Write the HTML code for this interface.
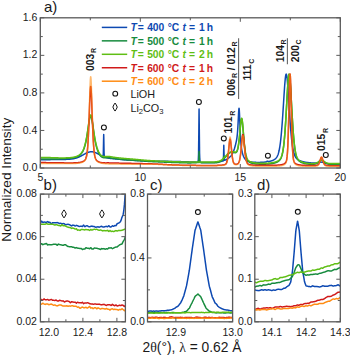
<!DOCTYPE html>
<html><head><meta charset="utf-8"><style>
html,body{margin:0;padding:0;background:#fff;}
svg{display:block;font-family:"Liberation Sans",sans-serif;}
</style></head><body>
<svg width="350" height="356" viewBox="0 0 350 356">
<rect width="350" height="356" fill="#fff"/>
<defs><clipPath id="ca"><rect x="40.30" y="17.80" width="300.00" height="150.20"/></clipPath><clipPath id="cb"><rect x="40.40" y="194.10" width="85.00" height="127.70"/></clipPath><clipPath id="cc"><rect x="147.50" y="194.10" width="85.10" height="127.70"/></clipPath><clipPath id="cd"><rect x="254.80" y="194.10" width="85.50" height="127.70"/></clipPath></defs>
<polyline clip-path="url(#ca)" points="40.30,159.70 40.55,159.70 40.80,159.70 41.05,159.70 41.30,159.70 41.55,159.70 41.80,159.70 42.05,159.70 42.30,159.70 42.55,159.70 42.80,159.69 43.05,159.69 43.30,159.69 43.55,159.69 43.80,159.69 44.05,159.69 44.30,159.69 44.55,159.69 44.80,159.68 45.05,159.68 45.30,159.68 45.55,159.68 45.80,159.68 46.05,159.67 46.30,159.67 46.55,159.67 46.80,159.67 47.05,159.66 47.30,159.66 47.55,159.66 47.80,159.66 48.05,159.65 48.30,159.65 48.55,159.65 48.80,159.65 49.05,159.64 49.30,159.64 49.55,159.64 49.80,159.63 50.05,159.63 50.30,159.63 50.55,159.62 50.80,159.62 51.05,159.62 51.30,159.61 51.55,159.61 51.80,159.61 52.05,159.61 52.30,159.60 52.55,159.60 52.80,159.60 53.05,159.59 53.30,159.59 53.55,159.59 53.80,159.58 54.05,159.58 54.30,159.57 54.55,159.57 54.80,159.57 55.05,159.56 55.30,159.56 55.55,159.56 55.80,159.55 56.05,159.55 56.30,159.55 56.55,159.54 56.80,159.54 57.05,159.54 57.30,159.53 57.55,159.53 57.80,159.53 58.05,159.52 58.30,159.52 58.55,159.52 58.80,159.52 59.05,159.51 59.30,159.51 59.55,159.51 59.80,159.50 60.05,159.50 60.30,159.50 60.55,159.49 60.80,159.49 61.05,159.49 61.30,159.48 61.55,159.48 61.80,159.47 62.05,159.47 62.30,159.47 62.55,159.46 62.80,159.46 63.05,159.45 63.30,159.45 63.55,159.44 63.80,159.44 64.05,159.43 64.30,159.43 64.55,159.42 64.80,159.41 65.05,159.41 65.30,159.40 65.55,159.39 65.80,159.39 66.05,159.38 66.30,159.37 66.55,159.36 66.80,159.35 67.05,159.34 67.30,159.33 67.55,159.32 67.80,159.31 68.05,159.29 68.30,159.28 68.55,159.26 68.80,159.25 69.05,159.23 69.30,159.21 69.55,159.20 69.80,159.18 70.05,159.16 70.30,159.13 70.55,159.11 70.80,159.08 71.05,159.06 71.30,159.03 71.55,159.00 71.80,158.97 72.05,158.94 72.30,158.90 72.55,158.86 72.80,158.82 73.05,158.78 73.30,158.74 73.55,158.69 73.80,158.65 74.05,158.59 74.30,158.54 74.55,158.49 74.80,158.43 75.05,158.37 75.30,158.30 75.55,158.23 75.80,158.16 76.05,158.09 76.30,158.02 76.55,157.94 76.80,157.85 77.05,157.77 77.30,157.68 77.55,157.59 77.80,157.49 78.05,157.40 78.30,157.29 78.55,157.19 78.80,157.08 79.05,156.97 79.30,156.86 79.55,156.74 79.80,156.62 80.05,156.50 80.30,156.38 80.55,156.25 80.80,156.12 81.05,155.99 81.30,155.86 81.55,155.72 81.80,155.59 82.05,155.45 82.30,155.31 82.55,155.17 82.80,155.03 83.05,154.89 83.30,154.74 83.55,154.60 83.80,154.46 84.05,154.32 84.30,154.18 84.55,154.04 84.80,153.90 85.05,153.77 85.30,153.63 85.55,153.50 85.80,153.37 86.05,153.25 86.30,153.13 86.55,153.01 86.80,152.89 87.05,152.78 87.30,152.67 87.55,152.57 87.80,152.48 88.05,152.38 88.30,152.30 88.55,152.22 88.80,152.14 89.05,152.07 89.30,152.01 89.55,151.96 89.80,151.91 90.05,151.87 90.30,151.83 90.55,151.80 90.70,151.79 90.80,151.78 91.05,151.77 91.30,151.76 91.55,151.76 91.80,151.77 92.05,151.78 92.30,151.80 92.55,151.83 92.80,151.87 93.05,151.91 93.30,151.96 93.55,152.01 93.80,152.07 94.05,152.14 94.30,152.21 94.55,152.29 94.80,152.38 95.05,152.47 95.30,152.56 95.55,152.66 95.80,152.76 96.05,152.87 96.30,152.98 96.55,153.10 96.80,153.22 97.05,153.34 97.30,153.46 97.55,153.59 97.80,153.72 98.05,153.85 98.30,153.98 98.55,154.12 98.80,154.25 99.05,154.38 99.30,154.52 99.55,154.65 99.80,154.79 100.05,154.92 100.30,155.06 100.55,155.19 100.80,155.32 101.05,155.45 101.30,155.58 101.55,155.71 101.80,155.83 102.05,155.95 102.30,156.07 102.55,156.17 102.80,156.21 103.05,155.96 103.30,153.77 103.55,141.73 103.70,134.58 103.80,138.30 104.05,152.83 104.30,156.30 104.55,156.91 104.80,157.10 105.05,157.21 105.30,157.30 105.55,157.39 105.80,157.47 106.05,157.55 106.30,157.62 106.55,157.69 106.80,157.76 107.05,157.82 107.30,157.88 107.55,157.94 107.80,158.00 108.05,158.05 108.30,158.10 108.55,158.15 108.80,158.20 109.05,158.24 109.30,158.28 109.55,158.32 109.80,158.36 110.05,158.39 110.30,158.42 110.55,158.46 110.80,158.48 111.05,158.51 111.30,158.54 111.55,158.56 111.80,158.58 112.05,158.60 112.30,158.62 112.55,158.65 112.80,158.67 113.05,158.69 113.30,158.71 113.55,158.73 113.80,158.75 114.05,158.77 114.30,158.80 114.55,158.82 114.80,158.84 115.05,158.87 115.30,158.89 115.55,158.91 115.80,158.94 116.05,158.96 116.30,158.99 116.55,159.01 116.80,159.04 117.05,159.06 117.30,159.09 117.55,159.11 117.80,159.14 118.05,159.16 118.30,159.19 118.55,159.21 118.80,159.24 119.05,159.27 119.30,159.29 119.55,159.32 119.80,159.34 120.05,159.37 120.30,159.40 120.55,159.42 120.80,159.45 121.05,159.47 121.30,159.50 121.55,159.52 121.80,159.54 122.05,159.57 122.30,159.59 122.55,159.61 122.80,159.64 123.05,159.66 123.30,159.68 123.55,159.70 123.80,159.72 124.05,159.74 124.30,159.75 124.55,159.77 124.80,159.79 125.05,159.80 125.30,159.82 125.55,159.83 125.80,159.85 126.05,159.86 126.30,159.88 126.55,159.89 126.80,159.91 127.05,159.92 127.30,159.94 127.55,159.95 127.80,159.97 128.05,159.98 128.30,159.99 128.55,160.01 128.80,160.02 129.05,160.04 129.30,160.05 129.55,160.07 129.80,160.08 130.05,160.09 130.30,160.11 130.55,160.12 130.80,160.14 131.05,160.15 131.30,160.16 131.55,160.18 131.80,160.19 132.05,160.21 132.30,160.22 132.55,160.23 132.80,160.25 133.05,160.26 133.30,160.28 133.55,160.29 133.80,160.30 134.05,160.32 134.30,160.33 134.55,160.34 134.80,160.36 135.05,160.37 135.30,160.38 135.55,160.39 135.80,160.41 136.05,160.42 136.30,160.43 136.55,160.45 136.80,160.46 137.05,160.47 137.30,160.48 137.55,160.50 137.80,160.51 138.05,160.52 138.30,160.53 138.55,160.55 138.80,160.56 139.05,160.57 139.30,160.58 139.55,160.59 139.80,160.61 140.05,160.62 140.30,160.63 140.55,160.64 140.80,160.65 141.05,160.66 141.30,160.67 141.55,160.69 141.80,160.70 142.05,160.71 142.30,160.72 142.55,160.73 142.80,160.74 143.05,160.75 143.30,160.76 143.55,160.77 143.80,160.78 144.05,160.79 144.30,160.80 144.55,160.81 144.80,160.82 145.05,160.83 145.30,160.84 145.55,160.85 145.80,160.86 146.05,160.87 146.30,160.88 146.55,160.89 146.80,160.90 147.05,160.91 147.30,160.91 147.55,160.92 147.80,160.93 148.05,160.94 148.30,160.95 148.55,160.96 148.80,160.96 149.05,160.97 149.30,160.98 149.55,160.99 149.80,160.99 150.05,161.00 150.30,161.01 150.55,161.02 150.80,161.02 151.05,161.03 151.30,161.04 151.55,161.04 151.80,161.05 152.05,161.06 152.30,161.06 152.55,161.07 152.80,161.08 153.05,161.08 153.30,161.09 153.55,161.09 153.80,161.10 154.05,161.11 154.30,161.11 154.55,161.12 154.80,161.12 155.05,161.13 155.30,161.14 155.55,161.14 155.80,161.15 156.05,161.15 156.30,161.16 156.55,161.16 156.80,161.17 157.05,161.17 157.30,161.18 157.55,161.18 157.80,161.19 158.05,161.19 158.30,161.20 158.55,161.20 158.80,161.21 159.05,161.21 159.30,161.22 159.55,161.22 159.80,161.23 160.05,161.23 160.30,161.24 160.55,161.24 160.80,161.25 161.05,161.25 161.30,161.25 161.55,161.26 161.80,161.26 162.05,161.27 162.30,161.27 162.55,161.28 162.80,161.28 163.05,161.28 163.30,161.29 163.55,161.29 163.80,161.30 164.05,161.30 164.30,161.31 164.55,161.31 164.80,161.31 165.05,161.32 165.30,161.32 165.55,161.33 165.80,161.33 166.05,161.33 166.30,161.34 166.55,161.34 166.80,161.35 167.05,161.35 167.30,161.35 167.55,161.36 167.80,161.36 168.05,161.37 168.30,161.37 168.55,161.38 168.80,161.38 169.05,161.38 169.30,161.39 169.55,161.39 169.80,161.40 170.05,161.40 170.30,161.40 170.55,161.41 170.80,161.41 171.05,161.42 171.30,161.42 171.55,161.43 171.80,161.43 172.05,161.44 172.30,161.44 172.55,161.44 172.80,161.45 173.05,161.45 173.30,161.46 173.55,161.46 173.80,161.47 174.05,161.47 174.30,161.48 174.55,161.48 174.80,161.49 175.05,161.49 175.30,161.50 175.55,161.50 175.80,161.51 176.05,161.51 176.30,161.52 176.55,161.52 176.80,161.53 177.05,161.53 177.30,161.54 177.55,161.54 177.80,161.55 178.05,161.55 178.30,161.56 178.55,161.57 178.80,161.57 179.05,161.58 179.30,161.58 179.55,161.59 179.80,161.60 180.05,161.60 180.30,161.61 180.55,161.61 180.80,161.62 181.05,161.63 181.30,161.63 181.55,161.64 181.80,161.65 182.05,161.65 182.30,161.66 182.55,161.67 182.80,161.68 183.05,161.68 183.30,161.69 183.55,161.70 183.80,161.70 184.05,161.71 184.30,161.72 184.55,161.73 184.80,161.73 185.05,161.74 185.30,161.75 185.55,161.76 185.80,161.77 186.05,161.77 186.30,161.78 186.55,161.79 186.80,161.80 187.05,161.81 187.30,161.81 187.55,161.82 187.80,161.83 188.05,161.84 188.30,161.85 188.55,161.85 188.80,161.86 189.05,161.87 189.30,161.88 189.55,161.89 189.80,161.89 190.05,161.90 190.30,161.91 190.55,161.92 190.80,161.93 191.05,161.94 191.30,161.94 191.55,161.95 191.80,161.96 192.05,161.97 192.30,161.98 192.55,161.99 192.80,162.00 193.05,162.01 193.30,162.02 193.55,162.04 193.80,162.05 194.05,162.06 194.30,162.07 194.55,162.08 194.80,162.09 195.05,162.10 195.30,162.11 195.55,162.12 195.80,162.14 196.05,162.15 196.30,162.16 196.55,162.17 196.80,162.17 197.05,162.18 197.30,162.17 197.55,162.14 197.80,162.02 198.05,161.63 198.30,160.18 198.55,154.34 198.80,134.18 199.05,109.22 199.07,109.05 199.30,129.72 199.55,152.68 199.80,159.82 200.05,161.61 200.30,162.10 200.55,162.26 200.80,162.33 201.05,162.36 201.30,162.38 201.55,162.40 201.80,162.41 202.05,162.42 202.30,162.43 202.55,162.44 202.80,162.45 203.05,162.46 203.30,162.47 203.55,162.48 203.80,162.49 204.05,162.50 204.30,162.51 204.55,162.52 204.80,162.52 205.05,162.53 205.30,162.54 205.55,162.55 205.80,162.55 206.05,162.56 206.30,162.57 206.55,162.57 206.80,162.58 207.05,162.58 207.30,162.59 207.55,162.59 207.80,162.60 208.05,162.60 208.30,162.61 208.55,162.61 208.80,162.61 209.05,162.61 209.30,162.61 209.55,162.62 209.80,162.62 210.05,162.62 210.30,162.62 210.55,162.62 210.80,162.61 211.05,162.61 211.30,162.61 211.55,162.61 211.80,162.60 212.05,162.60 212.30,162.59 212.55,162.58 212.80,162.57 213.05,162.56 213.30,162.54 213.55,162.52 213.80,162.50 214.05,162.48 214.30,162.45 214.55,162.42 214.80,162.39 215.05,162.36 215.30,162.33 215.55,162.30 215.80,162.27 216.05,162.23 216.30,162.19 216.55,162.16 216.80,162.12 217.05,162.08 217.30,162.04 217.55,162.00 217.80,161.96 218.05,161.92 218.30,161.88 218.55,161.83 218.80,161.79 219.05,161.75 219.30,161.70 219.55,161.66 219.80,161.62 220.05,161.57 220.30,161.53 220.55,161.48 220.80,161.44 221.05,161.39 221.30,161.34 221.55,161.29 221.80,161.24 222.05,161.18 222.30,161.12 222.55,161.05 222.80,160.98 223.05,160.91 223.30,160.63 223.55,155.53 223.80,145.28 224.05,155.35 224.30,160.27 224.55,160.37 224.80,160.26 225.05,160.15 225.30,160.03 225.55,159.91 225.80,159.78 226.05,159.65 226.30,159.51 226.55,159.37 226.80,159.22 227.05,159.06 227.30,158.90 227.55,158.74 227.80,158.57 228.05,158.40 228.30,158.22 228.55,158.03 228.80,157.84 229.05,157.64 229.30,157.43 229.55,157.22 229.80,156.99 230.05,156.76 230.10,156.71 230.30,156.51 230.55,156.25 230.80,155.97 231.05,155.68 231.30,155.36 231.55,155.02 231.80,154.66 232.05,154.27 232.30,153.84 232.55,153.39 232.80,152.89 233.05,152.36 233.30,151.79 233.55,151.17 233.80,150.50 234.05,149.79 234.30,149.04 234.55,148.23 234.80,147.38 235.05,146.49 235.30,145.55 235.55,144.57 235.80,143.55 236.05,142.47 236.30,141.31 236.55,140.04 236.80,138.58 237.05,136.81 237.30,134.57 237.55,131.72 237.80,128.10 238.05,123.71 238.30,118.71 238.55,113.66 238.80,109.67 239.05,108.24 239.08,108.30 239.30,110.26 239.55,115.11 239.80,121.30 240.05,127.54 240.30,133.13 240.55,137.81 240.80,141.56 241.05,144.49 241.30,146.78 241.55,148.60 241.70,149.53 241.80,150.09 242.05,151.35 242.30,152.44 242.55,153.41 242.80,154.27 242.90,154.59 243.05,155.05 243.30,155.75 243.55,156.38 243.80,156.95 244.05,157.47 244.30,157.93 244.55,158.34 244.80,158.71 245.05,159.05 245.30,159.34 245.55,159.61 245.80,159.86 246.05,160.07 246.30,160.27 246.55,160.45 246.80,160.61 247.05,160.75 247.30,160.89 247.55,161.01 247.80,161.12 248.05,161.22 248.30,161.32 248.55,161.40 248.80,161.48 249.05,161.55 249.30,161.62 249.55,161.68 249.80,161.74 250.05,161.80 250.30,161.85 250.55,161.89 250.80,161.94 251.05,161.98 251.30,162.01 251.55,162.05 251.80,162.08 252.05,162.11 252.30,162.14 252.55,162.16 252.80,162.19 253.05,162.21 253.30,162.23 253.55,162.25 253.80,162.27 254.05,162.28 254.30,162.30 254.55,162.31 254.80,162.33 255.05,162.34 255.30,162.35 255.55,162.36 255.80,162.37 256.05,162.37 256.30,162.38 256.55,162.39 256.80,162.39 257.05,162.39 257.30,162.40 257.55,162.40 257.80,162.40 258.05,162.40 258.30,162.40 258.55,162.40 258.80,162.40 259.05,162.40 259.30,162.39 259.55,162.39 259.80,162.38 260.05,162.38 260.30,162.37 260.55,162.36 260.80,162.35 261.05,162.34 261.30,162.33 261.55,162.32 261.80,162.31 262.05,162.30 262.30,162.28 262.55,162.27 262.80,162.25 263.05,162.24 263.30,162.22 263.55,162.20 263.80,162.18 264.05,162.16 264.30,162.14 264.55,162.12 264.80,162.09 265.05,162.07 265.30,162.04 265.55,162.01 265.80,161.97 266.05,161.90 266.30,161.79 266.55,161.64 266.80,161.47 267.05,161.31 267.30,161.23 267.55,161.24 267.80,161.32 268.05,161.41 268.30,161.49 268.55,161.52 268.80,161.51 269.05,161.48 269.30,161.43 269.55,161.38 269.80,161.32 270.05,161.26 270.30,161.20 270.55,161.13 270.80,161.06 271.05,160.99 271.30,160.91 271.55,160.83 271.80,160.74 272.05,160.65 272.30,160.56 272.55,160.46 272.80,160.35 273.05,160.24 273.30,160.12 273.55,160.00 273.80,159.86 274.05,159.72 274.30,159.57 274.55,159.40 274.80,159.23 275.05,159.04 275.30,158.83 275.55,158.60 275.80,158.35 276.05,158.08 276.30,157.77 276.55,157.44 276.80,157.06 277.05,156.64 277.30,156.17 277.55,155.65 277.80,155.06 278.05,154.39 278.30,153.64 278.55,152.80 278.80,151.85 279.05,150.78 279.30,149.59 279.55,148.25 279.80,146.77 280.05,145.12 280.30,143.29 280.55,141.28 280.80,139.09 281.05,136.69 281.30,134.09 281.55,131.29 281.80,128.28 282.05,125.08 282.30,121.70 282.55,118.14 282.80,114.43 283.05,110.59 283.30,106.66 283.55,102.68 283.80,98.69 284.05,94.75 284.30,90.93 284.55,87.30 284.80,83.95 285.05,80.96 285.30,78.42 285.55,76.41 285.80,75.00 286.05,74.25 286.20,74.12 286.30,74.18 286.55,74.80 286.80,76.09 287.05,77.98 287.30,80.43 287.55,83.34 287.80,86.63 288.05,90.21 288.30,94.01 288.55,97.93 288.80,101.92 289.05,105.91 289.10,106.71 289.30,109.86 289.55,113.72 289.80,117.46 290.05,121.06 290.10,121.76 290.30,124.48 290.55,127.72 290.80,130.77 291.05,133.62 291.30,136.26 291.55,138.70 291.80,140.95 292.05,142.99 292.30,144.86 292.55,146.55 292.80,148.07 293.05,149.44 293.30,150.66 293.55,151.76 293.80,152.73 294.05,153.60 294.30,154.37 294.55,155.06 294.80,155.67 295.05,156.21 295.30,156.70 295.55,157.13 295.80,157.52 296.05,157.86 296.30,158.18 296.55,158.46 296.80,158.72 297.05,158.96 297.30,159.17 297.55,159.37 297.80,159.56 298.05,159.73 298.30,159.89 298.55,160.04 298.80,160.18 299.05,160.31 299.30,160.44 299.55,160.56 299.80,160.67 300.05,160.77 300.30,160.88 300.55,160.97 300.80,161.06 301.05,161.15 301.30,161.23 301.55,161.31 301.80,161.39 302.05,161.46 302.30,161.53 302.55,161.60 302.80,161.66 303.05,161.72 303.30,161.78 303.55,161.84 303.80,161.90 304.05,161.95 304.30,162.00 304.55,162.05 304.80,162.10 305.05,162.14 305.30,162.18 305.55,162.23 305.80,162.27 306.05,162.31 306.30,162.35 306.55,162.38 306.80,162.42 307.05,162.45 307.30,162.49 307.55,162.52 307.80,162.55 308.05,162.58 308.30,162.61 308.55,162.64 308.80,162.67 309.05,162.70 309.30,162.73 309.55,162.75 309.80,162.78 310.05,162.80 310.30,162.83 310.55,162.85 310.80,162.87 311.05,162.89 311.30,162.91 311.55,162.93 311.80,162.95 312.05,162.97 312.30,162.99 312.55,163.00 312.80,163.02 313.05,163.03 313.30,163.04 313.55,163.05 313.80,163.05 314.05,163.06 314.30,163.06 314.55,163.06 314.80,163.05 315.05,163.04 315.30,163.03 315.55,163.01 315.80,162.98 316.05,162.96 316.30,162.93 316.55,162.89 316.80,162.85 317.05,162.80 317.30,162.76 317.55,162.70 317.80,162.65 318.05,162.59 318.30,162.53 318.55,162.47 318.80,162.42 319.05,162.36 319.30,162.31 319.55,162.26 319.80,162.22 320.05,162.18 320.30,162.15 320.55,162.13 320.80,162.12 321.05,162.11 321.30,162.12 321.50,162.13 321.55,162.14 321.80,162.16 322.05,162.20 322.30,162.24 322.55,162.29 322.80,162.35 323.05,162.41 323.30,162.48 323.55,162.56 323.80,162.63 324.05,162.71 324.30,162.79 324.55,162.87 324.80,162.95 325.05,163.03 325.30,163.10 325.55,163.18 325.80,163.24 326.05,163.31 326.30,163.37 326.55,163.42 326.80,163.47 327.05,163.52 327.30,163.56 327.55,163.59 327.80,163.63 328.05,163.66 328.30,163.69 328.55,163.71 328.80,163.73 329.05,163.75 329.30,163.77 329.55,163.78 329.80,163.79 330.05,163.81 330.30,163.82 330.55,163.83 330.80,163.84 331.05,163.84 331.30,163.85 331.55,163.86 331.80,163.87 332.05,163.87 332.30,163.88 332.55,163.88 332.80,163.89 333.05,163.89 333.30,163.90 333.55,163.91 333.80,163.91 334.05,163.92 334.30,163.92 334.55,163.92 334.80,163.93 335.05,163.93 335.30,163.94 335.55,163.94 335.80,163.95 336.05,163.95 336.30,163.95 336.55,163.96 336.80,163.96 337.05,163.96 337.30,163.97 337.55,163.97 337.80,163.97 338.05,163.98 338.30,163.98 338.55,163.98 338.80,163.99 339.05,163.99 339.30,163.99 339.55,163.99 339.80,164.00 340.05,164.00 340.30,164.00" fill="none" stroke="#0d49b2" stroke-width="1.5" stroke-linejoin="round"/>
<polyline clip-path="url(#ca)" points="40.30,159.10 40.55,159.10 40.80,159.10 41.05,159.10 41.30,159.10 41.55,159.10 41.80,159.10 42.05,159.10 42.30,159.09 42.55,159.09 42.80,159.09 43.05,159.09 43.30,159.09 43.55,159.09 43.80,159.09 44.05,159.09 44.30,159.09 44.55,159.08 44.80,159.08 45.05,159.08 45.30,159.08 45.55,159.08 45.80,159.08 46.05,159.08 46.30,159.07 46.55,159.07 46.80,159.07 47.05,159.07 47.30,159.07 47.55,159.06 47.80,159.06 48.05,159.06 48.30,159.06 48.55,159.06 48.80,159.05 49.05,159.05 49.30,159.05 49.55,159.05 49.80,159.04 50.05,159.04 50.30,159.04 50.55,159.04 50.80,159.03 51.05,159.03 51.30,159.03 51.55,159.02 51.80,159.02 52.05,159.02 52.30,159.01 52.55,159.01 52.80,159.01 53.05,159.00 53.30,159.00 53.55,158.99 53.80,158.99 54.05,158.99 54.30,158.98 54.55,158.98 54.80,158.97 55.05,158.97 55.30,158.96 55.55,158.96 55.80,158.95 56.05,158.95 56.30,158.94 56.55,158.94 56.80,158.93 57.05,158.93 57.30,158.92 57.55,158.91 57.80,158.91 58.05,158.90 58.30,158.89 58.55,158.89 58.80,158.88 59.05,158.87 59.30,158.86 59.55,158.86 59.80,158.85 60.05,158.84 60.30,158.83 60.55,158.82 60.80,158.81 61.05,158.80 61.30,158.79 61.55,158.78 61.80,158.77 62.05,158.76 62.30,158.75 62.55,158.74 62.80,158.73 63.05,158.71 63.30,158.70 63.55,158.69 63.80,158.67 64.05,158.66 64.30,158.64 64.55,158.63 64.80,158.61 65.05,158.60 65.30,158.58 65.55,158.56 65.80,158.55 66.05,158.53 66.30,158.52 66.55,158.50 66.80,158.48 67.05,158.47 67.30,158.45 67.55,158.43 67.80,158.42 68.05,158.40 68.30,158.38 68.55,158.36 68.80,158.35 69.05,158.33 69.30,158.31 69.55,158.29 69.80,158.26 70.05,158.24 70.30,158.22 70.55,158.20 70.80,158.17 71.05,158.14 71.30,158.12 71.55,158.09 71.80,158.06 72.05,158.03 72.30,157.99 72.55,157.96 72.80,157.92 73.05,157.88 73.30,157.84 73.55,157.79 73.80,157.75 74.05,157.70 74.30,157.65 74.55,157.59 74.80,157.53 75.05,157.47 75.30,157.41 75.55,157.34 75.80,157.26 76.05,157.18 76.30,157.10 76.55,157.01 76.80,156.92 77.05,156.82 77.30,156.71 77.55,156.60 77.80,156.48 78.05,156.35 78.30,156.21 78.55,156.06 78.80,155.91 79.05,155.74 79.30,155.57 79.55,155.38 79.80,155.18 80.05,154.96 80.30,154.73 80.55,154.49 80.80,154.23 81.05,153.95 81.30,153.65 81.55,153.32 81.80,152.98 82.05,152.61 82.30,152.21 82.55,151.79 82.80,151.33 83.05,150.84 83.30,150.31 83.55,149.74 83.80,149.13 84.05,148.47 84.30,147.76 84.55,147.00 84.80,146.18 85.05,145.30 85.30,144.35 85.55,143.33 85.80,142.24 86.05,141.07 86.30,139.82 86.55,138.49 86.80,137.07 87.05,135.57 87.30,134.00 87.55,132.35 87.80,130.65 88.05,128.90 88.30,127.13 88.55,125.36 88.80,123.62 89.05,121.96 89.30,120.42 89.55,119.03 89.80,117.85 90.05,116.92 90.30,116.28 90.55,115.94 90.70,115.90 90.80,115.94 91.05,116.26 91.30,116.89 91.55,117.82 91.80,119.00 92.05,120.40 92.30,121.97 92.55,123.66 92.80,125.43 93.05,127.25 93.30,129.07 93.55,130.88 93.80,132.64 94.05,134.35 94.30,135.98 94.55,137.55 94.80,139.03 95.05,140.42 95.30,141.74 95.55,142.97 95.80,144.12 96.05,145.20 96.30,146.21 96.55,147.15 96.80,148.02 97.05,148.84 97.30,149.60 97.55,150.31 97.80,150.97 98.05,151.59 98.30,152.17 98.55,152.70 98.80,153.21 99.05,153.68 99.30,154.11 99.55,154.53 99.80,154.91 100.05,155.27 100.30,155.60 100.55,155.90 100.80,156.17 101.05,156.41 101.30,156.63 101.55,156.82 101.80,156.99 102.05,157.14 102.30,157.27 102.55,157.38 102.80,157.48 103.05,157.56 103.30,157.63 103.55,157.68 103.70,157.71 103.80,157.72 104.05,157.76 104.30,157.78 104.55,157.79 104.80,157.80 105.05,157.80 105.30,157.80 105.55,157.79 105.80,157.78 106.05,157.76 106.30,157.75 106.55,157.73 106.80,157.71 107.05,157.69 107.30,157.68 107.55,157.66 107.80,157.65 108.05,157.64 108.30,157.64 108.55,157.64 108.80,157.65 109.05,157.67 109.30,157.69 109.55,157.72 109.80,157.76 110.05,157.81 110.30,157.86 110.55,157.91 110.80,157.96 111.05,158.01 111.30,158.05 111.55,158.10 111.80,158.14 112.05,158.18 112.30,158.23 112.55,158.27 112.80,158.31 113.05,158.35 113.30,158.38 113.55,158.42 113.80,158.46 114.05,158.49 114.30,158.53 114.55,158.57 114.80,158.60 115.05,158.63 115.30,158.67 115.55,158.70 115.80,158.73 116.05,158.76 116.30,158.80 116.55,158.83 116.80,158.86 117.05,158.89 117.30,158.92 117.55,158.95 117.80,158.98 118.05,159.00 118.30,159.03 118.55,159.06 118.80,159.09 119.05,159.12 119.30,159.14 119.55,159.17 119.80,159.20 120.05,159.22 120.30,159.25 120.55,159.28 120.80,159.30 121.05,159.33 121.30,159.35 121.55,159.38 121.80,159.40 122.05,159.43 122.30,159.45 122.55,159.48 122.80,159.50 123.05,159.52 123.30,159.55 123.55,159.57 123.80,159.59 124.05,159.62 124.30,159.64 124.55,159.66 124.80,159.69 125.05,159.71 125.30,159.73 125.55,159.75 125.80,159.77 126.05,159.79 126.30,159.81 126.55,159.84 126.80,159.86 127.05,159.88 127.30,159.90 127.55,159.92 127.80,159.94 128.05,159.96 128.30,159.98 128.55,159.99 128.80,160.01 129.05,160.03 129.30,160.05 129.55,160.07 129.80,160.09 130.05,160.10 130.30,160.12 130.55,160.14 130.80,160.16 131.05,160.17 131.30,160.19 131.55,160.21 131.80,160.23 132.05,160.25 132.30,160.26 132.55,160.28 132.80,160.30 133.05,160.32 133.30,160.34 133.55,160.36 133.80,160.38 134.05,160.39 134.30,160.41 134.55,160.43 134.80,160.45 135.05,160.47 135.30,160.49 135.55,160.51 135.80,160.53 136.05,160.54 136.30,160.56 136.55,160.58 136.80,160.60 137.05,160.62 137.30,160.64 137.55,160.66 137.80,160.68 138.05,160.70 138.30,160.72 138.55,160.73 138.80,160.75 139.05,160.77 139.30,160.79 139.55,160.81 139.80,160.83 140.05,160.85 140.30,160.87 140.55,160.88 140.80,160.90 141.05,160.92 141.30,160.94 141.55,160.96 141.80,160.98 142.05,160.99 142.30,161.01 142.55,161.03 142.80,161.05 143.05,161.07 143.30,161.08 143.55,161.10 143.80,161.12 144.05,161.14 144.30,161.15 144.55,161.17 144.80,161.19 145.05,161.20 145.30,161.22 145.55,161.24 145.80,161.25 146.05,161.27 146.30,161.29 146.55,161.30 146.80,161.32 147.05,161.33 147.30,161.35 147.55,161.36 147.80,161.38 148.05,161.39 148.30,161.41 148.55,161.42 148.80,161.44 149.05,161.45 149.30,161.46 149.55,161.48 149.80,161.49 150.05,161.50 150.30,161.52 150.55,161.53 150.80,161.54 151.05,161.55 151.30,161.57 151.55,161.58 151.80,161.59 152.05,161.60 152.30,161.62 152.55,161.63 152.80,161.64 153.05,161.65 153.30,161.66 153.55,161.68 153.80,161.69 154.05,161.70 154.30,161.71 154.55,161.72 154.80,161.73 155.05,161.75 155.30,161.76 155.55,161.77 155.80,161.78 156.05,161.79 156.30,161.80 156.55,161.81 156.80,161.83 157.05,161.84 157.30,161.85 157.55,161.86 157.80,161.87 158.05,161.88 158.30,161.89 158.55,161.90 158.80,161.91 159.05,161.92 159.30,161.93 159.55,161.94 159.80,161.96 160.05,161.97 160.30,161.98 160.55,161.99 160.80,162.00 161.05,162.01 161.30,162.02 161.55,162.03 161.80,162.04 162.05,162.05 162.30,162.06 162.55,162.07 162.80,162.08 163.05,162.09 163.30,162.10 163.55,162.11 163.80,162.12 164.05,162.13 164.30,162.14 164.55,162.15 164.80,162.16 165.05,162.16 165.30,162.17 165.55,162.18 165.80,162.19 166.05,162.20 166.30,162.21 166.55,162.22 166.80,162.23 167.05,162.24 167.30,162.25 167.55,162.26 167.80,162.27 168.05,162.28 168.30,162.28 168.55,162.29 168.80,162.30 169.05,162.31 169.30,162.32 169.55,162.33 169.80,162.34 170.05,162.35 170.30,162.35 170.55,162.36 170.80,162.37 171.05,162.38 171.30,162.39 171.55,162.40 171.80,162.40 172.05,162.41 172.30,162.42 172.55,162.43 172.80,162.44 173.05,162.45 173.30,162.45 173.55,162.46 173.80,162.47 174.05,162.48 174.30,162.49 174.55,162.49 174.80,162.50 175.05,162.51 175.30,162.52 175.55,162.53 175.80,162.53 176.05,162.54 176.30,162.55 176.55,162.56 176.80,162.56 177.05,162.57 177.30,162.58 177.55,162.59 177.80,162.59 178.05,162.60 178.30,162.61 178.55,162.62 178.80,162.62 179.05,162.63 179.30,162.64 179.55,162.65 179.80,162.66 180.05,162.67 180.30,162.67 180.55,162.68 180.80,162.69 181.05,162.70 181.30,162.71 181.55,162.72 181.80,162.73 182.05,162.73 182.30,162.74 182.55,162.75 182.80,162.76 183.05,162.77 183.30,162.77 183.55,162.78 183.80,162.79 184.05,162.80 184.30,162.81 184.55,162.81 184.80,162.82 185.05,162.83 185.30,162.83 185.55,162.84 185.80,162.85 186.05,162.85 186.30,162.86 186.55,162.86 186.80,162.87 187.05,162.87 187.30,162.88 187.55,162.88 187.80,162.89 188.05,162.89 188.30,162.89 188.55,162.89 188.80,162.90 189.05,162.90 189.30,162.90 189.55,162.90 189.80,162.90 190.05,162.90 190.30,162.90 190.55,162.90 190.80,162.89 191.05,162.89 191.30,162.88 191.55,162.87 191.80,162.86 192.05,162.85 192.30,162.84 192.55,162.83 192.80,162.82 193.05,162.80 193.30,162.79 193.55,162.78 193.80,162.76 194.05,162.75 194.30,162.74 194.55,162.72 194.80,162.71 195.05,162.70 195.30,162.68 195.55,162.67 195.80,162.66 196.05,162.65 196.30,162.64 196.55,162.63 196.80,162.62 197.05,162.61 197.30,162.61 197.55,162.60 197.80,162.60 198.05,162.60 198.30,162.60 198.55,162.42 198.80,158.93 199.05,151.53 199.07,151.48 199.30,157.76 199.55,162.30 199.80,162.60 200.05,162.61 200.30,162.61 200.55,162.62 200.80,162.62 201.05,162.63 201.30,162.63 201.55,162.64 201.80,162.64 202.05,162.65 202.30,162.65 202.55,162.66 202.80,162.66 203.05,162.67 203.30,162.68 203.55,162.68 203.80,162.69 204.05,162.70 204.30,162.70 204.55,162.71 204.80,162.72 205.05,162.73 205.30,162.73 205.55,162.74 205.80,162.75 206.05,162.75 206.30,162.76 206.55,162.77 206.80,162.77 207.05,162.78 207.30,162.78 207.55,162.79 207.80,162.80 208.05,162.80 208.30,162.81 208.55,162.81 208.80,162.82 209.05,162.82 209.30,162.83 209.55,162.83 209.80,162.84 210.05,162.84 210.30,162.84 210.55,162.85 210.80,162.85 211.05,162.86 211.30,162.86 211.55,162.86 211.80,162.86 212.05,162.87 212.30,162.87 212.55,162.87 212.80,162.87 213.05,162.87 213.30,162.87 213.55,162.86 213.80,162.86 214.05,162.85 214.30,162.85 214.55,162.84 214.80,162.83 215.05,162.81 215.30,162.80 215.55,162.78 215.80,162.76 216.05,162.74 216.30,162.71 216.55,162.68 216.80,162.64 217.05,162.61 217.30,162.56 217.55,162.51 217.80,162.46 218.05,162.40 218.30,162.34 218.55,162.27 218.80,162.19 219.05,162.11 219.30,162.01 219.55,161.91 219.80,161.81 220.05,161.69 220.30,161.57 220.55,161.43 220.80,161.29 221.05,161.14 221.30,160.98 221.55,160.81 221.80,160.63 222.05,160.44 222.30,160.25 222.55,160.04 222.80,159.82 223.05,159.60 223.30,159.31 223.55,158.12 223.80,156.24 224.05,157.61 224.30,158.29 224.55,158.08 224.80,157.81 225.05,157.53 225.30,157.25 225.55,156.96 225.80,156.67 226.05,156.39 226.30,156.10 226.55,155.82 226.80,155.54 227.05,155.26 227.30,154.99 227.55,154.73 227.80,154.47 228.05,154.22 228.30,153.98 228.55,153.76 228.80,153.54 229.05,153.34 229.30,153.16 229.55,152.98 229.80,152.83 230.05,152.68 230.10,152.66 230.30,152.56 230.55,152.45 230.80,152.36 231.05,152.29 231.30,152.23 231.55,152.19 231.80,152.16 232.05,152.15 232.30,152.16 232.55,152.18 232.80,152.21 233.05,152.25 233.30,152.30 233.55,152.36 233.80,152.42 234.05,152.49 234.30,152.55 234.55,152.61 234.80,152.66 235.05,152.69 235.30,152.70 235.55,152.68 235.80,152.62 236.05,152.50 236.30,152.32 236.55,152.06 236.80,151.70 237.05,151.23 237.30,150.61 237.55,149.84 237.80,148.89 238.05,147.74 238.30,146.38 238.55,144.79 238.80,142.97 239.05,140.91 239.08,140.65 239.30,138.63 239.55,136.15 239.80,133.51 240.05,130.77 240.30,128.01 240.55,125.35 240.80,122.94 241.05,120.93 241.30,119.49 241.55,118.77 241.70,118.72 241.80,118.85 242.05,119.74 242.30,121.37 242.55,123.60 242.80,126.28 242.90,127.43 243.05,129.23 243.30,132.30 243.55,135.38 243.80,138.38 244.05,141.23 244.30,143.89 244.55,146.32 244.80,148.53 245.05,150.50 245.30,152.25 245.55,153.77 245.80,155.10 246.05,156.24 246.30,157.22 246.55,158.05 246.80,158.76 247.05,159.36 247.30,159.87 247.55,160.31 247.80,160.68 248.05,161.01 248.30,161.29 248.55,161.53 248.80,161.75 249.05,161.94 249.30,162.12 249.55,162.27 249.80,162.41 250.05,162.54 250.30,162.66 250.55,162.77 250.80,162.87 251.05,162.97 251.30,163.05 251.55,163.13 251.80,163.21 252.05,163.27 252.30,163.34 252.55,163.40 252.80,163.46 253.05,163.51 253.30,163.56 253.55,163.61 253.80,163.65 254.05,163.69 254.30,163.73 254.55,163.76 254.80,163.80 255.05,163.83 255.30,163.86 255.55,163.89 255.80,163.92 256.05,163.94 256.30,163.96 256.55,163.99 256.80,164.01 257.05,164.03 257.30,164.04 257.55,164.06 257.80,164.08 258.05,164.09 258.30,164.11 258.55,164.12 258.80,164.13 259.05,164.14 259.30,164.15 259.55,164.16 259.80,164.17 260.05,164.17 260.30,164.18 260.55,164.19 260.80,164.19 261.05,164.19 261.30,164.20 261.55,164.20 261.80,164.20 262.05,164.20 262.30,164.20 262.55,164.20 262.80,164.20 263.05,164.19 263.30,164.19 263.55,164.19 263.80,164.18 264.05,164.18 264.30,164.17 264.55,164.17 264.80,164.16 265.05,164.15 265.30,164.14 265.55,164.14 265.80,164.13 266.05,164.11 266.30,164.10 266.55,164.09 266.80,164.08 267.05,164.06 267.30,164.05 267.55,164.03 267.80,164.02 268.05,164.00 268.30,163.98 268.55,163.96 268.80,163.94 269.05,163.92 269.30,163.90 269.55,163.87 269.80,163.85 270.05,163.82 270.30,163.79 270.55,163.76 270.80,163.73 271.05,163.70 271.30,163.66 271.55,163.63 271.80,163.59 272.05,163.55 272.30,163.51 272.55,163.46 272.80,163.42 273.05,163.37 273.30,163.32 273.55,163.26 273.80,163.21 274.05,163.15 274.30,163.08 274.55,163.02 274.80,162.95 275.05,162.87 275.30,162.80 275.55,162.71 275.80,162.63 276.05,162.54 276.30,162.44 276.55,162.33 276.80,162.23 277.05,162.11 277.30,161.98 277.55,161.85 277.80,161.71 278.05,161.56 278.30,161.39 278.55,161.22 278.80,161.02 279.05,160.81 279.30,160.58 279.55,160.33 279.80,160.05 280.05,159.74 280.30,159.39 280.55,159.00 280.80,158.56 281.05,158.05 281.30,157.48 281.55,156.83 281.80,156.09 282.05,155.24 282.30,154.27 282.55,153.16 282.80,151.90 283.05,150.48 283.30,148.86 283.55,147.04 283.80,145.00 284.05,142.73 284.30,140.21 284.55,137.44 284.80,134.41 285.05,131.12 285.30,127.57 285.55,123.78 285.80,119.76 286.05,115.54 286.20,112.92 286.30,111.15 286.55,106.65 286.80,102.09 287.05,97.54 287.30,93.09 287.55,88.84 287.80,84.90 288.05,81.41 288.30,78.48 288.55,76.23 288.80,74.76 289.05,74.14 289.10,74.13 289.30,74.41 289.55,75.55 289.80,77.50 290.05,80.18 290.10,80.79 290.30,83.47 290.55,87.25 290.80,91.39 291.05,95.78 291.30,100.30 291.55,104.87 291.80,109.41 292.05,113.85 292.30,118.15 292.55,122.26 292.80,126.15 293.05,129.80 293.30,133.20 293.55,136.34 293.80,139.22 294.05,141.84 294.30,144.22 294.55,146.35 294.80,148.26 295.05,149.96 295.30,151.47 295.55,152.79 295.80,153.96 296.05,154.99 296.30,155.89 296.55,156.68 296.80,157.37 297.05,157.98 297.30,158.51 297.55,158.98 297.80,159.40 298.05,159.76 298.30,160.09 298.55,160.39 298.80,160.66 299.05,160.90 299.30,161.12 299.55,161.33 299.80,161.51 300.05,161.69 300.30,161.85 300.55,162.00 300.80,162.14 301.05,162.27 301.30,162.39 301.55,162.51 301.80,162.62 302.05,162.72 302.30,162.82 302.55,162.91 302.80,163.00 303.05,163.08 303.30,163.16 303.55,163.24 303.80,163.31 304.05,163.37 304.30,163.44 304.55,163.50 304.80,163.56 305.05,163.61 305.30,163.67 305.55,163.72 305.80,163.76 306.05,163.81 306.30,163.85 306.55,163.89 306.80,163.93 307.05,163.97 307.30,164.00 307.55,164.03 307.80,164.06 308.05,164.09 308.30,164.12 308.55,164.14 308.80,164.17 309.05,164.19 309.30,164.21 309.55,164.23 309.80,164.24 310.05,164.26 310.30,164.27 310.55,164.28 310.80,164.29 311.05,164.30 311.30,164.30 311.55,164.31 311.80,164.31 312.05,164.31 312.30,164.30 312.55,164.30 312.80,164.29 313.05,164.27 313.30,164.25 313.55,164.23 313.80,164.21 314.05,164.18 314.30,164.14 314.55,164.09 314.80,164.04 315.05,163.98 315.30,163.91 315.55,163.84 315.80,163.75 316.05,163.65 316.30,163.54 316.55,163.42 316.80,163.29 317.05,163.14 317.30,162.99 317.55,162.82 317.80,162.64 318.05,162.45 318.30,162.25 318.55,162.05 318.80,161.84 319.05,161.62 319.30,161.41 319.55,161.20 319.80,161.00 320.05,160.81 320.30,160.64 320.55,160.49 320.80,160.37 321.05,160.28 321.30,160.22 321.50,160.21 321.55,160.21 321.80,160.23 322.05,160.29 322.30,160.39 322.55,160.52 322.80,160.67 323.05,160.84 323.30,161.03 323.55,161.23 323.80,161.44 324.05,161.65 324.30,161.85 324.55,162.06 324.80,162.26 325.05,162.45 325.30,162.63 325.55,162.80 325.80,162.96 326.05,163.10 326.30,163.24 326.55,163.37 326.80,163.48 327.05,163.58 327.30,163.68 327.55,163.76 327.80,163.83 328.05,163.90 328.30,163.95 328.55,164.00 328.80,164.05 329.05,164.08 329.30,164.12 329.55,164.14 329.80,164.17 330.05,164.19 330.30,164.21 330.55,164.22 330.80,164.23 331.05,164.24 331.30,164.25 331.55,164.26 331.80,164.27 332.05,164.27 332.30,164.28 332.55,164.28 332.80,164.28 333.05,164.29 333.30,164.29 333.55,164.29 333.80,164.29 334.05,164.29 334.30,164.30 334.55,164.30 334.80,164.30 335.05,164.30 335.30,164.30 335.55,164.30 335.80,164.30 336.05,164.30 336.30,164.30 336.55,164.30 336.80,164.30 337.05,164.30 337.30,164.30 337.55,164.30 337.80,164.30 338.05,164.30 338.30,164.30 338.55,164.30 338.80,164.30 339.05,164.30 339.30,164.30 339.55,164.30 339.80,164.30 340.05,164.30 340.30,164.30" fill="none" stroke="#178b3e" stroke-width="1.5" stroke-linejoin="round"/>
<polyline clip-path="url(#ca)" points="40.30,157.40 40.55,157.40 40.80,157.40 41.05,157.40 41.30,157.40 41.55,157.40 41.80,157.41 42.05,157.41 42.30,157.41 42.55,157.41 42.80,157.42 43.05,157.42 43.30,157.42 43.55,157.43 43.80,157.43 44.05,157.43 44.30,157.44 44.55,157.44 44.80,157.45 45.05,157.45 45.30,157.46 45.55,157.47 45.80,157.47 46.05,157.48 46.30,157.48 46.55,157.49 46.80,157.50 47.05,157.50 47.30,157.51 47.55,157.52 47.80,157.53 48.05,157.53 48.30,157.54 48.55,157.55 48.80,157.56 49.05,157.57 49.30,157.57 49.55,157.58 49.80,157.59 50.05,157.60 50.30,157.61 50.55,157.62 50.80,157.63 51.05,157.63 51.30,157.64 51.55,157.65 51.80,157.66 52.05,157.67 52.30,157.68 52.55,157.69 52.80,157.70 53.05,157.71 53.30,157.71 53.55,157.72 53.80,157.73 54.05,157.74 54.30,157.75 54.55,157.76 54.80,157.77 55.05,157.78 55.30,157.78 55.55,157.79 55.80,157.80 56.05,157.81 56.30,157.82 56.55,157.82 56.80,157.83 57.05,157.84 57.30,157.85 57.55,157.85 57.80,157.86 58.05,157.87 58.30,157.87 58.55,157.88 58.80,157.89 59.05,157.89 59.30,157.90 59.55,157.90 59.80,157.91 60.05,157.91 60.30,157.91 60.55,157.92 60.80,157.92 61.05,157.92 61.30,157.93 61.55,157.93 61.80,157.93 62.05,157.93 62.30,157.93 62.55,157.93 62.80,157.93 63.05,157.93 63.30,157.93 63.55,157.93 63.80,157.92 64.05,157.92 64.30,157.92 64.55,157.91 64.80,157.91 65.05,157.90 65.30,157.89 65.55,157.88 65.80,157.88 66.05,157.87 66.30,157.86 66.55,157.85 66.80,157.84 67.05,157.83 67.30,157.82 67.55,157.81 67.80,157.80 68.05,157.79 68.30,157.78 68.55,157.76 68.80,157.75 69.05,157.73 69.30,157.72 69.55,157.70 69.80,157.68 70.05,157.66 70.30,157.64 70.55,157.62 70.80,157.59 71.05,157.57 71.30,157.54 71.55,157.51 71.80,157.48 72.05,157.45 72.30,157.42 72.55,157.38 72.80,157.34 73.05,157.30 73.30,157.26 73.55,157.21 73.80,157.16 74.05,157.11 74.30,157.06 74.55,157.00 74.80,156.94 75.05,156.87 75.30,156.80 75.55,156.73 75.80,156.65 76.05,156.57 76.30,156.48 76.55,156.39 76.80,156.29 77.05,156.18 77.30,156.07 77.55,155.95 77.80,155.83 78.05,155.69 78.30,155.55 78.55,155.40 78.80,155.24 79.05,155.07 79.30,154.89 79.55,154.69 79.80,154.48 80.05,154.26 80.30,154.03 80.55,153.78 80.80,153.51 81.05,153.22 81.30,152.91 81.55,152.59 81.80,152.23 82.05,151.86 82.30,151.45 82.55,151.02 82.80,150.56 83.05,150.06 83.30,149.52 83.55,148.95 83.80,148.33 84.05,147.67 84.30,146.95 84.55,146.18 84.80,145.36 85.05,144.47 85.30,143.51 85.55,142.49 85.80,141.39 86.05,140.22 86.30,138.96 86.55,137.62 86.80,136.20 87.05,134.70 87.30,133.12 87.55,131.47 87.80,129.76 88.05,128.01 88.30,126.23 88.55,124.46 88.80,122.72 89.05,121.06 89.30,119.51 89.55,118.12 89.80,116.94 90.05,116.00 90.30,115.35 90.55,115.01 90.70,114.96 90.80,114.99 91.05,115.31 91.30,115.93 91.55,116.85 91.80,118.03 92.05,119.41 92.30,120.97 92.55,122.65 92.80,124.41 93.05,126.21 93.30,128.03 93.55,129.82 93.80,131.58 94.05,133.27 94.30,134.90 94.55,136.45 94.80,137.92 95.05,139.31 95.30,140.62 95.55,141.84 95.80,142.99 96.05,144.06 96.30,145.06 96.55,146.00 96.80,146.87 97.05,147.68 97.30,148.43 97.55,149.14 97.80,149.80 98.05,150.41 98.30,150.98 98.55,151.52 98.80,152.01 99.05,152.48 99.30,152.92 99.55,153.33 99.80,153.71 100.05,154.07 100.30,154.40 100.55,154.70 100.80,154.97 101.05,155.21 101.30,155.42 101.55,155.61 101.80,155.78 102.05,155.93 102.30,156.06 102.55,156.18 102.80,156.27 103.05,156.35 103.30,156.42 103.55,156.48 103.70,156.50 103.80,156.52 104.05,156.55 104.30,156.57 104.55,156.59 104.80,156.60 105.05,156.60 105.30,156.59 105.55,156.59 105.80,156.57 106.05,156.56 106.30,156.54 106.55,156.53 106.80,156.51 107.05,156.49 107.30,156.48 107.55,156.46 107.80,156.45 108.05,156.44 108.30,156.44 108.55,156.44 108.80,156.45 109.05,156.47 109.30,156.49 109.55,156.52 109.80,156.56 110.05,156.61 110.30,156.66 110.55,156.71 110.80,156.76 111.05,156.81 111.30,156.85 111.55,156.90 111.80,156.94 112.05,156.98 112.30,157.02 112.55,157.06 112.80,157.10 113.05,157.14 113.30,157.18 113.55,157.22 113.80,157.25 114.05,157.29 114.30,157.33 114.55,157.36 114.80,157.39 115.05,157.43 115.30,157.46 115.55,157.49 115.80,157.53 116.05,157.56 116.30,157.59 116.55,157.62 116.80,157.65 117.05,157.68 117.30,157.71 117.55,157.74 117.80,157.77 118.05,157.80 118.30,157.82 118.55,157.85 118.80,157.88 119.05,157.91 119.30,157.93 119.55,157.96 119.80,157.99 120.05,158.01 120.30,158.04 120.55,158.07 120.80,158.09 121.05,158.12 121.30,158.14 121.55,158.17 121.80,158.19 122.05,158.22 122.30,158.24 122.55,158.26 122.80,158.29 123.05,158.31 123.30,158.34 123.55,158.36 123.80,158.38 124.05,158.41 124.30,158.43 124.55,158.45 124.80,158.47 125.05,158.50 125.30,158.52 125.55,158.54 125.80,158.56 126.05,158.58 126.30,158.60 126.55,158.63 126.80,158.65 127.05,158.67 127.30,158.69 127.55,158.71 127.80,158.73 128.05,158.75 128.30,158.77 128.55,158.79 128.80,158.81 129.05,158.83 129.30,158.85 129.55,158.87 129.80,158.89 130.05,158.90 130.30,158.92 130.55,158.94 130.80,158.96 131.05,158.98 131.30,159.00 131.55,159.02 131.80,159.04 132.05,159.06 132.30,159.08 132.55,159.10 132.80,159.12 133.05,159.14 133.30,159.17 133.55,159.19 133.80,159.21 134.05,159.23 134.30,159.25 134.55,159.28 134.80,159.30 135.05,159.32 135.30,159.34 135.55,159.37 135.80,159.39 136.05,159.41 136.30,159.44 136.55,159.46 136.80,159.48 137.05,159.51 137.30,159.53 137.55,159.55 137.80,159.58 138.05,159.60 138.30,159.62 138.55,159.65 138.80,159.67 139.05,159.70 139.30,159.72 139.55,159.74 139.80,159.77 140.05,159.79 140.30,159.81 140.55,159.84 140.80,159.86 141.05,159.88 141.30,159.91 141.55,159.93 141.80,159.95 142.05,159.98 142.30,160.00 142.55,160.02 142.80,160.05 143.05,160.07 143.30,160.09 143.55,160.11 143.80,160.13 144.05,160.16 144.30,160.18 144.55,160.20 144.80,160.22 145.05,160.24 145.30,160.26 145.55,160.28 145.80,160.30 146.05,160.32 146.30,160.34 146.55,160.36 146.80,160.38 147.05,160.40 147.30,160.42 147.55,160.44 147.80,160.46 148.05,160.47 148.30,160.49 148.55,160.51 148.80,160.53 149.05,160.54 149.30,160.56 149.55,160.57 149.80,160.59 150.05,160.60 150.30,160.62 150.55,160.63 150.80,160.65 151.05,160.66 151.30,160.68 151.55,160.69 151.80,160.70 152.05,160.72 152.30,160.73 152.55,160.75 152.80,160.76 153.05,160.77 153.30,160.79 153.55,160.80 153.80,160.81 154.05,160.83 154.30,160.84 154.55,160.86 154.80,160.87 155.05,160.88 155.30,160.90 155.55,160.91 155.80,160.92 156.05,160.93 156.30,160.95 156.55,160.96 156.80,160.97 157.05,160.99 157.30,161.00 157.55,161.01 157.80,161.02 158.05,161.04 158.30,161.05 158.55,161.06 158.80,161.07 159.05,161.09 159.30,161.10 159.55,161.11 159.80,161.12 160.05,161.13 160.30,161.15 160.55,161.16 160.80,161.17 161.05,161.18 161.30,161.19 161.55,161.20 161.80,161.22 162.05,161.23 162.30,161.24 162.55,161.25 162.80,161.26 163.05,161.27 163.30,161.28 163.55,161.29 163.80,161.30 164.05,161.32 164.30,161.33 164.55,161.34 164.80,161.35 165.05,161.36 165.30,161.37 165.55,161.38 165.80,161.39 166.05,161.40 166.30,161.41 166.55,161.42 166.80,161.43 167.05,161.44 167.30,161.45 167.55,161.46 167.80,161.47 168.05,161.48 168.30,161.49 168.55,161.50 168.80,161.51 169.05,161.52 169.30,161.53 169.55,161.53 169.80,161.54 170.05,161.55 170.30,161.56 170.55,161.57 170.80,161.58 171.05,161.59 171.30,161.60 171.55,161.61 171.80,161.61 172.05,161.62 172.30,161.63 172.55,161.64 172.80,161.65 173.05,161.66 173.30,161.66 173.55,161.67 173.80,161.68 174.05,161.69 174.30,161.69 174.55,161.70 174.80,161.71 175.05,161.72 175.30,161.73 175.55,161.73 175.80,161.74 176.05,161.75 176.30,161.75 176.55,161.76 176.80,161.77 177.05,161.77 177.30,161.78 177.55,161.79 177.80,161.79 178.05,161.80 178.30,161.81 178.55,161.81 178.80,161.82 179.05,161.83 179.30,161.83 179.55,161.84 179.80,161.85 180.05,161.85 180.30,161.86 180.55,161.87 180.80,161.87 181.05,161.88 181.30,161.89 181.55,161.90 181.80,161.90 182.05,161.91 182.30,161.92 182.55,161.92 182.80,161.93 183.05,161.93 183.30,161.94 183.55,161.95 183.80,161.95 184.05,161.96 184.30,161.97 184.55,161.97 184.80,161.98 185.05,161.98 185.30,161.99 185.55,162.00 185.80,162.00 186.05,162.01 186.30,162.01 186.55,162.02 186.80,162.02 187.05,162.03 187.30,162.03 187.55,162.04 187.80,162.04 188.05,162.05 188.30,162.05 188.55,162.06 188.80,162.06 189.05,162.06 189.30,162.07 189.55,162.07 189.80,162.08 190.05,162.08 190.30,162.08 190.55,162.08 190.80,162.09 191.05,162.09 191.30,162.09 191.55,162.09 191.80,162.10 192.05,162.10 192.30,162.10 192.55,162.10 192.80,162.10 193.05,162.10 193.30,162.10 193.55,162.10 193.80,162.10 194.05,162.10 194.30,162.10 194.55,162.10 194.80,162.10 195.05,162.10 195.30,162.10 195.55,162.09 195.80,162.09 196.05,162.09 196.30,162.09 196.55,162.09 196.80,162.09 197.05,162.09 197.30,162.09 197.55,162.08 197.80,162.08 198.05,162.08 198.30,162.08 198.55,162.08 198.80,162.08 199.05,162.08 199.07,162.08 199.30,162.07 199.55,162.07 199.80,162.07 200.05,162.07 200.30,162.07 200.55,162.06 200.80,162.06 201.05,162.06 201.30,162.06 201.55,162.06 201.80,162.05 202.05,162.05 202.30,162.05 202.55,162.05 202.80,162.05 203.05,162.04 203.30,162.04 203.55,162.04 203.80,162.04 204.05,162.04 204.30,162.03 204.55,162.03 204.80,162.03 205.05,162.03 205.30,162.02 205.55,162.02 205.80,162.02 206.05,162.02 206.30,162.02 206.55,162.01 206.80,162.01 207.05,162.01 207.30,162.01 207.55,162.00 207.80,162.00 208.05,162.00 208.30,162.00 208.55,161.99 208.80,161.99 209.05,161.99 209.30,161.99 209.55,161.99 209.80,161.98 210.05,161.98 210.30,161.98 210.55,161.98 210.80,161.98 211.05,161.97 211.30,161.97 211.55,161.97 211.80,161.96 212.05,161.96 212.30,161.96 212.55,161.95 212.80,161.95 213.05,161.94 213.30,161.93 213.55,161.93 213.80,161.92 214.05,161.91 214.30,161.90 214.55,161.88 214.80,161.87 215.05,161.85 215.30,161.83 215.55,161.81 215.80,161.79 216.05,161.76 216.30,161.74 216.55,161.70 216.80,161.67 217.05,161.63 217.30,161.58 217.55,161.53 217.80,161.48 218.05,161.42 218.30,161.36 218.55,161.29 218.80,161.21 219.05,161.13 219.30,161.04 219.55,160.95 219.80,160.84 220.05,160.73 220.30,160.61 220.55,160.49 220.80,160.35 221.05,160.21 221.30,160.05 221.55,159.89 221.80,159.72 222.05,159.54 222.30,159.35 222.55,159.16 222.80,158.95 223.05,158.74 223.30,158.51 223.55,158.29 223.80,158.05 224.05,157.81 224.30,157.56 224.55,157.30 224.80,157.04 225.05,156.78 225.30,156.51 225.55,156.24 225.80,155.97 226.05,155.70 226.30,155.43 226.55,155.16 226.80,154.90 227.05,154.64 227.30,154.38 227.55,154.13 227.80,153.89 228.05,153.65 228.30,153.43 228.55,153.21 228.80,153.01 229.05,152.82 229.30,152.64 229.55,152.48 229.80,152.33 230.05,152.20 230.10,152.17 230.30,152.08 230.55,151.97 230.80,151.89 231.05,151.82 231.30,151.76 231.55,151.72 231.80,151.69 232.05,151.68 232.30,151.68 232.55,151.70 232.80,151.72 233.05,151.76 233.30,151.80 233.55,151.85 233.80,151.91 234.05,151.96 234.30,152.02 234.55,152.07 234.80,152.10 235.05,152.13 235.30,152.12 235.55,152.09 235.80,152.02 236.05,151.89 236.30,151.70 236.55,151.43 236.80,151.06 237.05,150.58 237.30,149.96 237.55,149.19 237.80,148.23 238.05,147.09 238.30,145.73 238.55,144.14 238.80,142.33 239.05,140.28 239.08,140.02 239.30,138.02 239.55,135.56 239.80,132.94 240.05,130.22 240.30,127.48 240.55,124.84 240.80,122.45 241.05,120.45 241.30,119.02 241.55,118.30 241.70,118.25 241.80,118.37 242.05,119.25 242.30,120.86 242.55,123.06 242.80,125.71 242.90,126.85 243.05,128.62 243.30,131.66 243.55,134.70 243.80,137.67 244.05,140.48 244.30,143.11 244.55,145.52 244.80,147.70 245.05,149.65 245.30,151.37 245.55,152.88 245.80,154.19 246.05,155.32 246.30,156.29 246.55,157.11 246.80,157.81 247.05,158.41 247.30,158.92 247.55,159.35 247.80,159.72 248.05,160.04 248.30,160.32 248.55,160.57 248.80,160.78 249.05,160.98 249.30,161.15 249.55,161.31 249.80,161.45 250.05,161.58 250.30,161.70 250.55,161.81 250.80,161.91 251.05,162.00 251.30,162.09 251.55,162.17 251.80,162.24 252.05,162.32 252.30,162.38 252.55,162.44 252.80,162.50 253.05,162.56 253.30,162.61 253.55,162.65 253.80,162.70 254.05,162.74 254.30,162.78 254.55,162.82 254.80,162.86 255.05,162.89 255.30,162.92 255.55,162.95 255.80,162.98 256.05,163.01 256.30,163.03 256.55,163.05 256.80,163.08 257.05,163.10 257.30,163.12 257.55,163.14 257.80,163.15 258.05,163.17 258.30,163.19 258.55,163.20 258.80,163.21 259.05,163.22 259.30,163.24 259.55,163.25 259.80,163.26 260.05,163.26 260.30,163.27 260.55,163.28 260.80,163.28 261.05,163.29 261.30,163.29 261.55,163.30 261.80,163.30 262.05,163.30 262.30,163.30 262.55,163.30 262.80,163.30 263.05,163.30 263.30,163.30 263.55,163.30 263.80,163.29 264.05,163.29 264.30,163.29 264.55,163.28 264.80,163.27 265.05,163.27 265.30,163.26 265.55,163.25 265.80,163.25 266.05,163.24 266.30,163.23 266.55,163.22 266.80,163.20 267.05,163.19 267.30,163.18 267.55,163.16 267.80,163.15 268.05,163.13 268.30,163.12 268.55,163.10 268.80,163.08 269.05,163.06 269.30,163.04 269.55,163.01 269.80,162.99 270.05,162.97 270.30,162.94 270.55,162.91 270.80,162.88 271.05,162.85 271.30,162.82 271.55,162.78 271.80,162.75 272.05,162.71 272.30,162.67 272.55,162.63 272.80,162.58 273.05,162.53 273.30,162.49 273.55,162.43 273.80,162.38 274.05,162.32 274.30,162.26 274.55,162.20 274.80,162.13 275.05,162.06 275.30,161.98 275.55,161.90 275.80,161.82 276.05,161.73 276.30,161.63 276.55,161.53 276.80,161.42 277.05,161.31 277.30,161.19 277.55,161.06 277.80,160.92 278.05,160.77 278.30,160.61 278.55,160.43 278.80,160.24 279.05,160.04 279.30,159.81 279.55,159.56 279.80,159.28 280.05,158.98 280.30,158.63 280.55,158.24 280.80,157.81 281.05,157.31 281.30,156.75 281.55,156.10 281.80,155.37 282.05,154.52 282.30,153.56 282.55,152.47 282.80,151.22 283.05,149.81 283.30,148.20 283.55,146.40 283.80,144.38 284.05,142.13 284.30,139.64 284.55,136.89 284.80,133.88 285.05,130.62 285.30,127.10 285.55,123.34 285.80,119.36 286.05,115.18 286.20,112.59 286.30,110.83 286.55,106.37 286.80,101.84 287.05,97.33 287.30,92.92 287.55,88.71 287.80,84.81 288.05,81.34 288.30,78.44 288.55,76.20 288.80,74.75 289.05,74.14 289.10,74.13 289.30,74.41 289.55,75.54 289.80,77.47 290.05,80.13 290.10,80.74 290.30,83.40 290.55,87.14 290.80,91.25 291.05,95.60 291.30,100.09 291.55,104.63 291.80,109.13 292.05,113.53 292.30,117.79 292.55,121.87 292.80,125.73 293.05,129.35 293.30,132.72 293.55,135.84 293.80,138.69 294.05,141.30 294.30,143.65 294.55,145.77 294.80,147.66 295.05,149.35 295.30,150.84 295.55,152.16 295.80,153.32 296.05,154.34 296.30,155.23 296.55,156.02 296.80,156.70 297.05,157.30 297.30,157.83 297.55,158.30 297.80,158.71 298.05,159.08 298.30,159.41 298.55,159.70 298.80,159.97 299.05,160.21 299.30,160.43 299.55,160.63 299.80,160.82 300.05,160.99 300.30,161.15 300.55,161.30 300.80,161.44 301.05,161.57 301.30,161.69 301.55,161.81 301.80,161.92 302.05,162.02 302.30,162.12 302.55,162.21 302.80,162.30 303.05,162.38 303.30,162.46 303.55,162.54 303.80,162.61 304.05,162.67 304.30,162.74 304.55,162.80 304.80,162.86 305.05,162.91 305.30,162.97 305.55,163.02 305.80,163.06 306.05,163.11 306.30,163.15 306.55,163.19 306.80,163.23 307.05,163.27 307.30,163.30 307.55,163.34 307.80,163.37 308.05,163.40 308.30,163.42 308.55,163.45 308.80,163.47 309.05,163.49 309.30,163.51 309.55,163.53 309.80,163.55 310.05,163.57 310.30,163.58 310.55,163.59 310.80,163.60 311.05,163.61 311.30,163.62 311.55,163.62 311.80,163.63 312.05,163.63 312.30,163.63 312.55,163.62 312.80,163.62 313.05,163.61 313.30,163.60 313.55,163.58 313.80,163.56 314.05,163.53 314.30,163.50 314.55,163.47 314.80,163.42 315.05,163.37 315.30,163.32 315.55,163.25 315.80,163.18 316.05,163.10 316.30,163.01 316.55,162.91 316.80,162.80 317.05,162.67 317.30,162.54 317.55,162.40 317.80,162.25 318.05,162.09 318.30,161.93 318.55,161.75 318.80,161.58 319.05,161.40 319.30,161.22 319.55,161.04 319.80,160.87 320.05,160.71 320.30,160.57 320.55,160.44 320.80,160.34 321.05,160.27 321.30,160.22 321.50,160.21 321.55,160.21 321.80,160.23 322.05,160.28 322.30,160.36 322.55,160.47 322.80,160.59 323.05,160.74 323.30,160.90 323.55,161.06 323.80,161.24 324.05,161.41 324.30,161.58 324.55,161.76 324.80,161.92 325.05,162.08 325.30,162.23 325.55,162.37 325.80,162.51 326.05,162.63 326.30,162.74 326.55,162.85 326.80,162.94 327.05,163.03 327.30,163.11 327.55,163.17 327.80,163.24 328.05,163.29 328.30,163.34 328.55,163.38 328.80,163.41 329.05,163.44 329.30,163.47 329.55,163.49 329.80,163.51 330.05,163.53 330.30,163.54 330.55,163.55 330.80,163.56 331.05,163.57 331.30,163.58 331.55,163.58 331.80,163.59 332.05,163.59 332.30,163.60 332.55,163.60 332.80,163.60 333.05,163.60 333.30,163.60 333.55,163.60 333.80,163.60 334.05,163.60 334.30,163.60 334.55,163.60 334.80,163.60 335.05,163.60 335.30,163.60 335.55,163.60 335.80,163.60 336.05,163.60 336.30,163.60 336.55,163.60 336.80,163.60 337.05,163.60 337.30,163.60 337.55,163.60 337.80,163.60 338.05,163.60 338.30,163.60 338.55,163.60 338.80,163.60 339.05,163.60 339.30,163.60 339.55,163.60 339.80,163.60 340.05,163.60 340.30,163.60" fill="none" stroke="#5fbe14" stroke-width="1.5" stroke-linejoin="round"/>
<polyline clip-path="url(#ca)" points="40.30,162.60 40.55,162.60 40.80,162.60 41.05,162.60 41.30,162.60 41.55,162.60 41.80,162.60 42.05,162.60 42.30,162.60 42.55,162.60 42.80,162.60 43.05,162.61 43.30,162.61 43.55,162.61 43.80,162.61 44.05,162.61 44.30,162.61 44.55,162.61 44.80,162.61 45.05,162.62 45.30,162.62 45.55,162.62 45.80,162.62 46.05,162.62 46.30,162.63 46.55,162.63 46.80,162.63 47.05,162.63 47.30,162.63 47.55,162.64 47.80,162.64 48.05,162.64 48.30,162.64 48.55,162.65 48.80,162.65 49.05,162.65 49.30,162.66 49.55,162.66 49.80,162.66 50.05,162.66 50.30,162.67 50.55,162.67 50.80,162.67 51.05,162.68 51.30,162.68 51.55,162.68 51.80,162.69 52.05,162.69 52.30,162.69 52.55,162.70 52.80,162.70 53.05,162.70 53.30,162.71 53.55,162.71 53.80,162.72 54.05,162.72 54.30,162.72 54.55,162.73 54.80,162.73 55.05,162.73 55.30,162.74 55.55,162.74 55.80,162.75 56.05,162.75 56.30,162.75 56.55,162.76 56.80,162.76 57.05,162.77 57.30,162.77 57.55,162.77 57.80,162.78 58.05,162.78 58.30,162.79 58.55,162.79 58.80,162.79 59.05,162.80 59.30,162.80 59.55,162.81 59.80,162.81 60.05,162.81 60.30,162.82 60.55,162.82 60.80,162.83 61.05,162.83 61.30,162.83 61.55,162.84 61.80,162.84 62.05,162.84 62.30,162.85 62.55,162.85 62.80,162.86 63.05,162.86 63.30,162.86 63.55,162.87 63.80,162.87 64.05,162.87 64.30,162.88 64.55,162.88 64.80,162.88 65.05,162.88 65.30,162.89 65.55,162.89 65.80,162.89 66.05,162.90 66.30,162.90 66.55,162.90 66.80,162.90 67.05,162.90 67.30,162.91 67.55,162.91 67.80,162.91 68.05,162.91 68.30,162.91 68.55,162.91 68.80,162.91 69.05,162.91 69.30,162.91 69.55,162.92 69.80,162.92 70.05,162.91 70.30,162.91 70.55,162.91 70.80,162.91 71.05,162.91 71.30,162.91 71.55,162.91 71.80,162.90 72.05,162.90 72.30,162.90 72.55,162.89 72.80,162.89 73.05,162.89 73.30,162.88 73.55,162.87 73.80,162.87 74.05,162.86 74.30,162.85 74.55,162.85 74.80,162.84 75.05,162.83 75.30,162.82 75.55,162.80 75.80,162.79 76.05,162.78 76.30,162.77 76.55,162.75 76.80,162.73 77.05,162.72 77.30,162.70 77.55,162.68 77.80,162.65 78.05,162.63 78.30,162.60 78.55,162.58 78.80,162.55 79.05,162.51 79.30,162.48 79.55,162.44 79.80,162.40 80.05,162.36 80.30,162.31 80.55,162.26 80.80,162.20 81.05,162.14 81.30,162.08 81.55,162.01 81.80,161.93 82.05,161.85 82.30,161.75 82.55,161.65 82.80,161.54 83.05,161.42 83.30,161.29 83.55,161.14 83.80,160.98 84.05,160.80 84.30,160.60 84.55,160.37 84.80,160.10 85.05,159.80 85.30,159.44 85.55,159.02 85.80,158.50 86.05,157.86 86.30,157.06 86.55,156.04 86.80,154.76 87.05,153.14 87.30,151.10 87.55,148.56 87.80,145.44 88.05,141.68 88.30,137.23 88.55,132.08 88.80,126.27 89.05,119.89 89.30,113.13 89.55,106.25 89.80,99.65 90.05,93.83 90.30,89.37 90.55,86.85 90.70,86.42 90.80,86.61 91.05,88.71 91.30,92.83 91.55,98.43 91.80,104.93 92.05,111.79 92.30,118.61 92.55,125.09 92.80,131.03 93.05,136.32 93.30,140.92 93.55,144.82 93.80,148.07 94.05,150.73 94.30,152.87 94.55,154.58 94.80,155.93 95.05,156.99 95.30,157.84 95.55,158.52 95.80,159.06 96.05,159.51 96.30,159.89 96.55,160.21 96.80,160.49 97.05,160.73 97.30,160.94 97.55,161.14 97.80,161.31 98.05,161.46 98.30,161.61 98.55,161.74 98.80,161.85 99.05,161.96 99.30,162.06 99.55,162.15 99.80,162.24 100.05,162.32 100.30,162.39 100.55,162.45 100.80,162.51 101.05,162.56 101.30,162.60 101.55,162.65 101.80,162.68 102.05,162.71 102.30,162.74 102.55,162.77 102.80,162.79 103.05,162.81 103.30,162.82 103.55,162.84 103.70,162.84 103.80,162.85 104.05,162.86 104.30,162.86 104.55,162.87 104.80,162.87 105.05,162.88 105.30,162.88 105.55,162.88 105.80,162.88 106.05,162.88 106.30,162.88 106.55,162.88 106.80,162.87 107.05,162.87 107.30,162.87 107.55,162.87 107.80,162.87 108.05,162.87 108.30,162.87 108.55,162.87 108.80,162.87 109.05,162.88 109.30,162.88 109.55,162.89 109.80,162.89 110.05,162.90 110.30,162.91 110.55,162.92 110.80,162.93 111.05,162.94 111.30,162.94 111.55,162.95 111.80,162.96 112.05,162.97 112.30,162.97 112.55,162.98 112.80,162.99 113.05,162.99 113.30,163.00 113.55,163.01 113.80,163.01 114.05,163.02 114.30,163.02 114.55,163.03 114.80,163.04 115.05,163.04 115.30,163.05 115.55,163.05 115.80,163.06 116.05,163.07 116.30,163.07 116.55,163.08 116.80,163.08 117.05,163.09 117.30,163.09 117.55,163.10 117.80,163.10 118.05,163.11 118.30,163.11 118.55,163.12 118.80,163.12 119.05,163.13 119.30,163.13 119.55,163.14 119.80,163.14 120.05,163.15 120.30,163.15 120.55,163.16 120.80,163.16 121.05,163.17 121.30,163.17 121.55,163.18 121.80,163.18 122.05,163.19 122.30,163.19 122.55,163.20 122.80,163.20 123.05,163.21 123.30,163.21 123.55,163.22 123.80,163.22 124.05,163.23 124.30,163.23 124.55,163.24 124.80,163.24 125.05,163.25 125.30,163.25 125.55,163.26 125.80,163.26 126.05,163.27 126.30,163.27 126.55,163.27 126.80,163.28 127.05,163.28 127.30,163.29 127.55,163.29 127.80,163.30 128.05,163.31 128.30,163.31 128.55,163.32 128.80,163.32 129.05,163.33 129.30,163.33 129.55,163.34 129.80,163.34 130.05,163.35 130.30,163.35 130.55,163.36 130.80,163.36 131.05,163.37 131.30,163.37 131.55,163.38 131.80,163.38 132.05,163.39 132.30,163.39 132.55,163.40 132.80,163.40 133.05,163.41 133.30,163.41 133.55,163.42 133.80,163.43 134.05,163.43 134.30,163.44 134.55,163.44 134.80,163.45 135.05,163.45 135.30,163.46 135.55,163.46 135.80,163.47 136.05,163.47 136.30,163.48 136.55,163.49 136.80,163.49 137.05,163.50 137.30,163.50 137.55,163.51 137.80,163.51 138.05,163.52 138.30,163.52 138.55,163.53 138.80,163.54 139.05,163.54 139.30,163.55 139.55,163.55 139.80,163.56 140.05,163.56 140.30,163.57 140.55,163.58 140.80,163.58 141.05,163.59 141.30,163.59 141.55,163.60 141.80,163.61 142.05,163.61 142.30,163.62 142.55,163.62 142.80,163.63 143.05,163.63 143.30,163.64 143.55,163.65 143.80,163.65 144.05,163.66 144.30,163.66 144.55,163.67 144.80,163.68 145.05,163.68 145.30,163.69 145.55,163.69 145.80,163.70 146.05,163.71 146.30,163.71 146.55,163.72 146.80,163.72 147.05,163.73 147.30,163.74 147.55,163.74 147.80,163.75 148.05,163.75 148.30,163.76 148.55,163.77 148.80,163.77 149.05,163.78 149.30,163.78 149.55,163.79 149.80,163.80 150.05,163.80 150.30,163.81 150.55,163.81 150.80,163.82 151.05,163.83 151.30,163.84 151.55,163.84 151.80,163.85 152.05,163.86 152.30,163.87 152.55,163.88 152.80,163.88 153.05,163.89 153.30,163.90 153.55,163.91 153.80,163.92 154.05,163.93 154.30,163.94 154.55,163.95 154.80,163.96 155.05,163.97 155.30,163.99 155.55,164.00 155.80,164.01 156.05,164.02 156.30,164.03 156.55,164.04 156.80,164.05 157.05,164.07 157.30,164.08 157.55,164.09 157.80,164.10 158.05,164.12 158.30,164.13 158.55,164.14 158.80,164.16 159.05,164.17 159.30,164.18 159.55,164.20 159.80,164.21 160.05,164.22 160.30,164.24 160.55,164.25 160.80,164.26 161.05,164.28 161.30,164.29 161.55,164.31 161.80,164.32 162.05,164.33 162.30,164.35 162.55,164.36 162.80,164.38 163.05,164.39 163.30,164.40 163.55,164.42 163.80,164.43 164.05,164.45 164.30,164.46 164.55,164.48 164.80,164.49 165.05,164.50 165.30,164.52 165.55,164.53 165.80,164.55 166.05,164.56 166.30,164.57 166.55,164.59 166.80,164.60 167.05,164.62 167.30,164.63 167.55,164.64 167.80,164.66 168.05,164.67 168.30,164.69 168.55,164.70 168.80,164.71 169.05,164.73 169.30,164.74 169.55,164.75 169.80,164.76 170.05,164.78 170.30,164.79 170.55,164.80 170.80,164.82 171.05,164.83 171.30,164.84 171.55,164.85 171.80,164.86 172.05,164.88 172.30,164.89 172.55,164.90 172.80,164.91 173.05,164.92 173.30,164.93 173.55,164.94 173.80,164.95 174.05,164.96 174.30,164.97 174.55,164.98 174.80,164.99 175.05,165.00 175.30,165.01 175.55,165.02 175.80,165.03 176.05,165.04 176.30,165.04 176.55,165.05 176.80,165.06 177.05,165.07 177.30,165.07 177.55,165.08 177.80,165.09 178.05,165.09 178.30,165.10 178.55,165.11 178.80,165.11 179.05,165.12 179.30,165.12 179.55,165.13 179.80,165.13 180.05,165.14 180.30,165.14 180.55,165.15 180.80,165.15 181.05,165.16 181.30,165.16 181.55,165.17 181.80,165.17 182.05,165.18 182.30,165.18 182.55,165.19 182.80,165.19 183.05,165.20 183.30,165.20 183.55,165.21 183.80,165.21 184.05,165.22 184.30,165.22 184.55,165.22 184.80,165.23 185.05,165.23 185.30,165.24 185.55,165.24 185.80,165.24 186.05,165.25 186.30,165.25 186.55,165.26 186.80,165.26 187.05,165.26 187.30,165.27 187.55,165.27 187.80,165.27 188.05,165.28 188.30,165.28 188.55,165.29 188.80,165.29 189.05,165.29 189.30,165.30 189.55,165.30 189.80,165.30 190.05,165.31 190.30,165.31 190.55,165.31 190.80,165.32 191.05,165.32 191.30,165.32 191.55,165.32 191.80,165.33 192.05,165.33 192.30,165.33 192.55,165.34 192.80,165.34 193.05,165.34 193.30,165.35 193.55,165.35 193.80,165.35 194.05,165.35 194.30,165.36 194.55,165.36 194.80,165.36 195.05,165.37 195.30,165.37 195.55,165.37 195.80,165.37 196.05,165.38 196.30,165.38 196.55,165.38 196.80,165.38 197.05,165.39 197.30,165.39 197.55,165.39 197.80,165.39 198.05,165.40 198.30,165.40 198.55,165.40 198.80,165.41 199.05,165.41 199.07,165.41 199.30,165.41 199.55,165.41 199.80,165.41 200.05,165.42 200.30,165.42 200.55,165.42 200.80,165.42 201.05,165.42 201.30,165.43 201.55,165.43 201.80,165.43 202.05,165.43 202.30,165.43 202.55,165.43 202.80,165.43 203.05,165.44 203.30,165.44 203.55,165.44 203.80,165.44 204.05,165.44 204.30,165.44 204.55,165.44 204.80,165.44 205.05,165.44 205.30,165.44 205.55,165.44 205.80,165.45 206.05,165.45 206.30,165.45 206.55,165.45 206.80,165.45 207.05,165.45 207.30,165.45 207.55,165.45 207.80,165.45 208.05,165.45 208.30,165.45 208.55,165.45 208.80,165.45 209.05,165.45 209.30,165.45 209.55,165.45 209.80,165.45 210.05,165.45 210.30,165.45 210.55,165.44 210.80,165.44 211.05,165.44 211.30,165.44 211.55,165.44 211.80,165.44 212.05,165.44 212.30,165.44 212.55,165.44 212.80,165.43 213.05,165.43 213.30,165.43 213.55,165.43 213.80,165.43 214.05,165.42 214.30,165.42 214.55,165.42 214.80,165.41 215.05,165.41 215.30,165.41 215.55,165.40 215.80,165.40 216.05,165.40 216.30,165.39 216.55,165.39 216.80,165.38 217.05,165.38 217.30,165.37 217.55,165.36 217.80,165.36 218.05,165.35 218.30,165.34 218.55,165.33 218.80,165.32 219.05,165.31 219.30,165.30 219.55,165.29 219.80,165.28 220.05,165.26 220.30,165.25 220.55,165.23 220.80,165.22 221.05,165.20 221.30,165.18 221.55,165.15 221.80,165.13 222.05,165.10 222.30,165.08 222.55,165.05 222.80,165.01 223.05,164.98 223.30,164.93 223.55,164.89 223.80,164.84 224.05,164.78 224.30,164.71 224.55,164.63 224.80,164.54 225.05,164.43 225.30,164.30 225.55,164.13 225.80,163.91 226.05,163.63 226.30,163.26 226.55,162.77 226.80,162.14 227.05,161.32 227.30,160.27 227.55,158.97 227.80,157.39 228.05,155.51 228.30,153.35 228.55,150.96 228.80,148.40 229.05,145.81 229.30,143.35 229.55,141.25 229.80,139.76 230.05,139.11 230.10,139.09 230.30,139.39 230.55,140.57 230.80,142.45 231.05,144.80 231.30,147.36 231.55,149.94 231.80,152.41 232.05,154.66 232.30,156.65 232.55,158.34 232.80,159.75 233.05,160.88 233.30,161.77 233.55,162.46 233.80,162.98 234.05,163.37 234.30,163.66 234.55,163.87 234.80,164.03 235.05,164.14 235.30,164.21 235.55,164.26 235.80,164.29 236.05,164.29 236.30,164.28 236.55,164.25 236.80,164.20 237.05,164.13 237.30,164.03 237.55,163.91 237.80,163.74 238.05,163.53 238.30,163.26 238.55,162.91 238.80,162.46 239.05,161.89 239.08,161.82 239.30,161.17 239.55,160.27 239.80,159.15 240.05,157.79 240.30,156.17 240.55,154.29 240.80,152.13 241.05,149.73 241.30,147.13 241.55,144.42 241.70,142.78 241.80,141.71 242.05,139.15 242.30,136.97 242.55,135.37 242.80,134.56 242.90,134.49 243.05,134.65 243.30,135.63 243.55,137.36 243.80,139.64 244.05,142.23 244.30,144.96 244.55,147.66 244.80,150.22 245.05,152.58 245.30,154.68 245.55,156.52 245.80,158.09 246.05,159.40 246.30,160.48 246.55,161.35 246.80,162.05 247.05,162.61 247.30,163.05 247.55,163.40 247.80,163.68 248.05,163.90 248.30,164.08 248.55,164.23 248.80,164.36 249.05,164.46 249.30,164.55 249.55,164.63 249.80,164.70 250.05,164.77 250.30,164.82 250.55,164.87 250.80,164.91 251.05,164.95 251.30,164.99 251.55,165.02 251.80,165.05 252.05,165.07 252.30,165.10 252.55,165.12 252.80,165.14 253.05,165.15 253.30,165.17 253.55,165.18 253.80,165.19 254.05,165.20 254.30,165.21 254.55,165.22 254.80,165.23 255.05,165.23 255.30,165.24 255.55,165.24 255.80,165.25 256.05,165.25 256.30,165.26 256.55,165.26 256.80,165.26 257.05,165.26 257.30,165.27 257.55,165.27 257.80,165.27 258.05,165.27 258.30,165.27 258.55,165.27 258.80,165.28 259.05,165.28 259.30,165.28 259.55,165.28 259.80,165.28 260.05,165.28 260.30,165.28 260.55,165.29 260.80,165.29 261.05,165.29 261.30,165.29 261.55,165.29 261.80,165.30 262.05,165.30 262.30,165.30 262.55,165.31 262.80,165.31 263.05,165.31 263.30,165.31 263.55,165.32 263.80,165.32 264.05,165.32 264.30,165.32 264.55,165.32 264.80,165.32 265.05,165.32 265.30,165.33 265.55,165.33 265.80,165.33 266.05,165.33 266.30,165.33 266.55,165.33 266.80,165.33 267.05,165.33 267.30,165.33 267.55,165.33 267.80,165.33 268.05,165.33 268.30,165.33 268.55,165.33 268.80,165.32 269.05,165.32 269.30,165.32 269.55,165.32 269.80,165.32 270.05,165.32 270.30,165.31 270.55,165.31 270.80,165.31 271.05,165.31 271.30,165.30 271.55,165.30 271.80,165.30 272.05,165.29 272.30,165.29 272.55,165.29 272.80,165.28 273.05,165.28 273.30,165.27 273.55,165.27 273.80,165.26 274.05,165.26 274.30,165.25 274.55,165.24 274.80,165.23 275.05,165.23 275.30,165.22 275.55,165.21 275.80,165.20 276.05,165.19 276.30,165.18 276.55,165.17 276.80,165.16 277.05,165.14 277.30,165.13 277.55,165.12 277.80,165.10 278.05,165.08 278.30,165.07 278.55,165.05 278.80,165.03 279.05,165.01 279.30,164.98 279.55,164.96 279.80,164.93 280.05,164.90 280.30,164.87 280.55,164.84 280.80,164.80 281.05,164.76 281.30,164.72 281.55,164.67 281.80,164.62 282.05,164.56 282.30,164.50 282.55,164.43 282.80,164.36 283.05,164.27 283.30,164.18 283.55,164.08 283.80,163.97 284.05,163.84 284.30,163.70 284.55,163.53 284.80,163.35 285.05,163.13 285.30,162.88 285.55,162.57 285.80,162.19 286.05,161.69 286.20,161.31 286.30,161.01 286.55,160.08 286.80,158.77 287.05,156.92 287.30,154.34 287.55,150.80 287.80,146.10 288.05,140.04 288.30,132.57 288.55,123.73 288.80,113.79 289.05,103.26 289.10,101.14 289.30,92.90 289.55,83.79 289.80,77.18 290.05,74.21 290.10,74.12 290.30,75.50 290.55,80.78 290.80,89.05 291.05,99.05 291.30,109.62 291.55,119.88 291.80,129.20 292.05,137.24 292.30,143.87 292.55,149.10 292.80,153.08 293.05,156.02 293.30,158.14 293.55,159.65 293.80,160.72 294.05,161.48 294.30,162.05 294.55,162.47 294.80,162.81 295.05,163.09 295.30,163.32 295.55,163.52 295.80,163.69 296.05,163.84 296.30,163.98 296.55,164.10 296.80,164.21 297.05,164.31 297.30,164.40 297.55,164.48 297.80,164.55 298.05,164.62 298.30,164.68 298.55,164.73 298.80,164.79 299.05,164.83 299.30,164.88 299.55,164.92 299.80,164.95 300.05,164.99 300.30,165.02 300.55,165.05 300.80,165.08 301.05,165.11 301.30,165.13 301.55,165.15 301.80,165.18 302.05,165.20 302.30,165.22 302.55,165.23 302.80,165.25 303.05,165.27 303.30,165.28 303.55,165.30 303.80,165.31 304.05,165.32 304.30,165.33 304.55,165.35 304.80,165.36 305.05,165.37 305.30,165.38 305.55,165.38 305.80,165.39 306.05,165.40 306.30,165.41 306.55,165.42 306.80,165.42 307.05,165.43 307.30,165.44 307.55,165.44 307.80,165.45 308.05,165.45 308.30,165.46 308.55,165.46 308.80,165.47 309.05,165.47 309.30,165.47 309.55,165.48 309.80,165.48 310.05,165.48 310.30,165.48 310.55,165.49 310.80,165.49 311.05,165.49 311.30,165.49 311.55,165.49 311.80,165.49 312.05,165.49 312.30,165.49 312.55,165.49 312.80,165.48 313.05,165.48 313.30,165.48 313.55,165.47 313.80,165.47 314.05,165.46 314.30,165.45 314.55,165.44 314.80,165.43 315.05,165.42 315.30,165.41 315.55,165.39 315.80,165.37 316.05,165.35 316.30,165.32 316.55,165.29 316.80,165.25 317.05,165.19 317.30,165.12 317.55,165.02 317.80,164.89 318.05,164.72 318.30,164.50 318.55,164.21 318.80,163.83 319.05,163.38 319.30,162.82 319.55,162.18 319.80,161.44 320.05,160.65 320.30,159.82 320.55,159.00 320.80,158.26 321.05,157.67 321.30,157.30 321.50,157.20 321.55,157.21 321.80,157.42 322.05,157.89 322.30,158.56 322.55,159.34 322.80,160.18 323.05,161.00 323.30,161.78 323.55,162.49 323.80,163.10 324.05,163.62 324.30,164.05 324.55,164.39 324.80,164.66 325.05,164.87 325.30,165.03 325.55,165.15 325.80,165.24 326.05,165.31 326.30,165.36 326.55,165.41 326.80,165.44 327.05,165.47 327.30,165.50 327.55,165.52 327.80,165.54 328.05,165.56 328.30,165.58 328.55,165.59 328.80,165.60 329.05,165.62 329.30,165.63 329.55,165.64 329.80,165.65 330.05,165.66 330.30,165.67 330.55,165.68 330.80,165.68 331.05,165.69 331.30,165.70 331.55,165.70 331.80,165.71 332.05,165.71 332.30,165.72 332.55,165.72 332.80,165.73 333.05,165.73 333.30,165.74 333.55,165.74 333.80,165.74 334.05,165.75 334.30,165.75 334.55,165.75 334.80,165.76 335.05,165.76 335.30,165.76 335.55,165.77 335.80,165.77 336.05,165.77 336.30,165.77 336.55,165.78 336.80,165.78 337.05,165.78 337.30,165.78 337.55,165.78 337.80,165.79 338.05,165.79 338.30,165.79 338.55,165.79 338.80,165.79 339.05,165.79 339.30,165.80 339.55,165.80 339.80,165.80 340.05,165.80 340.30,165.80" fill="none" stroke="#d01a1a" stroke-width="1.5" stroke-linejoin="round"/>
<polyline clip-path="url(#ca)" points="40.30,163.40 40.55,163.40 40.80,163.40 41.05,163.40 41.30,163.40 41.55,163.40 41.80,163.40 42.05,163.40 42.30,163.40 42.55,163.40 42.80,163.40 43.05,163.40 43.30,163.40 43.55,163.41 43.80,163.41 44.05,163.41 44.30,163.41 44.55,163.41 44.80,163.41 45.05,163.41 45.30,163.41 45.55,163.41 45.80,163.41 46.05,163.42 46.30,163.42 46.55,163.42 46.80,163.42 47.05,163.42 47.30,163.42 47.55,163.43 47.80,163.43 48.05,163.43 48.30,163.43 48.55,163.43 48.80,163.43 49.05,163.44 49.30,163.44 49.55,163.44 49.80,163.44 50.05,163.44 50.30,163.45 50.55,163.45 50.80,163.45 51.05,163.45 51.30,163.46 51.55,163.46 51.80,163.46 52.05,163.46 52.30,163.46 52.55,163.47 52.80,163.47 53.05,163.47 53.30,163.47 53.55,163.48 53.80,163.48 54.05,163.48 54.30,163.48 54.55,163.49 54.80,163.49 55.05,163.49 55.30,163.49 55.55,163.50 55.80,163.50 56.05,163.50 56.30,163.51 56.55,163.51 56.80,163.51 57.05,163.51 57.30,163.52 57.55,163.52 57.80,163.52 58.05,163.52 58.30,163.53 58.55,163.53 58.80,163.53 59.05,163.53 59.30,163.54 59.55,163.54 59.80,163.54 60.05,163.54 60.30,163.55 60.55,163.55 60.80,163.55 61.05,163.55 61.30,163.55 61.55,163.56 61.80,163.56 62.05,163.56 62.30,163.56 62.55,163.57 62.80,163.57 63.05,163.57 63.30,163.57 63.55,163.57 63.80,163.57 64.05,163.58 64.30,163.58 64.55,163.58 64.80,163.58 65.05,163.58 65.30,163.58 65.55,163.58 65.80,163.58 66.05,163.58 66.30,163.59 66.55,163.59 66.80,163.59 67.05,163.59 67.30,163.59 67.55,163.59 67.80,163.59 68.05,163.59 68.30,163.59 68.55,163.58 68.80,163.58 69.05,163.58 69.30,163.58 69.55,163.58 69.80,163.58 70.05,163.58 70.30,163.57 70.55,163.57 70.80,163.57 71.05,163.56 71.30,163.56 71.55,163.56 71.80,163.55 72.05,163.55 72.30,163.54 72.55,163.54 72.80,163.53 73.05,163.52 73.30,163.52 73.55,163.51 73.80,163.50 74.05,163.49 74.30,163.48 74.55,163.47 74.80,163.46 75.05,163.45 75.30,163.44 75.55,163.42 75.80,163.41 76.05,163.39 76.30,163.38 76.55,163.36 76.80,163.34 77.05,163.32 77.30,163.30 77.55,163.28 77.80,163.25 78.05,163.23 78.30,163.20 78.55,163.17 78.80,163.14 79.05,163.10 79.30,163.06 79.55,163.02 79.80,162.98 80.05,162.94 80.30,162.89 80.55,162.83 80.80,162.77 81.05,162.71 81.30,162.64 81.55,162.57 81.80,162.49 82.05,162.40 82.30,162.31 82.55,162.20 82.80,162.09 83.05,161.96 83.30,161.82 83.55,161.67 83.80,161.50 84.05,161.32 84.30,161.11 84.55,160.88 84.80,160.61 85.05,160.31 85.30,159.95 85.55,159.54 85.80,159.04 86.05,158.43 86.30,157.66 86.55,156.70 86.80,155.46 87.05,153.87 87.30,151.84 87.55,149.25 87.80,146.00 88.05,141.99 88.30,137.14 88.55,131.40 88.80,124.80 89.05,117.41 89.30,109.45 89.55,101.21 89.80,93.18 90.05,85.99 90.30,80.42 90.55,77.24 90.70,76.70 90.80,76.94 91.05,79.58 91.30,84.73 91.55,91.67 91.80,99.59 92.05,107.84 92.30,115.89 92.55,123.42 92.80,130.19 93.05,136.11 93.30,141.14 93.55,145.32 93.80,148.72 94.05,151.44 94.30,153.58 94.55,155.25 94.80,156.56 95.05,157.58 95.30,158.38 95.55,159.03 95.80,159.55 96.05,159.99 96.30,160.36 96.55,160.68 96.80,160.95 97.05,161.20 97.30,161.41 97.55,161.61 97.80,161.79 98.05,161.95 98.30,162.09 98.55,162.22 98.80,162.34 99.05,162.45 99.30,162.56 99.55,162.65 99.80,162.74 100.05,162.82 100.30,162.89 100.55,162.96 100.80,163.02 101.05,163.08 101.30,163.14 101.55,163.19 101.80,163.23 102.05,163.28 102.30,163.32 102.55,163.36 102.80,163.40 103.05,163.43 103.30,163.47 103.55,163.50 103.70,163.52 103.80,163.53 104.05,163.56 104.30,163.58 104.55,163.61 104.80,163.63 105.05,163.65 105.30,163.67 105.55,163.70 105.80,163.71 106.05,163.73 106.30,163.75 106.55,163.77 106.80,163.78 107.05,163.80 107.30,163.81 107.55,163.83 107.80,163.84 108.05,163.85 108.30,163.86 108.55,163.88 108.80,163.89 109.05,163.90 109.30,163.91 109.55,163.92 109.80,163.93 110.05,163.94 110.30,163.94 110.55,163.95 110.80,163.96 111.05,163.97 111.30,163.98 111.55,163.98 111.80,163.99 112.05,164.00 112.30,164.00 112.55,164.01 112.80,164.01 113.05,164.02 113.30,164.03 113.55,164.03 113.80,164.04 114.05,164.04 114.30,164.05 114.55,164.05 114.80,164.06 115.05,164.06 115.30,164.06 115.55,164.07 115.80,164.07 116.05,164.08 116.30,164.08 116.55,164.08 116.80,164.09 117.05,164.09 117.30,164.09 117.55,164.10 117.80,164.10 118.05,164.10 118.30,164.10 118.55,164.11 118.80,164.11 119.05,164.11 119.30,164.11 119.55,164.12 119.80,164.12 120.05,164.12 120.30,164.12 120.55,164.13 120.80,164.13 121.05,164.13 121.30,164.13 121.55,164.13 121.80,164.14 122.05,164.14 122.30,164.14 122.55,164.14 122.80,164.14 123.05,164.14 123.30,164.15 123.55,164.15 123.80,164.15 124.05,164.15 124.30,164.15 124.55,164.15 124.80,164.15 125.05,164.16 125.30,164.16 125.55,164.16 125.80,164.16 126.05,164.16 126.30,164.16 126.55,164.16 126.80,164.16 127.05,164.16 127.30,164.17 127.55,164.17 127.80,164.17 128.05,164.17 128.30,164.17 128.55,164.17 128.80,164.17 129.05,164.17 129.30,164.17 129.55,164.17 129.80,164.17 130.05,164.17 130.30,164.17 130.55,164.18 130.80,164.18 131.05,164.18 131.30,164.18 131.55,164.18 131.80,164.18 132.05,164.18 132.30,164.18 132.55,164.18 132.80,164.18 133.05,164.18 133.30,164.18 133.55,164.18 133.80,164.18 134.05,164.18 134.30,164.18 134.55,164.18 134.80,164.18 135.05,164.18 135.30,164.19 135.55,164.19 135.80,164.19 136.05,164.19 136.30,164.19 136.55,164.19 136.80,164.19 137.05,164.19 137.30,164.19 137.55,164.19 137.80,164.19 138.05,164.19 138.30,164.19 138.55,164.19 138.80,164.19 139.05,164.19 139.30,164.19 139.55,164.19 139.80,164.19 140.05,164.19 140.30,164.19 140.55,164.19 140.80,164.19 141.05,164.19 141.30,164.19 141.55,164.19 141.80,164.19 142.05,164.19 142.30,164.19 142.55,164.19 142.80,164.19 143.05,164.19 143.30,164.19 143.55,164.19 143.80,164.19 144.05,164.19 144.30,164.19 144.55,164.20 144.80,164.20 145.05,164.20 145.30,164.20 145.55,164.20 145.80,164.20 146.05,164.20 146.30,164.20 146.55,164.20 146.80,164.20 147.05,164.20 147.30,164.20 147.55,164.20 147.80,164.20 148.05,164.20 148.30,164.20 148.55,164.20 148.80,164.20 149.05,164.20 149.30,164.20 149.55,164.20 149.80,164.20 150.05,164.20 150.30,164.20 150.55,164.20 150.80,164.20 151.05,164.20 151.30,164.21 151.55,164.21 151.80,164.21 152.05,164.22 152.30,164.22 152.55,164.22 152.80,164.23 153.05,164.23 153.30,164.24 153.55,164.24 153.80,164.25 154.05,164.25 154.30,164.26 154.55,164.27 154.80,164.27 155.05,164.28 155.30,164.29 155.55,164.29 155.80,164.30 156.05,164.31 156.30,164.32 156.55,164.33 156.80,164.34 157.05,164.35 157.30,164.35 157.55,164.36 157.80,164.37 158.05,164.38 158.30,164.39 158.55,164.40 158.80,164.41 159.05,164.43 159.30,164.44 159.55,164.45 159.80,164.46 160.05,164.47 160.30,164.48 160.55,164.49 160.80,164.51 161.05,164.52 161.30,164.53 161.55,164.54 161.80,164.55 162.05,164.57 162.30,164.58 162.55,164.59 162.80,164.60 163.05,164.62 163.30,164.63 163.55,164.64 163.80,164.66 164.05,164.67 164.30,164.68 164.55,164.70 164.80,164.71 165.05,164.72 165.30,164.74 165.55,164.75 165.80,164.76 166.05,164.78 166.30,164.79 166.55,164.80 166.80,164.82 167.05,164.83 167.30,164.84 167.55,164.86 167.80,164.87 168.05,164.88 168.30,164.89 168.55,164.91 168.80,164.92 169.05,164.93 169.30,164.95 169.55,164.96 169.80,164.97 170.05,164.98 170.30,165.00 170.55,165.01 170.80,165.02 171.05,165.03 171.30,165.04 171.55,165.06 171.80,165.07 172.05,165.08 172.30,165.09 172.55,165.10 172.80,165.11 173.05,165.12 173.30,165.13 173.55,165.15 173.80,165.16 174.05,165.17 174.30,165.18 174.55,165.19 174.80,165.19 175.05,165.20 175.30,165.21 175.55,165.22 175.80,165.23 176.05,165.24 176.30,165.25 176.55,165.25 176.80,165.26 177.05,165.27 177.30,165.28 177.55,165.28 177.80,165.29 178.05,165.29 178.30,165.30 178.55,165.31 178.80,165.31 179.05,165.32 179.30,165.32 179.55,165.33 179.80,165.33 180.05,165.34 180.30,165.34 180.55,165.35 180.80,165.35 181.05,165.36 181.30,165.36 181.55,165.37 181.80,165.37 182.05,165.38 182.30,165.38 182.55,165.38 182.80,165.39 183.05,165.39 183.30,165.40 183.55,165.40 183.80,165.41 184.05,165.41 184.30,165.41 184.55,165.42 184.80,165.42 185.05,165.43 185.30,165.43 185.55,165.43 185.80,165.44 186.05,165.44 186.30,165.44 186.55,165.45 186.80,165.45 187.05,165.46 187.30,165.46 187.55,165.46 187.80,165.47 188.05,165.47 188.30,165.47 188.55,165.48 188.80,165.48 189.05,165.48 189.30,165.49 189.55,165.49 189.80,165.49 190.05,165.50 190.30,165.50 190.55,165.50 190.80,165.51 191.05,165.51 191.30,165.51 191.55,165.52 191.80,165.52 192.05,165.52 192.30,165.53 192.55,165.53 192.80,165.53 193.05,165.53 193.30,165.54 193.55,165.54 193.80,165.54 194.05,165.55 194.30,165.55 194.55,165.55 194.80,165.56 195.05,165.56 195.30,165.56 195.55,165.57 195.80,165.57 196.05,165.57 196.30,165.57 196.55,165.58 196.80,165.58 197.05,165.58 197.30,165.59 197.55,165.59 197.80,165.59 198.05,165.60 198.30,165.60 198.55,165.60 198.80,165.61 199.05,165.61 199.07,165.61 199.30,165.61 199.55,165.62 199.80,165.62 200.05,165.62 200.30,165.62 200.55,165.63 200.80,165.63 201.05,165.63 201.30,165.63 201.55,165.64 201.80,165.64 202.05,165.64 202.30,165.64 202.55,165.64 202.80,165.65 203.05,165.65 203.30,165.65 203.55,165.65 203.80,165.65 204.05,165.66 204.30,165.66 204.55,165.66 204.80,165.66 205.05,165.66 205.30,165.67 205.55,165.67 205.80,165.67 206.05,165.67 206.30,165.67 206.55,165.67 206.80,165.67 207.05,165.68 207.30,165.68 207.55,165.68 207.80,165.68 208.05,165.68 208.30,165.68 208.55,165.68 208.80,165.68 209.05,165.68 209.30,165.68 209.55,165.68 209.80,165.68 210.05,165.69 210.30,165.69 210.55,165.69 210.80,165.69 211.05,165.69 211.30,165.69 211.55,165.69 211.80,165.69 212.05,165.69 212.30,165.69 212.55,165.69 212.80,165.69 213.05,165.69 213.30,165.68 213.55,165.68 213.80,165.68 214.05,165.68 214.30,165.68 214.55,165.68 214.80,165.68 215.05,165.67 215.30,165.67 215.55,165.67 215.80,165.67 216.05,165.66 216.30,165.66 216.55,165.66 216.80,165.65 217.05,165.65 217.30,165.65 217.55,165.64 217.80,165.64 218.05,165.63 218.30,165.62 218.55,165.62 218.80,165.61 219.05,165.60 219.30,165.59 219.55,165.58 219.80,165.57 220.05,165.56 220.30,165.54 220.55,165.53 220.80,165.51 221.05,165.50 221.30,165.48 221.55,165.46 221.80,165.44 222.05,165.41 222.30,165.39 222.55,165.36 222.80,165.33 223.05,165.29 223.30,165.25 223.55,165.21 223.80,165.16 224.05,165.11 224.30,165.04 224.55,164.97 224.80,164.89 225.05,164.79 225.30,164.67 225.55,164.51 225.80,164.32 226.05,164.07 226.30,163.75 226.55,163.31 226.80,162.72 227.05,161.95 227.30,160.93 227.55,159.63 227.80,157.99 228.05,156.00 228.30,153.66 228.55,151.00 228.80,148.09 229.05,145.08 229.30,142.18 229.55,139.66 229.80,137.85 230.05,137.04 230.10,137.02 230.30,137.40 230.55,138.84 230.80,141.11 231.05,143.90 231.30,146.90 231.55,149.87 231.80,152.64 232.05,155.11 232.30,157.24 232.55,159.01 232.80,160.44 233.05,161.56 233.30,162.41 233.55,163.05 233.80,163.53 234.05,163.88 234.30,164.13 234.55,164.32 234.80,164.45 235.05,164.55 235.30,164.62 235.55,164.66 235.80,164.69 236.05,164.69 236.30,164.68 236.55,164.65 236.80,164.60 237.05,164.53 237.30,164.44 237.55,164.31 237.80,164.16 238.05,163.95 238.30,163.69 238.55,163.35 238.80,162.91 239.05,162.36 239.08,162.28 239.30,161.65 239.55,160.77 239.80,159.68 240.05,158.36 240.30,156.78 240.55,154.93 240.80,152.83 241.05,150.49 241.30,147.95 241.55,145.30 241.70,143.70 241.80,142.65 242.05,140.16 242.30,138.03 242.55,136.47 242.80,135.68 242.90,135.61 243.05,135.78 243.30,136.74 243.55,138.44 243.80,140.68 244.05,143.23 244.30,145.90 244.55,148.55 244.80,151.07 245.05,153.38 245.30,155.45 245.55,157.26 245.80,158.80 246.05,160.09 246.30,161.16 246.55,162.02 246.80,162.71 247.05,163.27 247.30,163.71 247.55,164.06 247.80,164.34 248.05,164.57 248.30,164.75 248.55,164.91 248.80,165.04 249.05,165.15 249.30,165.25 249.55,165.34 249.80,165.42 250.05,165.49 250.30,165.55 250.55,165.61 250.80,165.66 251.05,165.71 251.30,165.75 251.55,165.79 251.80,165.83 252.05,165.86 252.30,165.89 252.55,165.92 252.80,165.95 253.05,165.97 253.30,166.00 253.55,166.02 253.80,166.04 254.05,166.06 254.30,166.07 254.55,166.09 254.80,166.10 255.05,166.12 255.30,166.13 255.55,166.14 255.80,166.16 256.05,166.17 256.30,166.18 256.55,166.19 256.80,166.19 257.05,166.20 257.30,166.21 257.55,166.22 257.80,166.22 258.05,166.23 258.30,166.24 258.55,166.24 258.80,166.25 259.05,166.25 259.30,166.26 259.55,166.26 259.80,166.27 260.05,166.27 260.30,166.28 260.55,166.28 260.80,166.28 261.05,166.29 261.30,166.29 261.55,166.29 261.80,166.30 262.05,166.30 262.30,166.30 262.55,166.31 262.80,166.31 263.05,166.31 263.30,166.31 263.55,166.31 263.80,166.32 264.05,166.32 264.30,166.32 264.55,166.32 264.80,166.32 265.05,166.32 265.30,166.32 265.55,166.32 265.80,166.32 266.05,166.32 266.30,166.32 266.55,166.33 266.80,166.32 267.05,166.32 267.30,166.32 267.55,166.32 267.80,166.32 268.05,166.32 268.30,166.32 268.55,166.32 268.80,166.32 269.05,166.32 269.30,166.32 269.55,166.31 269.80,166.31 270.05,166.31 270.30,166.31 270.55,166.30 270.80,166.30 271.05,166.30 271.30,166.30 271.55,166.29 271.80,166.29 272.05,166.28 272.30,166.28 272.55,166.28 272.80,166.27 273.05,166.27 273.30,166.26 273.55,166.26 273.80,166.25 274.05,166.24 274.30,166.24 274.55,166.23 274.80,166.22 275.05,166.21 275.30,166.20 275.55,166.19 275.80,166.19 276.05,166.17 276.30,166.16 276.55,166.15 276.80,166.14 277.05,166.13 277.30,166.11 277.55,166.10 277.80,166.08 278.05,166.06 278.30,166.05 278.55,166.03 278.80,166.01 279.05,165.98 279.30,165.96 279.55,165.93 279.80,165.90 280.05,165.87 280.30,165.84 280.55,165.81 280.80,165.77 281.05,165.73 281.30,165.68 281.55,165.64 281.80,165.58 282.05,165.53 282.30,165.46 282.55,165.39 282.80,165.32 283.05,165.23 283.30,165.14 283.55,165.04 283.80,164.92 284.05,164.79 284.30,164.65 284.55,164.48 284.80,164.29 285.05,164.08 285.30,163.82 285.55,163.51 285.80,163.12 286.05,162.61 286.20,162.23 286.30,161.93 286.55,160.99 286.80,159.67 287.05,157.80 287.30,155.19 287.55,151.61 287.80,146.86 288.05,140.74 288.30,133.18 288.55,124.25 288.80,114.21 289.05,103.56 289.10,101.43 289.30,93.10 289.55,83.90 289.80,77.21 290.05,74.21 290.10,74.12 290.30,75.52 290.55,80.85 290.80,89.21 291.05,99.31 291.30,109.99 291.55,120.35 291.80,129.77 292.05,137.90 292.30,144.59 292.55,149.88 292.80,153.90 293.05,156.87 293.30,159.01 293.55,160.53 293.80,161.61 294.05,162.38 294.30,162.95 294.55,163.38 294.80,163.73 295.05,164.00 295.30,164.24 295.55,164.44 295.80,164.61 296.05,164.77 296.30,164.90 296.55,165.02 296.80,165.13 297.05,165.23 297.30,165.32 297.55,165.40 297.80,165.47 298.05,165.54 298.30,165.60 298.55,165.66 298.80,165.71 299.05,165.75 299.30,165.80 299.55,165.84 299.80,165.87 300.05,165.91 300.30,165.94 300.55,165.97 300.80,166.00 301.05,166.02 301.30,166.05 301.55,166.07 301.80,166.09 302.05,166.11 302.30,166.13 302.55,166.15 302.80,166.16 303.05,166.18 303.30,166.19 303.55,166.20 303.80,166.22 304.05,166.23 304.30,166.24 304.55,166.25 304.80,166.26 305.05,166.27 305.30,166.28 305.55,166.29 305.80,166.29 306.05,166.30 306.30,166.31 306.55,166.31 306.80,166.32 307.05,166.33 307.30,166.33 307.55,166.33 307.80,166.34 308.05,166.34 308.30,166.34 308.55,166.35 308.80,166.35 309.05,166.35 309.30,166.35 309.55,166.35 309.80,166.35 310.05,166.35 310.30,166.35 310.55,166.35 310.80,166.35 311.05,166.35 311.30,166.35 311.55,166.34 311.80,166.34 312.05,166.34 312.30,166.33 312.55,166.33 312.80,166.32 313.05,166.31 313.30,166.31 313.55,166.30 313.80,166.29 314.05,166.28 314.30,166.26 314.55,166.25 314.80,166.24 315.05,166.22 315.30,166.20 315.55,166.18 315.80,166.15 316.05,166.13 316.30,166.09 316.55,166.05 316.80,166.00 317.05,165.93 317.30,165.85 317.55,165.73 317.80,165.59 318.05,165.39 318.30,165.13 318.55,164.80 318.80,164.39 319.05,163.87 319.30,163.24 319.55,162.52 319.80,161.69 320.05,160.80 320.30,159.87 320.55,158.95 320.80,158.11 321.05,157.45 321.30,157.03 321.50,156.92 321.55,156.93 321.80,157.16 322.05,157.68 322.30,158.42 322.55,159.30 322.80,160.23 323.05,161.15 323.30,162.01 323.55,162.80 323.80,163.48 324.05,164.06 324.30,164.53 324.55,164.91 324.80,165.21 325.05,165.43 325.30,165.61 325.55,165.74 325.80,165.84 326.05,165.91 326.30,165.97 326.55,166.01 326.80,166.05 327.05,166.08 327.30,166.10 327.55,166.12 327.80,166.14 328.05,166.16 328.30,166.17 328.55,166.19 328.80,166.20 329.05,166.21 329.30,166.22 329.55,166.23 329.80,166.23 330.05,166.24 330.30,166.25 330.55,166.25 330.80,166.26 331.05,166.26 331.30,166.26 331.55,166.27 331.80,166.27 332.05,166.27 332.30,166.28 332.55,166.28 332.80,166.28 333.05,166.28 333.30,166.28 333.55,166.29 333.80,166.29 334.05,166.29 334.30,166.29 334.55,166.29 334.80,166.29 335.05,166.29 335.30,166.29 335.55,166.29 335.80,166.29 336.05,166.29 336.30,166.30 336.55,166.30 336.80,166.30 337.05,166.30 337.30,166.30 337.55,166.30 337.80,166.30 338.05,166.30 338.30,166.30 338.55,166.30 338.80,166.30 339.05,166.30 339.30,166.30 339.55,166.30 339.80,166.30 340.05,166.30 340.30,166.30" fill="none" stroke="#ff8c14" stroke-width="1.5" stroke-linejoin="round" stroke-opacity="0.62"/>
<polyline clip-path="url(#cb)" points="40.40,223.12 40.65,222.69 40.90,222.27 41.15,221.85 41.40,221.42 41.65,221.14 41.90,221.43 42.15,221.72 42.40,222.00 42.65,222.29 42.90,222.43 43.15,222.35 43.40,222.26 43.65,222.18 43.90,222.10 44.15,222.08 44.40,222.10 44.65,222.12 44.90,222.14 45.15,222.16 45.40,222.19 45.65,222.22 45.90,222.26 46.15,222.29 46.40,222.32 46.65,222.17 46.90,222.01 47.15,221.85 47.40,221.69 47.65,221.60 47.90,221.78 48.15,221.96 48.40,222.14 48.65,222.33 48.90,222.41 49.15,222.37 49.40,222.32 49.65,222.28 49.90,222.23 50.15,222.45 50.40,222.86 50.65,223.27 50.90,223.67 51.15,224.08 51.40,223.94 51.65,223.66 51.90,223.39 52.15,223.11 52.40,222.84 52.65,222.80 52.90,222.76 53.15,222.72 53.40,222.68 53.65,222.65 53.90,222.68 54.15,222.70 54.40,222.72 54.65,222.75 54.90,222.75 55.15,222.73 55.40,222.72 55.65,222.70 55.90,222.68 56.15,222.66 56.40,222.64 56.65,222.63 56.90,222.61 57.15,222.59 57.40,222.65 57.65,222.74 57.90,222.82 58.15,222.90 58.40,222.98 58.65,223.09 58.90,223.19 59.15,223.29 59.40,223.40 59.65,223.47 59.90,223.43 60.15,223.38 60.40,223.34 60.65,223.30 60.90,223.33 61.15,223.46 61.40,223.60 61.65,223.74 61.90,223.88 62.15,223.88 62.40,223.80 62.65,223.72 62.90,223.65 63.15,223.57 63.40,223.60 63.65,223.66 63.90,223.72 64.15,223.78 64.40,223.84 64.65,224.03 64.90,224.21 65.15,224.40 65.40,224.58 65.65,224.72 65.90,224.68 66.15,224.63 66.40,224.58 66.65,224.53 66.90,224.48 67.15,224.43 67.40,224.37 67.65,224.32 67.90,224.27 68.15,224.29 68.40,224.36 68.65,224.44 68.90,224.51 69.15,224.58 69.40,224.68 69.65,224.79 69.90,224.89 70.15,225.00 70.40,225.10 70.65,225.27 70.90,225.44 71.15,225.61 71.40,225.78 71.65,225.88 71.90,225.71 72.15,225.54 72.40,225.37 72.65,225.20 72.90,225.12 73.15,225.16 73.40,225.20 73.65,225.24 73.90,225.28 74.15,225.39 74.40,225.54 74.65,225.70 74.90,225.85 75.15,226.00 75.40,225.92 75.65,225.78 75.90,225.64 76.15,225.49 76.40,225.35 76.65,225.43 76.90,225.52 77.15,225.61 77.40,225.69 77.65,225.79 77.90,225.92 78.15,226.06 78.40,226.19 78.65,226.33 78.90,226.40 79.15,226.40 79.40,226.39 79.65,226.38 79.90,226.37 80.15,226.34 80.40,226.31 80.65,226.28 80.90,226.25 81.15,226.22 81.40,226.26 81.65,226.33 81.90,226.40 82.15,226.47 82.40,226.53 82.65,226.22 82.90,225.90 83.15,225.58 83.40,225.27 83.65,225.09 83.90,225.46 84.15,225.83 84.40,226.20 84.65,226.57 84.90,226.72 85.15,226.55 85.40,226.37 85.65,226.20 85.90,226.02 86.15,225.91 86.40,225.86 86.65,225.80 86.90,225.74 87.15,225.68 87.40,225.82 87.65,226.01 87.90,226.20 88.15,226.39 88.40,226.58 88.65,226.63 88.90,226.67 89.15,226.72 89.40,226.77 89.65,226.78 89.90,226.68 90.15,226.58 90.40,226.48 90.65,226.38 90.90,226.30 91.15,226.25 91.40,226.20 91.65,226.14 91.90,226.09 92.15,226.14 92.40,226.25 92.65,226.36 92.90,226.47 93.15,226.58 93.40,226.60 93.65,226.60 93.90,226.60 94.15,226.60 94.40,226.60 94.65,226.74 94.90,226.88 95.15,227.02 95.40,227.17 95.65,227.27 95.90,227.21 96.15,227.15 96.40,227.10 96.65,227.04 96.90,226.99 97.15,226.94 97.40,226.89 97.65,226.84 97.90,226.79 98.15,226.83 98.40,226.92 98.65,227.01 98.90,227.09 99.15,227.18 99.40,227.10 99.65,226.98 99.90,226.85 100.15,226.73 100.40,226.61 100.65,226.54 100.90,226.47 101.15,226.40 101.40,226.34 101.65,226.31 101.90,226.45 102.15,226.59 102.40,226.74 102.65,226.88 102.90,226.96 103.15,226.96 103.40,226.96 103.65,226.96 103.90,226.96 104.15,226.92 104.40,226.84 104.65,226.77 104.90,226.69 105.15,226.62 105.40,226.56 105.65,226.51 105.90,226.45 106.15,226.40 106.40,226.35 106.65,226.44 106.90,226.54 107.15,226.63 107.40,226.73 107.65,226.75 107.90,226.50 108.15,226.24 108.40,225.99 108.65,225.73 108.90,225.70 109.15,226.00 109.40,226.29 109.65,226.59 109.90,226.89 110.15,227.00 110.40,226.97 110.65,226.95 110.90,226.91 111.15,226.87 111.40,226.69 111.65,226.46 111.90,226.23 112.15,225.99 112.40,225.76 112.65,225.88 112.90,225.99 113.15,226.11 113.40,226.22 113.65,226.28 113.90,226.13 114.15,225.98 114.40,225.82 114.65,225.64 114.90,225.54 115.15,225.59 115.40,225.63 115.65,225.66 115.90,225.67 116.15,225.43 116.40,225.00 116.65,224.57 116.90,224.14 117.15,223.69 117.40,223.54 117.65,223.46 117.90,223.36 118.15,223.25 118.40,223.12 118.65,223.03 118.90,222.92 119.15,222.79 119.40,222.65 119.65,222.46 119.90,222.17 120.15,221.87 120.40,221.54 120.65,221.20 120.90,220.70 121.15,219.96 121.40,219.19 121.65,218.38 121.90,217.52 122.15,216.88 122.40,216.35 122.65,215.75 122.90,215.05 123.15,214.24 123.40,213.04 123.65,211.44 123.90,209.55 124.15,207.43 124.40,204.92 124.65,201.62 124.90,198.05 125.15,194.51 125.40,190.80" fill="none" stroke="#0d49b2" stroke-width="1.5" stroke-linejoin="round"/>
<polyline clip-path="url(#cb)" points="40.40,244.26 40.65,244.13 40.90,244.00 41.15,243.87 41.40,243.74 41.65,243.68 41.90,243.91 42.15,244.14 42.40,244.37 42.65,244.61 42.90,244.69 43.15,244.56 43.40,244.43 43.65,244.30 43.90,244.17 44.15,244.11 44.40,244.08 44.65,244.05 44.90,244.02 45.15,243.99 45.40,243.89 45.65,243.77 45.90,243.65 46.15,243.53 46.40,243.41 46.65,243.74 46.90,244.07 47.15,244.39 47.40,244.72 47.65,244.96 47.90,244.88 48.15,244.81 48.40,244.73 48.65,244.65 48.90,244.61 49.15,244.62 49.40,244.63 49.65,244.64 49.90,244.65 50.15,244.68 50.40,244.72 50.65,244.77 50.90,244.82 51.15,244.87 51.40,244.83 51.65,244.76 51.90,244.70 52.15,244.64 52.40,244.58 52.65,244.50 52.90,244.42 53.15,244.34 53.40,244.26 53.65,244.19 53.90,244.19 54.15,244.19 54.40,244.19 54.65,244.19 54.90,244.19 55.15,244.20 55.40,244.22 55.65,244.23 55.90,244.25 56.15,244.38 56.40,244.60 56.65,244.82 56.90,245.04 57.15,245.26 57.40,245.10 57.65,244.85 57.90,244.60 58.15,244.35 58.40,244.10 58.65,244.20 58.90,244.30 59.15,244.39 59.40,244.49 59.65,244.58 59.90,244.62 60.15,244.66 60.40,244.71 60.65,244.75 60.90,244.80 61.15,244.87 61.40,244.94 61.65,245.01 61.90,245.07 62.15,245.13 62.40,245.18 62.65,245.24 62.90,245.30 63.15,245.36 63.40,245.26 63.65,245.12 63.90,244.98 64.15,244.85 64.40,244.72 64.65,244.71 64.90,244.71 65.15,244.71 65.40,244.71 65.65,244.75 65.90,244.96 66.15,245.17 66.40,245.39 66.65,245.60 66.90,245.80 67.15,245.97 67.40,246.14 67.65,246.31 67.90,246.48 68.15,246.56 68.40,246.58 68.65,246.59 68.90,246.61 69.15,246.63 69.40,246.64 69.65,246.65 69.90,246.66 70.15,246.68 70.40,246.69 70.65,246.70 70.90,246.71 71.15,246.73 71.40,246.74 71.65,246.77 71.90,246.89 72.15,247.01 72.40,247.13 72.65,247.25 72.90,247.32 73.15,247.33 73.40,247.34 73.65,247.34 73.90,247.35 74.15,247.44 74.40,247.60 74.65,247.75 74.90,247.90 75.15,248.05 75.40,248.00 75.65,247.90 75.90,247.79 76.15,247.68 76.40,247.57 76.65,247.70 76.90,247.83 77.15,247.95 77.40,248.07 77.65,248.17 77.90,248.18 78.15,248.18 78.40,248.18 78.65,248.18 78.90,248.22 79.15,248.30 79.40,248.37 79.65,248.45 79.90,248.52 80.15,248.53 80.40,248.51 80.65,248.48 80.90,248.46 81.15,248.44 81.40,248.61 81.65,248.84 81.90,249.06 82.15,249.29 82.40,249.51 82.65,249.42 82.90,249.33 83.15,249.23 83.40,249.14 83.65,249.07 83.90,249.08 84.15,249.08 84.40,249.09 84.65,249.09 84.90,248.96 85.15,248.64 85.40,248.31 85.65,247.99 85.90,247.66 86.15,247.63 86.40,247.79 86.65,247.96 86.90,248.12 87.15,248.29 87.40,248.30 87.65,248.28 87.90,248.26 88.15,248.24 88.40,248.22 88.65,248.33 88.90,248.44 89.15,248.55 89.40,248.66 89.65,248.70 89.90,248.44 90.15,248.18 90.40,247.92 90.65,247.66 90.90,247.64 91.15,247.96 91.40,248.29 91.65,248.62 91.90,248.95 92.15,249.07 92.40,249.07 92.65,249.06 92.90,249.05 93.15,249.04 93.40,248.87 93.65,248.65 93.90,248.43 94.15,248.21 94.40,247.99 94.65,248.02 94.90,248.05 95.15,248.09 95.40,248.12 95.65,248.15 95.90,248.17 96.15,248.18 96.40,248.20 96.65,248.22 96.90,248.26 97.15,248.34 97.40,248.42 97.65,248.50 97.90,248.58 98.15,248.65 98.40,248.71 98.65,248.76 98.90,248.82 99.15,248.88 99.40,248.99 99.65,249.13 99.90,249.26 100.15,249.39 100.40,249.52 100.65,249.31 100.90,249.10 101.15,248.88 101.40,248.67 101.65,248.52 101.90,248.60 102.15,248.69 102.40,248.77 102.65,248.86 102.90,248.88 103.15,248.82 103.40,248.75 103.65,248.69 103.90,248.62 104.15,248.68 104.40,248.82 104.65,248.96 104.90,249.10 105.15,249.24 105.40,249.18 105.65,249.07 105.90,248.97 106.15,248.86 106.40,248.75 106.65,248.80 106.90,248.84 107.15,248.89 107.40,248.93 107.65,248.92 107.90,248.67 108.15,248.43 108.40,248.18 108.65,247.94 108.90,247.82 109.15,247.89 109.40,247.95 109.65,248.02 109.90,248.09 110.15,248.07 110.40,247.99 110.65,247.91 110.90,247.83 111.15,247.75 111.40,247.89 111.65,248.08 111.90,248.26 112.15,248.45 112.40,248.63 112.65,248.52 112.90,248.40 113.15,248.29 113.40,248.16 113.65,248.04 113.90,247.91 114.15,247.77 114.40,247.63 114.65,247.49 114.90,247.38 115.15,247.31 115.40,247.23 115.65,247.15 115.90,247.06 116.15,247.02 116.40,247.01 116.65,247.00 116.90,246.98 117.15,246.96 117.40,246.77 117.65,246.53 117.90,246.29 118.15,246.05 118.40,245.80 118.65,245.63 118.90,245.45 119.15,245.25 119.40,245.03 119.65,244.83 119.90,244.73 120.15,244.63 120.40,244.52 120.65,244.40 120.90,244.30 121.15,244.23 121.40,244.16 121.65,244.09 121.90,244.01 122.15,243.66 122.40,243.13 122.65,242.59 122.90,242.03 123.15,241.46 123.40,241.05 123.65,240.66 123.90,240.25 124.15,239.80 124.40,239.30 124.65,238.75 124.90,238.16 125.15,237.55 125.40,236.92" fill="none" stroke="#178b3e" stroke-width="1.5" stroke-linejoin="round"/>
<polyline clip-path="url(#cb)" points="40.40,224.48 40.65,224.40 40.90,224.33 41.15,224.25 41.40,224.17 41.65,224.12 41.90,224.15 42.15,224.18 42.40,224.22 42.65,224.25 42.90,224.26 43.15,224.25 43.40,224.23 43.65,224.22 43.90,224.21 44.15,224.21 44.40,224.21 44.65,224.22 44.90,224.23 45.15,224.24 45.40,224.13 45.65,223.98 45.90,223.83 46.15,223.69 46.40,223.54 46.65,223.65 46.90,223.76 47.15,223.87 47.40,223.99 47.65,224.09 47.90,224.15 48.15,224.22 48.40,224.29 48.65,224.35 48.90,224.37 49.15,224.30 49.40,224.23 49.65,224.16 49.90,224.09 50.15,224.09 50.40,224.13 50.65,224.18 50.90,224.22 51.15,224.26 51.40,224.26 51.65,224.25 51.90,224.23 52.15,224.22 52.40,224.20 52.65,224.27 52.90,224.33 53.15,224.39 53.40,224.46 53.65,224.54 53.90,224.67 54.15,224.80 54.40,224.93 54.65,225.06 54.90,225.10 55.15,225.00 55.40,224.90 55.65,224.80 55.90,224.71 56.15,224.70 56.40,224.74 56.65,224.79 56.90,224.83 57.15,224.88 57.40,224.98 57.65,225.09 57.90,225.20 58.15,225.31 58.40,225.43 58.65,225.43 58.90,225.44 59.15,225.45 59.40,225.46 59.65,225.49 59.90,225.61 60.15,225.73 60.40,225.85 60.65,225.97 60.90,225.92 61.15,225.58 61.40,225.25 61.65,224.92 61.90,224.59 62.15,224.64 62.40,224.94 62.65,225.25 62.90,225.56 63.15,225.87 63.40,225.87 63.65,225.78 63.90,225.70 64.15,225.62 64.40,225.55 64.65,225.66 64.90,225.77 65.15,225.88 65.40,226.00 65.65,226.11 65.90,226.24 66.15,226.37 66.40,226.50 66.65,226.63 66.90,226.75 67.15,226.84 67.40,226.93 67.65,227.03 67.90,227.12 68.15,227.20 68.40,227.27 68.65,227.34 68.90,227.41 69.15,227.48 69.40,227.49 69.65,227.49 69.90,227.48 70.15,227.47 70.40,227.47 70.65,227.68 70.90,227.90 71.15,228.11 71.40,228.32 71.65,228.47 71.90,228.37 72.15,228.27 72.40,228.17 72.65,228.06 72.90,228.03 73.15,228.12 73.40,228.20 73.65,228.29 73.90,228.37 74.15,228.50 74.40,228.65 74.65,228.80 74.90,228.96 75.15,229.11 75.40,229.08 75.65,229.01 75.90,228.94 76.15,228.87 76.40,228.80 76.65,229.10 76.90,229.40 77.15,229.70 77.40,230.00 77.65,230.22 77.90,230.15 78.15,230.08 78.40,230.00 78.65,229.92 78.90,229.93 79.15,230.06 79.40,230.19 79.65,230.31 79.90,230.43 80.15,230.36 80.40,230.16 80.65,229.97 80.90,229.77 81.15,229.57 81.40,229.51 81.65,229.48 81.90,229.46 82.15,229.43 82.40,229.40 82.65,229.46 82.90,229.52 83.15,229.58 83.40,229.63 83.65,229.69 83.90,229.75 84.15,229.81 84.40,229.87 84.65,229.92 84.90,229.91 85.15,229.79 85.40,229.67 85.65,229.55 85.90,229.43 86.15,229.44 86.40,229.54 86.65,229.63 86.90,229.72 87.15,229.82 87.40,229.81 87.65,229.78 87.90,229.74 88.15,229.71 88.40,229.67 88.65,229.83 88.90,229.99 89.15,230.14 89.40,230.30 89.65,230.38 89.90,230.17 90.15,229.96 90.40,229.75 90.65,229.54 90.90,229.47 91.15,229.64 91.40,229.80 91.65,229.96 91.90,230.13 92.15,230.10 92.40,229.94 92.65,229.79 92.90,229.63 93.15,229.48 93.40,229.43 93.65,229.40 93.90,229.38 94.15,229.35 94.40,229.32 94.65,229.35 94.90,229.38 95.15,229.41 95.40,229.44 95.65,229.45 95.90,229.41 96.15,229.37 96.40,229.33 96.65,229.29 96.90,229.32 97.15,229.45 97.40,229.58 97.65,229.72 97.90,229.85 98.15,229.95 98.40,230.04 98.65,230.14 98.90,230.23 99.15,230.32 99.40,230.28 99.65,230.20 99.90,230.13 100.15,230.06 100.40,229.99 100.65,230.05 100.90,230.12 101.15,230.18 101.40,230.25 101.65,230.34 101.90,230.46 102.15,230.59 102.40,230.72 102.65,230.86 102.90,230.90 103.15,230.82 103.40,230.73 103.65,230.65 103.90,230.57 104.15,230.56 104.40,230.60 104.65,230.64 104.90,230.67 105.15,230.71 105.40,230.72 105.65,230.72 105.90,230.73 106.15,230.73 106.40,230.72 106.65,230.64 106.90,230.55 107.15,230.47 107.40,230.38 107.65,230.36 107.90,230.61 108.15,230.86 108.40,231.11 108.65,231.35 108.90,231.41 109.15,231.19 109.40,230.96 109.65,230.74 109.90,230.50 110.15,230.54 110.40,230.77 110.65,230.99 110.90,231.22 111.15,231.44 111.40,231.43 111.65,231.36 111.90,231.29 112.15,231.22 112.40,231.15 112.65,231.25 112.90,231.35 113.15,231.44 113.40,231.54 113.65,231.59 113.90,231.46 114.15,231.34 114.40,231.21 114.65,231.09 114.90,230.98 115.15,230.89 115.40,230.80 115.65,230.71 115.90,230.62 116.15,230.64 116.40,230.73 116.65,230.83 116.90,230.92 117.15,231.01 117.40,230.94 117.65,230.83 117.90,230.72 118.15,230.61 118.40,230.50 118.65,230.52 118.90,230.53 119.15,230.54 119.40,230.55 119.65,230.56 119.90,230.55 120.15,230.55 120.40,230.54 120.65,230.52 120.90,230.49 121.15,230.43 121.40,230.37 121.65,230.30 121.90,230.23 122.15,230.16 122.40,230.09 122.65,230.03 122.90,229.95 123.15,229.88 123.40,229.76 123.65,229.63 123.90,229.50 124.15,229.36 124.40,229.23 124.65,229.21 124.90,229.20 125.15,229.18 125.40,229.17" fill="none" stroke="#5fbe14" stroke-width="1.5" stroke-linejoin="round"/>
<polyline clip-path="url(#cb)" points="40.40,298.86 40.65,299.10 40.90,299.33 41.15,299.56 41.40,299.80 41.65,299.99 41.90,300.02 42.15,300.05 42.40,300.09 42.65,300.12 42.90,300.02 43.15,299.74 43.40,299.45 43.65,299.17 43.90,298.88 44.15,298.90 44.40,299.11 44.65,299.33 44.90,299.54 45.15,299.75 45.40,299.79 45.65,299.78 45.90,299.78 46.15,299.77 46.40,299.76 46.65,299.69 46.90,299.62 47.15,299.56 47.40,299.49 47.65,299.47 47.90,299.63 48.15,299.80 48.40,299.96 48.65,300.13 48.90,300.20 49.15,300.13 49.40,300.05 49.65,299.98 49.90,299.90 50.15,299.81 50.40,299.70 50.65,299.60 50.90,299.50 51.15,299.39 51.40,299.50 51.65,299.66 51.90,299.82 52.15,299.98 52.40,300.14 52.65,300.17 52.90,300.20 53.15,300.23 53.40,300.26 53.65,300.29 53.90,300.33 54.15,300.37 54.40,300.42 54.65,300.46 54.90,300.44 55.15,300.34 55.40,300.23 55.65,300.12 55.90,300.02 56.15,300.09 56.40,300.28 56.65,300.48 56.90,300.67 57.15,300.86 57.40,300.92 57.65,300.95 57.90,300.99 58.15,301.02 58.40,301.05 58.65,300.89 58.90,300.73 59.15,300.58 59.40,300.42 59.65,300.31 59.90,300.37 60.15,300.44 60.40,300.50 60.65,300.57 60.90,300.64 61.15,300.71 61.40,300.79 61.65,300.86 61.90,300.93 62.15,300.95 62.40,300.92 62.65,300.90 62.90,300.87 63.15,300.85 63.40,301.03 63.65,301.27 63.90,301.51 64.15,301.74 64.40,301.98 64.65,301.86 64.90,301.73 65.15,301.61 65.40,301.49 65.65,301.37 65.90,301.28 66.15,301.19 66.40,301.09 66.65,301.00 66.90,300.96 67.15,301.00 67.40,301.05 67.65,301.09 67.90,301.13 68.15,301.20 68.40,301.29 68.65,301.38 68.90,301.47 69.15,301.56 69.40,301.78 69.65,302.02 69.90,302.26 70.15,302.50 70.40,302.75 70.65,302.54 70.90,302.33 71.15,302.12 71.40,301.91 71.65,301.75 71.90,301.80 72.15,301.85 72.40,301.90 72.65,301.95 72.90,302.01 73.15,302.07 73.40,302.13 73.65,302.18 73.90,302.24 74.15,302.25 74.40,302.22 74.65,302.19 74.90,302.16 75.15,302.13 75.40,302.32 75.65,302.56 75.90,302.80 76.15,303.04 76.40,303.28 76.65,303.04 76.90,302.79 77.15,302.55 77.40,302.31 77.65,302.15 77.90,302.29 78.15,302.43 78.40,302.57 78.65,302.71 78.90,302.79 79.15,302.75 79.40,302.72 79.65,302.69 79.90,302.66 80.15,302.68 80.40,302.75 80.65,302.81 80.90,302.88 81.15,302.94 81.40,302.84 81.65,302.69 81.90,302.54 82.15,302.40 82.40,302.25 82.65,302.55 82.90,302.85 83.15,303.14 83.40,303.44 83.65,303.65 83.90,303.49 84.15,303.33 84.40,303.18 84.65,303.02 84.90,302.94 85.15,302.98 85.40,303.01 85.65,303.05 85.90,303.08 86.15,303.06 86.40,302.99 86.65,302.92 86.90,302.85 87.15,302.78 87.40,302.79 87.65,302.83 87.90,302.87 88.15,302.92 88.40,302.96 88.65,303.10 88.90,303.24 89.15,303.38 89.40,303.52 89.65,303.65 89.90,303.71 90.15,303.77 90.40,303.83 90.65,303.89 90.90,303.93 91.15,303.93 91.40,303.92 91.65,303.92 91.90,303.92 92.15,303.96 92.40,304.02 92.65,304.08 92.90,304.15 93.15,304.21 93.40,304.20 93.65,304.18 93.90,304.15 94.15,304.12 94.40,304.10 94.65,304.05 94.90,304.01 95.15,303.96 95.40,303.92 95.65,303.90 95.90,304.00 96.15,304.09 96.40,304.19 96.65,304.28 96.90,304.34 97.15,304.33 97.40,304.33 97.65,304.33 97.90,304.32 98.15,304.29 98.40,304.25 98.65,304.20 98.90,304.15 99.15,304.11 99.40,304.17 99.65,304.27 99.90,304.36 100.15,304.46 100.40,304.56 100.65,304.63 100.90,304.70 101.15,304.77 101.40,304.84 101.65,304.88 101.90,304.79 102.15,304.71 102.40,304.63 102.65,304.55 102.90,304.49 103.15,304.45 103.40,304.41 103.65,304.37 103.90,304.34 104.15,304.39 104.40,304.51 104.65,304.63 104.90,304.75 105.15,304.86 105.40,304.99 105.65,305.12 105.90,305.25 106.15,305.37 106.40,305.50 106.65,305.32 106.90,305.14 107.15,304.96 107.40,304.78 107.65,304.64 107.90,304.67 108.15,304.69 108.40,304.72 108.65,304.75 108.90,304.77 109.15,304.78 109.40,304.79 109.65,304.81 109.90,304.82 110.15,304.91 110.40,305.05 110.65,305.20 110.90,305.34 111.15,305.49 111.40,305.30 111.65,305.03 111.90,304.76 112.15,304.49 112.40,304.21 112.65,304.44 112.90,304.66 113.15,304.88 113.40,305.10 113.65,305.30 113.90,305.39 114.15,305.49 114.40,305.58 114.65,305.67 114.90,305.66 115.15,305.49 115.40,305.31 115.65,305.14 115.90,304.97 116.15,305.04 116.40,305.27 116.65,305.50 116.90,305.73 117.15,305.96 117.40,305.95 117.65,305.87 117.90,305.80 118.15,305.73 118.40,305.65 118.65,305.56 118.90,305.48 119.15,305.39 119.40,305.30 119.65,305.25 119.90,305.33 120.15,305.42 120.40,305.50 120.65,305.59 120.90,305.58 121.15,305.43 121.40,305.28 121.65,305.13 121.90,304.99 122.15,304.99 122.40,305.09 122.65,305.20 122.90,305.30 123.15,305.41 123.40,305.62 123.65,305.86 123.90,306.09 124.15,306.33 124.40,306.57 124.65,306.33 124.90,306.09 125.15,305.84 125.40,305.60" fill="none" stroke="#d01a1a" stroke-width="1.5" stroke-linejoin="round"/>
<polyline clip-path="url(#cb)" points="40.40,304.45 40.65,304.38 40.90,304.30 41.15,304.23 41.40,304.16 41.65,304.06 41.90,303.87 42.15,303.67 42.40,303.47 42.65,303.28 42.90,303.23 43.15,303.40 43.40,303.58 43.65,303.75 43.90,303.93 44.15,304.05 44.40,304.14 44.65,304.23 44.90,304.32 45.15,304.41 45.40,304.34 45.65,304.23 45.90,304.12 46.15,304.02 46.40,303.91 46.65,303.91 46.90,303.91 47.15,303.91 47.40,303.91 47.65,303.94 47.90,304.12 48.15,304.30 48.40,304.48 48.65,304.66 48.90,304.74 49.15,304.66 49.40,304.58 49.65,304.50 49.90,304.43 50.15,304.35 50.40,304.27 50.65,304.19 50.90,304.11 51.15,304.03 51.40,304.11 51.65,304.22 51.90,304.33 52.15,304.45 52.40,304.56 52.65,304.72 52.90,304.89 53.15,305.05 53.40,305.21 53.65,305.32 53.90,305.22 54.15,305.11 54.40,305.00 54.65,304.90 54.90,304.89 55.15,305.05 55.40,305.20 55.65,305.35 55.90,305.50 56.15,305.60 56.40,305.68 56.65,305.75 56.90,305.83 57.15,305.90 57.40,305.82 57.65,305.70 57.90,305.58 58.15,305.46 58.40,305.34 58.65,305.25 58.90,305.16 59.15,305.07 59.40,304.98 59.65,304.91 59.90,304.91 60.15,304.91 60.40,304.92 60.65,304.92 60.90,304.98 61.15,305.12 61.40,305.25 61.65,305.39 61.90,305.53 62.15,305.65 62.40,305.76 62.65,305.86 62.90,305.97 63.15,306.07 63.40,306.06 63.65,306.02 63.90,305.99 64.15,305.95 64.40,305.91 64.65,305.96 64.90,306.01 65.15,306.05 65.40,306.10 65.65,306.12 65.90,306.05 66.15,305.98 66.40,305.91 66.65,305.84 66.90,305.83 67.15,305.92 67.40,306.01 67.65,306.10 67.90,306.20 68.15,306.20 68.40,306.15 68.65,306.10 68.90,306.05 69.15,306.00 69.40,306.02 69.65,306.05 69.90,306.09 70.15,306.12 70.40,306.16 70.65,306.09 70.90,306.02 71.15,305.95 71.40,305.88 71.65,305.83 71.90,305.82 72.15,305.82 72.40,305.82 72.65,305.81 72.90,305.86 73.15,305.98 73.40,306.11 73.65,306.23 73.90,306.35 74.15,306.38 74.40,306.34 74.65,306.31 74.90,306.27 75.15,306.23 75.40,306.25 75.65,306.29 75.90,306.33 76.15,306.36 76.40,306.40 76.65,306.57 76.90,306.74 77.15,306.92 77.40,307.09 77.65,307.22 77.90,307.17 78.15,307.12 78.40,307.06 78.65,307.01 78.90,307.10 79.15,307.41 79.40,307.71 79.65,308.01 79.90,308.32 80.15,308.34 80.40,308.17 80.65,308.00 80.90,307.84 81.15,307.67 81.40,307.54 81.65,307.41 81.90,307.28 82.15,307.15 82.40,307.03 82.65,307.18 82.90,307.33 83.15,307.48 83.40,307.63 83.65,307.75 83.90,307.73 84.15,307.70 84.40,307.68 84.65,307.66 84.90,307.61 85.15,307.53 85.40,307.45 85.65,307.37 85.90,307.29 86.15,307.37 86.40,307.55 86.65,307.74 86.90,307.92 87.15,308.10 87.40,308.01 87.65,307.85 87.90,307.69 88.15,307.53 88.40,307.37 88.65,307.17 88.90,306.97 89.15,306.77 89.40,306.58 89.65,306.49 89.90,306.87 90.15,307.24 90.40,307.62 90.65,307.99 90.90,308.17 91.15,308.06 91.40,307.94 91.65,307.82 91.90,307.70 92.15,307.78 92.40,307.99 92.65,308.20 92.90,308.42 93.15,308.63 93.40,308.52 93.65,308.33 93.90,308.15 94.15,307.96 94.40,307.78 94.65,307.74 94.90,307.71 95.15,307.67 95.40,307.63 95.65,307.66 95.90,307.93 96.15,308.20 96.40,308.47 96.65,308.74 96.90,308.81 97.15,308.58 97.40,308.35 97.65,308.12 97.90,307.89 98.15,307.87 98.40,308.01 98.65,308.14 98.90,308.28 99.15,308.41 99.40,308.55 99.65,308.68 99.90,308.81 100.15,308.94 100.40,309.08 100.65,308.97 100.90,308.86 101.15,308.75 101.40,308.64 101.65,308.55 101.90,308.55 102.15,308.55 102.40,308.54 102.65,308.54 102.90,308.55 103.15,308.59 103.40,308.62 103.65,308.65 103.90,308.69 104.15,308.75 104.40,308.84 104.65,308.92 104.90,309.01 105.15,309.09 105.40,309.00 105.65,308.86 105.90,308.72 106.15,308.58 106.40,308.45 106.65,308.59 106.90,308.74 107.15,308.89 107.40,309.04 107.65,309.16 107.90,309.18 108.15,309.19 108.40,309.20 108.65,309.22 108.90,309.30 109.15,309.48 109.40,309.66 109.65,309.84 109.90,310.02 110.15,309.95 110.40,309.72 110.65,309.49 110.90,309.25 111.15,309.02 111.40,308.94 111.65,308.90 111.90,308.87 112.15,308.83 112.40,308.79 112.65,308.96 112.90,309.13 113.15,309.31 113.40,309.48 113.65,309.60 113.90,309.51 114.15,309.42 114.40,309.33 114.65,309.24 114.90,309.22 115.15,309.30 115.40,309.38 115.65,309.46 115.90,309.54 116.15,309.58 116.40,309.58 116.65,309.58 116.90,309.58 117.15,309.59 117.40,309.68 117.65,309.79 117.90,309.91 118.15,310.02 118.40,310.14 118.65,309.98 118.90,309.83 119.15,309.67 119.40,309.52 119.65,309.41 119.90,309.48 120.15,309.55 120.40,309.62 120.65,309.69 120.90,309.65 121.15,309.44 121.40,309.22 121.65,309.01 121.90,308.80 122.15,308.82 122.40,308.99 122.65,309.16 122.90,309.34 123.15,309.51 123.40,309.74 123.65,309.98 123.90,310.23 124.15,310.48 124.40,310.72 124.65,310.53 124.90,310.34 125.15,310.15 125.40,309.96" fill="none" stroke="#ff8c14" stroke-width="1.5" stroke-linejoin="round"/>
<polyline clip-path="url(#cc)" points="147.50,311.22 147.75,311.21 148.00,311.20 148.25,311.19 148.50,311.18 148.75,311.16 149.00,311.15 149.25,311.12 149.50,311.08 149.75,311.04 150.00,311.00 150.25,310.97 150.50,310.93 150.75,310.97 151.00,311.02 151.25,311.06 151.50,311.10 151.75,311.15 152.00,311.19 152.25,311.18 152.50,311.16 152.75,311.15 153.00,311.14 153.25,311.12 153.50,311.11 153.75,311.12 154.00,311.12 154.25,311.13 154.50,311.14 154.75,311.15 155.00,311.16 155.25,311.12 155.50,311.08 155.75,311.03 156.00,310.99 156.25,310.95 156.50,310.91 156.75,310.97 157.00,311.02 157.25,311.07 157.50,311.13 157.75,311.18 158.00,311.23 158.25,311.19 158.50,311.15 158.75,311.11 159.00,311.06 159.25,311.02 159.50,310.98 159.75,310.96 160.00,310.93 160.25,310.91 160.50,310.89 160.75,310.87 161.00,310.84 161.25,310.82 161.50,310.79 161.75,310.77 162.00,310.75 162.25,310.72 162.50,310.70 162.75,310.69 163.00,310.68 163.25,310.68 163.50,310.67 163.75,310.66 164.00,310.65 164.25,310.65 164.50,310.66 164.75,310.66 165.00,310.67 165.25,310.67 165.50,310.68 165.75,310.63 166.00,310.58 166.25,310.53 166.50,310.48 166.75,310.42 167.00,310.35 167.25,310.35 167.50,310.35 167.75,310.34 168.00,310.34 168.25,310.34 168.50,310.34 168.75,310.29 169.00,310.24 169.25,310.19 169.50,310.13 169.75,310.06 170.00,309.99 170.25,309.95 170.50,309.91 170.75,309.87 171.00,309.83 171.25,309.78 171.50,309.74 171.75,309.67 172.00,309.60 172.25,309.52 172.50,309.41 172.75,309.29 173.00,309.18 173.25,309.05 173.50,308.93 173.75,308.80 174.00,308.68 174.25,308.55 174.50,308.43 174.75,308.28 175.00,308.13 175.25,307.94 175.50,307.71 175.75,307.49 176.00,307.27 176.25,307.14 176.50,307.02 176.75,306.90 177.00,306.77 177.25,306.65 177.50,306.53 177.75,306.36 178.00,306.17 178.25,305.87 178.50,305.57 178.75,305.27 179.00,304.97 179.25,304.64 179.50,304.32 179.75,303.99 180.00,303.66 180.25,303.33 180.50,303.00 180.75,302.70 181.00,302.22 181.25,301.68 181.50,301.15 181.75,300.62 182.00,300.09 182.25,299.52 182.50,298.95 182.75,298.38 183.00,297.81 183.25,297.24 183.50,296.68 183.75,295.99 184.00,295.08 184.25,294.18 184.50,293.27 184.75,292.36 185.00,291.45 185.25,290.53 185.50,289.61 185.75,288.69 186.00,287.76 186.25,286.84 186.50,285.92 186.75,284.58 187.00,283.24 187.25,281.90 187.50,280.56 187.75,279.22 188.00,277.88 188.25,276.46 188.50,275.03 188.75,273.60 189.00,272.17 189.25,270.75 189.50,269.07 189.75,267.24 190.00,265.42 190.25,263.59 190.50,261.76 190.75,259.93 191.00,258.11 191.25,256.27 191.50,254.44 191.75,252.61 192.00,250.78 192.25,248.97 192.50,247.24 192.75,245.56 193.00,243.88 193.25,242.21 193.50,240.53 193.75,238.85 194.00,237.17 194.25,235.51 194.50,233.84 194.75,232.17 195.00,230.51 195.25,229.62 195.50,228.94 195.75,228.19 196.00,227.43 196.25,226.68 196.50,225.93 196.75,225.18 197.00,224.43 197.25,223.67 197.50,222.91 197.75,222.16 198.00,221.98 198.25,222.68 198.50,223.38 198.75,224.16 199.00,224.94 199.25,225.72 199.50,226.50 199.75,227.28 200.00,228.06 200.25,228.78 200.50,229.51 200.75,230.24 201.00,231.94 201.25,233.65 201.50,235.36 201.75,237.05 202.00,238.75 202.25,240.44 202.50,242.14 202.75,243.83 203.00,245.52 203.25,247.23 203.50,248.93 203.75,250.69 204.00,252.50 204.25,254.30 204.50,256.11 204.75,257.93 205.00,259.75 205.25,261.57 205.50,263.39 205.75,265.21 206.00,267.03 206.25,268.82 206.50,270.54 206.75,271.92 207.00,273.30 207.25,274.68 207.50,276.06 207.75,277.46 208.00,278.86 208.25,280.27 208.50,281.67 208.75,283.07 209.00,284.47 209.25,285.83 209.50,286.80 209.75,287.67 210.00,288.54 210.25,289.40 210.50,290.27 210.75,291.24 211.00,292.21 211.25,293.17 211.50,294.14 211.75,295.10 212.00,296.07 212.25,296.80 212.50,297.31 212.75,297.82 213.00,298.33 213.25,298.84 213.50,299.35 213.75,299.94 214.00,300.52 214.25,301.11 214.50,301.70 214.75,302.28 215.00,302.87 215.25,303.08 215.50,303.29 215.75,303.50 216.00,303.71 216.25,303.92 216.50,304.13 216.75,304.51 217.00,304.89 217.25,305.27 217.50,305.65 217.75,306.03 218.00,306.33 218.25,306.51 218.50,306.70 218.75,306.88 219.00,307.07 219.25,307.25 219.50,307.43 219.75,307.58 220.00,307.72 220.25,307.87 220.50,308.01 220.75,308.14 221.00,308.21 221.25,308.33 221.50,308.45 221.75,308.58 222.00,308.70 222.25,308.82 222.50,308.94 222.75,309.05 223.00,309.16 223.25,309.27 223.50,309.38 223.75,309.45 224.00,309.52 224.25,309.58 224.50,309.63 224.75,309.69 225.00,309.74 225.25,309.80 225.50,309.85 225.75,309.88 226.00,309.91 226.25,309.95 226.50,309.97 226.75,309.98 227.00,309.98 227.25,310.03 227.50,310.07 227.75,310.12 228.00,310.16 228.25,310.21 228.50,310.26 228.75,310.32 229.00,310.38 229.25,310.45 229.50,310.50 229.75,310.55 230.00,310.60 230.25,310.63 230.50,310.66 230.75,310.68 231.00,310.71 231.25,310.74 231.50,310.77 231.75,310.76 232.00,310.75 232.25,310.74 232.50,310.72" fill="none" stroke="#0d49b2" stroke-width="1.5" stroke-linejoin="round"/>
<polyline clip-path="url(#cc)" points="147.50,312.63 147.75,312.65 148.00,312.68 148.25,312.70 148.50,312.72 148.75,312.74 149.00,312.76 149.25,312.71 149.50,312.66 149.75,312.61 150.00,312.56 150.25,312.50 150.50,312.45 150.75,312.45 151.00,312.44 151.25,312.43 151.50,312.43 151.75,312.42 152.00,312.42 152.25,312.45 152.50,312.49 152.75,312.53 153.00,312.57 153.25,312.60 153.50,312.64 153.75,312.61 154.00,312.58 154.25,312.55 154.50,312.52 154.75,312.49 155.00,312.46 155.25,312.47 155.50,312.49 155.75,312.50 156.00,312.52 156.25,312.53 156.50,312.54 156.75,312.56 157.00,312.58 157.25,312.60 157.50,312.61 157.75,312.63 158.00,312.65 158.25,312.66 158.50,312.67 158.75,312.68 159.00,312.69 159.25,312.70 159.50,312.71 159.75,312.68 160.00,312.64 160.25,312.60 160.50,312.56 160.75,312.52 161.00,312.49 161.25,312.53 161.50,312.58 161.75,312.63 162.00,312.68 162.25,312.73 162.50,312.77 162.75,312.71 163.00,312.65 163.25,312.58 163.50,312.52 163.75,312.46 164.00,312.39 164.25,312.45 164.50,312.51 164.75,312.57 165.00,312.63 165.25,312.69 165.50,312.75 165.75,312.69 166.00,312.64 166.25,312.59 166.50,312.54 166.75,312.48 167.00,312.43 167.25,312.44 167.50,312.45 167.75,312.46 168.00,312.47 168.25,312.47 168.50,312.48 168.75,312.53 169.00,312.58 169.25,312.63 169.50,312.68 169.75,312.73 170.00,312.78 170.25,312.75 170.50,312.72 170.75,312.70 171.00,312.67 171.25,312.65 171.50,312.62 171.75,312.61 172.00,312.61 172.25,312.60 172.50,312.59 172.75,312.58 173.00,312.57 173.25,312.58 173.50,312.59 173.75,312.60 174.00,312.61 174.25,312.62 174.50,312.63 174.75,312.65 175.00,312.67 175.25,312.70 175.50,312.72 175.75,312.74 176.00,312.77 176.25,312.75 176.50,312.74 176.75,312.73 177.00,312.72 177.25,312.70 177.50,312.69 177.75,312.69 178.00,312.69 178.25,312.69 178.50,312.68 178.75,312.68 179.00,312.67 179.25,312.70 179.50,312.72 179.75,312.74 180.00,312.76 180.25,312.79 180.50,312.81 180.75,312.76 181.00,312.69 181.25,312.62 181.50,312.55 181.75,312.47 182.00,312.40 182.25,312.38 182.50,312.36 182.75,312.34 183.00,312.31 183.25,312.29 183.50,312.27 183.75,312.21 184.00,312.10 184.25,312.00 184.50,311.89 184.75,311.78 185.00,311.67 185.25,311.61 185.50,311.55 185.75,311.48 186.00,311.42 186.25,311.35 186.50,311.29 186.75,311.01 187.00,310.73 187.25,310.45 187.50,310.16 187.75,309.88 188.00,309.60 188.25,309.33 188.50,309.06 188.75,308.79 189.00,308.52 189.25,308.25 189.50,307.86 189.75,307.34 190.00,306.82 190.25,306.30 190.50,305.78 190.75,305.26 191.00,304.74 191.25,304.25 191.50,303.76 191.75,303.28 192.00,302.79 192.25,302.29 192.50,301.76 192.75,301.26 193.00,300.76 193.25,300.26 193.50,299.76 193.75,299.26 194.00,298.76 194.25,298.20 194.50,297.65 194.75,297.09 195.00,296.53 195.25,296.22 195.50,295.96 195.75,295.77 196.00,295.58 196.25,295.39 196.50,295.19 196.75,295.00 197.00,294.81 197.25,294.58 197.50,294.36 197.75,294.13 198.00,294.10 198.25,294.35 198.50,294.60 198.75,294.82 199.00,295.05 199.25,295.27 199.50,295.49 199.75,295.71 200.00,295.93 200.25,296.20 200.50,296.47 200.75,296.74 201.00,297.29 201.25,297.84 201.50,298.39 201.75,298.93 202.00,299.46 202.25,299.99 202.50,300.53 202.75,301.06 203.00,301.60 203.25,302.18 203.50,302.76 203.75,303.30 204.00,303.83 204.25,304.35 204.50,304.87 204.75,305.37 205.00,305.87 205.25,306.36 205.50,306.86 205.75,307.36 206.00,307.85 206.25,308.26 206.50,308.63 206.75,308.83 207.00,309.02 207.25,309.22 207.50,309.42 207.75,309.68 208.00,309.95 208.25,310.22 208.50,310.48 208.75,310.75 209.00,311.02 209.25,311.22 209.50,311.30 209.75,311.34 210.00,311.38 210.25,311.42 210.50,311.47 210.75,311.63 211.00,311.79 211.25,311.95 211.50,312.11 211.75,312.28 212.00,312.44 212.25,312.50 212.50,312.53 212.75,312.55 213.00,312.57 213.25,312.59 213.50,312.61 213.75,312.61 214.00,312.61 214.25,312.61 214.50,312.61 214.75,312.61 215.00,312.61 215.25,312.67 215.50,312.72 215.75,312.77 216.00,312.82 216.25,312.87 216.50,312.93 216.75,312.87 217.00,312.82 217.25,312.77 217.50,312.71 217.75,312.66 218.00,312.61 218.25,312.64 218.50,312.68 218.75,312.71 219.00,312.75 219.25,312.78 219.50,312.82 219.75,312.83 220.00,312.84 220.25,312.85 220.50,312.86 220.75,312.87 221.00,312.88 221.25,312.85 221.50,312.81 221.75,312.78 222.00,312.74 222.25,312.71 222.50,312.68 222.75,312.73 223.00,312.78 223.25,312.84 223.50,312.89 223.75,312.94 224.00,313.00 224.25,313.00 224.50,313.01 224.75,313.02 225.00,313.02 225.25,313.03 225.50,313.03 225.75,312.97 226.00,312.91 226.25,312.85 226.50,312.79 226.75,312.73 227.00,312.67 227.25,312.67 227.50,312.67 227.75,312.67 228.00,312.67 228.25,312.67 228.50,312.67 228.75,312.73 229.00,312.78 229.25,312.83 229.50,312.88 229.75,312.93 230.00,312.98 230.25,312.97 230.50,312.95 230.75,312.94 231.00,312.92 231.25,312.91 231.50,312.89 231.75,312.86 232.00,312.83 232.25,312.81 232.50,312.78" fill="none" stroke="#178b3e" stroke-width="1.5" stroke-linejoin="round"/>
<polyline clip-path="url(#cc)" points="147.50,312.98 147.75,312.98 148.00,312.97 148.25,312.97 148.50,312.97 148.75,312.97 149.00,312.96 149.25,312.99 149.50,313.01 149.75,313.03 150.00,313.05 150.25,313.07 150.50,313.10 150.75,313.08 151.00,313.07 151.25,313.06 151.50,313.04 151.75,313.03 152.00,313.02 152.25,313.05 152.50,313.08 152.75,313.11 153.00,313.14 153.25,313.18 153.50,313.21 153.75,313.20 154.00,313.18 154.25,313.17 154.50,313.16 154.75,313.15 155.00,313.14 155.25,313.12 155.50,313.10 155.75,313.08 156.00,313.06 156.25,313.04 156.50,313.02 156.75,313.02 157.00,313.03 157.25,313.04 157.50,313.05 157.75,313.06 158.00,313.06 158.25,313.07 158.50,313.07 158.75,313.07 159.00,313.08 159.25,313.08 159.50,313.09 159.75,313.07 160.00,313.05 160.25,313.03 160.50,313.01 160.75,313.00 161.00,312.98 161.25,312.93 161.50,312.88 161.75,312.83 162.00,312.78 162.25,312.73 162.50,312.68 162.75,312.72 163.00,312.77 163.25,312.82 163.50,312.87 163.75,312.92 164.00,312.97 164.25,312.95 164.50,312.93 164.75,312.91 165.00,312.89 165.25,312.86 165.50,312.84 165.75,312.88 166.00,312.91 166.25,312.95 166.50,312.99 166.75,313.02 167.00,313.06 167.25,313.02 167.50,312.98 167.75,312.94 168.00,312.90 168.25,312.86 168.50,312.82 168.75,312.83 169.00,312.83 169.25,312.84 169.50,312.85 169.75,312.86 170.00,312.87 170.25,312.86 170.50,312.85 170.75,312.85 171.00,312.84 171.25,312.83 171.50,312.82 171.75,312.86 172.00,312.89 172.25,312.92 172.50,312.95 172.75,312.98 173.00,313.01 173.25,312.97 173.50,312.93 173.75,312.89 174.00,312.85 174.25,312.81 174.50,312.77 174.75,312.76 175.00,312.75 175.25,312.73 175.50,312.72 175.75,312.71 176.00,312.69 176.25,312.70 176.50,312.72 176.75,312.73 177.00,312.74 177.25,312.75 177.50,312.76 177.75,312.74 178.00,312.72 178.25,312.70 178.50,312.68 178.75,312.66 179.00,312.64 179.25,312.65 179.50,312.66 179.75,312.68 180.00,312.69 180.25,312.70 180.50,312.71 180.75,312.71 181.00,312.70 181.25,312.69 181.50,312.69 181.75,312.68 182.00,312.67 182.25,312.68 182.50,312.68 182.75,312.69 183.00,312.69 183.25,312.70 183.50,312.70 183.75,312.74 184.00,312.78 184.25,312.82 184.50,312.86 184.75,312.90 185.00,312.94 185.25,312.88 185.50,312.81 185.75,312.75 186.00,312.69 186.25,312.63 186.50,312.57 186.75,312.58 187.00,312.59 187.25,312.60 187.50,312.61 187.75,312.62 188.00,312.62 188.25,312.62 188.50,312.61 188.75,312.60 189.00,312.59 189.25,312.58 189.50,312.58 189.75,312.59 190.00,312.61 190.25,312.63 190.50,312.65 190.75,312.67 191.00,312.69 191.25,312.64 191.50,312.59 191.75,312.55 192.00,312.50 192.25,312.45 192.50,312.40 192.75,312.41 193.00,312.42 193.25,312.43 193.50,312.44 193.75,312.45 194.00,312.46 194.25,312.47 194.50,312.49 194.75,312.50 195.00,312.51 195.25,312.53 195.50,312.54 195.75,312.56 196.00,312.57 196.25,312.58 196.50,312.59 196.75,312.60 197.00,312.62 197.25,312.60 197.50,312.58 197.75,312.57 198.00,312.55 198.25,312.53 198.50,312.51 198.75,312.50 199.00,312.49 199.25,312.47 199.50,312.46 199.75,312.45 200.00,312.43 200.25,312.42 200.50,312.41 200.75,312.40 201.00,312.39 201.25,312.37 201.50,312.36 201.75,312.39 202.00,312.43 202.25,312.46 202.50,312.49 202.75,312.52 203.00,312.56 203.25,312.58 203.50,312.60 203.75,312.62 204.00,312.64 204.25,312.66 204.50,312.68 204.75,312.65 205.00,312.62 205.25,312.59 205.50,312.56 205.75,312.53 206.00,312.50 206.25,312.49 206.50,312.49 206.75,312.48 207.00,312.48 207.25,312.47 207.50,312.46 207.75,312.47 208.00,312.47 208.25,312.48 208.50,312.48 208.75,312.48 209.00,312.49 209.25,312.45 209.50,312.41 209.75,312.38 210.00,312.34 210.25,312.30 210.50,312.27 210.75,312.28 211.00,312.29 211.25,312.31 211.50,312.32 211.75,312.33 212.00,312.35 212.25,312.35 212.50,312.34 212.75,312.34 213.00,312.34 213.25,312.34 213.50,312.34 213.75,312.35 214.00,312.36 214.25,312.37 214.50,312.39 214.75,312.40 215.00,312.41 215.25,312.40 215.50,312.39 215.75,312.38 216.00,312.37 216.25,312.36 216.50,312.35 216.75,312.31 217.00,312.28 217.25,312.25 217.50,312.22 217.75,312.19 218.00,312.15 218.25,312.21 218.50,312.27 218.75,312.32 219.00,312.38 219.25,312.44 219.50,312.49 219.75,312.50 220.00,312.52 220.25,312.53 220.50,312.54 220.75,312.55 221.00,312.56 221.25,312.51 221.50,312.46 221.75,312.41 222.00,312.36 222.25,312.31 222.50,312.26 222.75,312.27 223.00,312.28 223.25,312.30 223.50,312.31 223.75,312.33 224.00,312.34 224.25,312.34 224.50,312.33 224.75,312.32 225.00,312.32 225.25,312.31 225.50,312.31 225.75,312.32 226.00,312.33 226.25,312.34 226.50,312.35 226.75,312.36 227.00,312.37 227.25,312.31 227.50,312.25 227.75,312.19 228.00,312.13 228.25,312.08 228.50,312.02 228.75,312.09 229.00,312.17 229.25,312.24 229.50,312.32 229.75,312.39 230.00,312.47 230.25,312.41 230.50,312.36 230.75,312.30 231.00,312.25 231.25,312.19 231.50,312.14 231.75,312.18 232.00,312.22 232.25,312.26 232.50,312.31" fill="none" stroke="#5fbe14" stroke-width="1.5" stroke-linejoin="round"/>
<polyline clip-path="url(#cc)" points="147.50,317.42 147.75,317.43 148.00,317.44 148.25,317.45 148.50,317.46 148.75,317.46 149.00,317.47 149.25,317.51 149.50,317.54 149.75,317.58 150.00,317.61 150.25,317.64 150.50,317.68 150.75,317.62 151.00,317.56 151.25,317.50 151.50,317.44 151.75,317.39 152.00,317.33 152.25,317.34 152.50,317.36 152.75,317.38 153.00,317.39 153.25,317.41 153.50,317.42 153.75,317.42 154.00,317.42 154.25,317.41 154.50,317.41 154.75,317.41 155.00,317.40 155.25,317.36 155.50,317.32 155.75,317.28 156.00,317.24 156.25,317.20 156.50,317.16 156.75,317.26 157.00,317.36 157.25,317.46 157.50,317.56 157.75,317.66 158.00,317.76 158.25,317.74 158.50,317.71 158.75,317.69 159.00,317.66 159.25,317.64 159.50,317.62 159.75,317.60 160.00,317.58 160.25,317.56 160.50,317.54 160.75,317.52 161.00,317.50 161.25,317.54 161.50,317.57 161.75,317.61 162.00,317.65 162.25,317.69 162.50,317.73 162.75,317.66 163.00,317.59 163.25,317.52 163.50,317.45 163.75,317.38 164.00,317.31 164.25,317.34 164.50,317.37 164.75,317.40 165.00,317.43 165.25,317.46 165.50,317.49 165.75,317.55 166.00,317.61 166.25,317.67 166.50,317.73 166.75,317.79 167.00,317.85 167.25,317.82 167.50,317.80 167.75,317.77 168.00,317.75 168.25,317.72 168.50,317.70 168.75,317.59 169.00,317.48 169.25,317.38 169.50,317.27 169.75,317.16 170.00,317.05 170.25,317.02 170.50,316.98 170.75,316.94 171.00,316.91 171.25,316.87 171.50,316.83 171.75,316.91 172.00,316.99 172.25,317.06 172.50,317.14 172.75,317.22 173.00,317.29 173.25,317.36 173.50,317.43 173.75,317.50 174.00,317.57 174.25,317.64 174.50,317.71 174.75,317.66 175.00,317.61 175.25,317.56 175.50,317.51 175.75,317.46 176.00,317.41 176.25,317.41 176.50,317.42 176.75,317.43 177.00,317.44 177.25,317.45 177.50,317.46 177.75,317.48 178.00,317.51 178.25,317.54 178.50,317.57 178.75,317.59 179.00,317.62 179.25,317.57 179.50,317.52 179.75,317.47 180.00,317.42 180.25,317.37 180.50,317.32 180.75,317.36 181.00,317.40 181.25,317.43 181.50,317.47 181.75,317.51 182.00,317.54 182.25,317.56 182.50,317.58 182.75,317.60 183.00,317.62 183.25,317.64 183.50,317.66 183.75,317.65 184.00,317.64 184.25,317.63 184.50,317.62 184.75,317.60 185.00,317.59 185.25,317.59 185.50,317.59 185.75,317.59 186.00,317.58 186.25,317.58 186.50,317.58 186.75,317.55 187.00,317.51 187.25,317.48 187.50,317.45 187.75,317.41 188.00,317.38 188.25,317.42 188.50,317.45 188.75,317.49 189.00,317.53 189.25,317.57 189.50,317.60 189.75,317.57 190.00,317.54 190.25,317.51 190.50,317.48 190.75,317.45 191.00,317.41 191.25,317.47 191.50,317.53 191.75,317.59 192.00,317.65 192.25,317.70 192.50,317.76 192.75,317.80 193.00,317.85 193.25,317.89 193.50,317.93 193.75,317.97 194.00,318.01 194.25,317.90 194.50,317.79 194.75,317.68 195.00,317.57 195.25,317.46 195.50,317.35 195.75,317.30 196.00,317.26 196.25,317.21 196.50,317.16 196.75,317.11 197.00,317.07 197.25,317.12 197.50,317.18 197.75,317.24 198.00,317.30 198.25,317.36 198.50,317.41 198.75,317.44 199.00,317.47 199.25,317.50 199.50,317.52 199.75,317.55 200.00,317.58 200.25,317.60 200.50,317.62 200.75,317.64 201.00,317.67 201.25,317.69 201.50,317.71 201.75,317.71 202.00,317.71 202.25,317.71 202.50,317.71 202.75,317.71 203.00,317.72 203.25,317.65 203.50,317.59 203.75,317.53 204.00,317.47 204.25,317.41 204.50,317.34 204.75,317.34 205.00,317.34 205.25,317.34 205.50,317.34 205.75,317.34 206.00,317.34 206.25,317.41 206.50,317.48 206.75,317.55 207.00,317.62 207.25,317.68 207.50,317.75 207.75,317.67 208.00,317.60 208.25,317.52 208.50,317.44 208.75,317.36 209.00,317.28 209.25,317.35 209.50,317.43 209.75,317.50 210.00,317.57 210.25,317.65 210.50,317.72 210.75,317.67 211.00,317.63 211.25,317.59 211.50,317.54 211.75,317.50 212.00,317.45 212.25,317.49 212.50,317.52 212.75,317.55 213.00,317.59 213.25,317.62 213.50,317.65 213.75,317.65 214.00,317.65 214.25,317.65 214.50,317.65 214.75,317.64 215.00,317.64 215.25,317.64 215.50,317.65 215.75,317.65 216.00,317.65 216.25,317.65 216.50,317.66 216.75,317.66 217.00,317.66 217.25,317.66 217.50,317.66 217.75,317.66 218.00,317.66 218.25,317.60 218.50,317.54 218.75,317.48 219.00,317.42 219.25,317.36 219.50,317.30 219.75,317.35 220.00,317.39 220.25,317.43 220.50,317.47 220.75,317.52 221.00,317.56 221.25,317.55 221.50,317.54 221.75,317.53 222.00,317.52 222.25,317.51 222.50,317.50 222.75,317.51 223.00,317.52 223.25,317.53 223.50,317.54 223.75,317.55 224.00,317.56 224.25,317.59 224.50,317.62 224.75,317.65 225.00,317.68 225.25,317.72 225.50,317.75 225.75,317.70 226.00,317.65 226.25,317.60 226.50,317.55 226.75,317.50 227.00,317.45 227.25,317.43 227.50,317.42 227.75,317.40 228.00,317.39 228.25,317.37 228.50,317.36 228.75,317.36 229.00,317.36 229.25,317.36 229.50,317.36 229.75,317.35 230.00,317.35 230.25,317.37 230.50,317.38 230.75,317.40 231.00,317.41 231.25,317.42 231.50,317.44 231.75,317.47 232.00,317.51 232.25,317.54 232.50,317.58" fill="none" stroke="#d01a1a" stroke-width="1.5" stroke-linejoin="round"/>
<polyline clip-path="url(#cc)" points="147.50,318.37 147.75,318.35 148.00,318.33 148.25,318.31 148.50,318.29 148.75,318.27 149.00,318.24 149.25,318.23 149.50,318.22 149.75,318.20 150.00,318.19 150.25,318.18 150.50,318.17 150.75,318.14 151.00,318.11 151.25,318.08 151.50,318.06 151.75,318.03 152.00,318.00 152.25,318.04 152.50,318.08 152.75,318.12 153.00,318.16 153.25,318.20 153.50,318.24 153.75,318.25 154.00,318.26 154.25,318.27 154.50,318.28 154.75,318.29 155.00,318.30 155.25,318.24 155.50,318.18 155.75,318.12 156.00,318.06 156.25,318.00 156.50,317.94 156.75,318.01 157.00,318.08 157.25,318.16 157.50,318.23 157.75,318.30 158.00,318.38 158.25,318.39 158.50,318.40 158.75,318.41 159.00,318.42 159.25,318.44 159.50,318.45 159.75,318.41 160.00,318.38 160.25,318.35 160.50,318.32 160.75,318.28 161.00,318.25 161.25,318.25 161.50,318.26 161.75,318.26 162.00,318.27 162.25,318.27 162.50,318.27 162.75,318.32 163.00,318.37 163.25,318.42 163.50,318.47 163.75,318.51 164.00,318.56 164.25,318.53 164.50,318.50 164.75,318.47 165.00,318.44 165.25,318.41 165.50,318.38 165.75,318.33 166.00,318.28 166.25,318.23 166.50,318.17 166.75,318.12 167.00,318.07 167.25,318.09 167.50,318.11 167.75,318.13 168.00,318.15 168.25,318.18 168.50,318.20 168.75,318.19 169.00,318.19 169.25,318.19 169.50,318.18 169.75,318.18 170.00,318.18 170.25,318.18 170.50,318.18 170.75,318.18 171.00,318.18 171.25,318.18 171.50,318.18 171.75,318.12 172.00,318.07 172.25,318.01 172.50,317.96 172.75,317.90 173.00,317.85 173.25,317.92 173.50,318.00 173.75,318.08 174.00,318.16 174.25,318.24 174.50,318.31 174.75,318.28 175.00,318.24 175.25,318.21 175.50,318.17 175.75,318.14 176.00,318.10 176.25,318.12 176.50,318.14 176.75,318.16 177.00,318.18 177.25,318.20 177.50,318.22 177.75,318.22 178.00,318.21 178.25,318.20 178.50,318.19 178.75,318.19 179.00,318.18 179.25,318.20 179.50,318.23 179.75,318.26 180.00,318.28 180.25,318.31 180.50,318.33 180.75,318.30 181.00,318.27 181.25,318.24 181.50,318.21 181.75,318.18 182.00,318.16 182.25,318.14 182.50,318.13 182.75,318.12 183.00,318.11 183.25,318.09 183.50,318.08 183.75,318.11 184.00,318.15 184.25,318.18 184.50,318.21 184.75,318.25 185.00,318.28 185.25,318.30 185.50,318.32 185.75,318.35 186.00,318.37 186.25,318.39 186.50,318.41 186.75,318.37 187.00,318.32 187.25,318.28 187.50,318.24 187.75,318.20 188.00,318.15 188.25,318.19 188.50,318.24 188.75,318.28 189.00,318.32 189.25,318.36 189.50,318.41 189.75,318.38 190.00,318.35 190.25,318.32 190.50,318.29 190.75,318.27 191.00,318.24 191.25,318.22 191.50,318.20 191.75,318.18 192.00,318.16 192.25,318.14 192.50,318.12 192.75,318.17 193.00,318.22 193.25,318.27 193.50,318.33 193.75,318.38 194.00,318.43 194.25,318.37 194.50,318.31 194.75,318.25 195.00,318.19 195.25,318.14 195.50,318.08 195.75,318.12 196.00,318.17 196.25,318.21 196.50,318.26 196.75,318.31 197.00,318.35 197.25,318.31 197.50,318.28 197.75,318.24 198.00,318.20 198.25,318.16 198.50,318.13 198.75,318.15 199.00,318.17 199.25,318.20 199.50,318.22 199.75,318.24 200.00,318.27 200.25,318.23 200.50,318.18 200.75,318.14 201.00,318.10 201.25,318.06 201.50,318.01 201.75,318.02 202.00,318.03 202.25,318.04 202.50,318.05 202.75,318.06 203.00,318.07 203.25,318.12 203.50,318.17 203.75,318.22 204.00,318.26 204.25,318.31 204.50,318.36 204.75,318.34 205.00,318.32 205.25,318.29 205.50,318.27 205.75,318.25 206.00,318.23 206.25,318.22 206.50,318.22 206.75,318.22 207.00,318.21 207.25,318.21 207.50,318.21 207.75,318.19 208.00,318.18 208.25,318.17 208.50,318.16 208.75,318.15 209.00,318.13 209.25,318.16 209.50,318.18 209.75,318.20 210.00,318.22 210.25,318.24 210.50,318.27 210.75,318.22 211.00,318.17 211.25,318.13 211.50,318.08 211.75,318.04 212.00,317.99 212.25,318.00 212.50,318.00 212.75,318.01 213.00,318.02 213.25,318.03 213.50,318.03 213.75,318.06 214.00,318.08 214.25,318.10 214.50,318.13 214.75,318.15 215.00,318.18 215.25,318.16 215.50,318.14 215.75,318.13 216.00,318.11 216.25,318.09 216.50,318.07 216.75,318.08 217.00,318.08 217.25,318.08 217.50,318.09 217.75,318.09 218.00,318.09 218.25,318.11 218.50,318.13 218.75,318.14 219.00,318.16 219.25,318.17 219.50,318.19 219.75,318.19 220.00,318.19 220.25,318.18 220.50,318.18 220.75,318.18 221.00,318.18 221.25,318.18 221.50,318.18 221.75,318.17 222.00,318.17 222.25,318.17 222.50,318.17 222.75,318.21 223.00,318.26 223.25,318.31 223.50,318.36 223.75,318.40 224.00,318.45 224.25,318.43 224.50,318.42 224.75,318.40 225.00,318.38 225.25,318.37 225.50,318.35 225.75,318.36 226.00,318.36 226.25,318.37 226.50,318.37 226.75,318.38 227.00,318.38 227.25,318.35 227.50,318.32 227.75,318.29 228.00,318.26 228.25,318.23 228.50,318.20 228.75,318.18 229.00,318.17 229.25,318.16 229.50,318.15 229.75,318.14 230.00,318.12 230.25,318.10 230.50,318.08 230.75,318.05 231.00,318.03 231.25,318.01 231.50,317.98 231.75,318.01 232.00,318.04 232.25,318.06 232.50,318.09" fill="none" stroke="#ff8c14" stroke-width="1.5" stroke-linejoin="round"/>
<polyline clip-path="url(#cd)" points="254.80,289.90 255.05,289.96 255.30,290.03 255.55,290.10 255.80,290.17 256.05,290.24 256.30,290.31 256.55,290.37 256.80,290.41 257.05,290.46 257.30,290.50 257.55,290.54 257.80,290.58 258.05,290.63 258.30,290.63 258.55,290.60 258.80,290.56 259.05,290.52 259.30,290.49 259.55,290.45 259.80,290.41 260.05,290.34 260.30,290.24 260.55,290.14 260.80,290.04 261.05,289.95 261.30,289.85 261.55,289.75 261.80,289.78 262.05,289.85 262.30,289.91 262.55,289.97 262.80,290.04 263.05,290.10 263.30,290.17 263.55,290.09 263.80,290.02 264.05,289.95 264.30,289.88 264.55,289.80 264.80,289.73 265.05,289.69 265.30,289.76 265.55,289.84 265.80,289.91 266.05,289.99 266.30,290.07 266.55,290.14 266.80,290.16 267.05,290.11 267.30,290.05 267.55,289.99 267.80,289.94 268.05,289.88 268.30,289.82 268.55,289.82 268.80,289.86 269.05,289.90 269.30,289.94 269.55,289.99 269.80,290.03 270.05,290.07 270.30,290.14 270.55,290.21 270.80,290.29 271.05,290.37 271.30,290.45 271.55,290.52 271.80,290.60 272.05,290.51 272.30,290.41 272.55,290.31 272.80,290.22 273.05,290.12 273.30,290.02 273.55,289.96 273.80,290.02 274.05,290.08 274.30,290.14 274.55,290.20 274.80,290.26 275.05,290.32 275.30,290.31 275.55,290.18 275.80,290.06 276.05,289.93 276.30,289.81 276.55,289.68 276.80,289.56 277.05,289.48 277.30,289.43 277.55,289.38 277.80,289.33 278.05,289.28 278.30,289.23 278.55,289.18 278.80,289.22 279.05,289.27 279.30,289.33 279.55,289.38 279.80,289.44 280.05,289.49 280.30,289.54 280.55,289.53 280.80,289.51 281.05,289.49 281.30,289.47 281.55,289.45 281.80,289.43 282.05,289.38 282.30,289.22 282.55,289.05 282.80,288.88 283.05,288.72 283.30,288.55 283.55,288.39 283.80,288.28 284.05,288.25 284.30,288.21 284.55,288.18 284.80,288.15 285.05,288.11 285.30,288.08 285.55,287.98 285.80,287.74 286.05,287.51 286.30,287.27 286.55,287.03 286.80,286.79 287.05,286.56 287.30,286.43 287.55,286.28 287.80,286.12 288.05,285.97 288.30,285.82 288.55,285.67 288.80,285.51 289.05,285.29 289.30,284.82 289.55,284.35 289.80,283.87 290.05,283.40 290.30,282.93 290.55,282.43 290.80,281.55 291.05,280.02 291.30,278.48 291.55,276.95 291.80,275.42 292.05,273.88 292.30,272.36 292.55,270.28 292.80,267.48 293.05,264.68 293.30,261.88 293.55,259.08 293.80,256.28 294.05,253.46 294.30,250.43 294.55,247.22 294.80,244.01 295.05,240.80 295.30,237.60 295.55,234.39 295.80,231.29 296.05,229.38 296.30,228.02 296.55,226.66 296.80,225.30 297.05,223.93 297.30,222.57 297.55,221.14 297.80,222.04 298.05,223.51 298.30,224.99 298.55,226.47 298.80,227.94 299.05,229.41 299.30,230.86 299.55,233.88 299.80,237.04 300.05,240.20 300.30,243.36 300.55,246.51 300.80,249.67 301.05,252.81 301.30,255.57 301.55,258.33 301.80,261.10 302.05,263.86 302.30,266.62 302.55,269.35 302.80,271.85 303.05,273.25 303.30,274.66 303.55,276.07 303.80,277.48 304.05,278.88 304.30,280.48 304.55,281.85 304.80,282.54 305.05,283.22 305.30,283.91 305.55,284.59 305.80,285.28 306.05,285.71 306.30,285.99 306.55,286.03 306.80,286.06 307.05,286.10 307.30,286.13 307.55,286.19 307.80,286.31 308.05,286.38 308.30,286.40 308.55,286.41 308.80,286.43 309.05,286.44 309.30,286.48 309.55,286.55 309.80,286.60 310.05,286.65 310.30,286.69 310.55,286.74 310.80,286.79 311.05,286.72 311.30,286.57 311.55,286.42 311.80,286.27 312.05,286.12 312.30,285.97 312.55,285.82 312.80,285.87 313.05,285.98 313.30,286.09 313.55,286.19 313.80,286.30 314.05,286.41 314.30,286.51 314.55,286.51 314.80,286.50 315.05,286.50 315.30,286.49 315.55,286.48 315.80,286.48 316.05,286.48 316.30,286.50 316.55,286.53 316.80,286.55 317.05,286.57 317.30,286.60 317.55,286.62 317.80,286.65 318.05,286.70 318.30,286.75 318.55,286.79 318.80,286.84 319.05,286.88 319.30,286.93 319.55,286.92 319.80,286.87 320.05,286.82 320.30,286.76 320.55,286.71 320.80,286.66 321.05,286.61 321.30,286.50 321.55,286.37 321.80,286.25 322.05,286.12 322.30,285.99 322.55,285.86 322.80,285.74 323.05,285.80 323.30,285.87 323.55,285.94 323.80,286.01 324.05,286.07 324.30,286.14 324.55,286.19 324.80,286.21 325.05,286.23 325.30,286.24 325.55,286.26 325.80,286.28 326.05,286.29 326.30,286.29 326.55,286.28 326.80,286.26 327.05,286.25 327.30,286.23 327.55,286.21 327.80,286.20 328.05,286.14 328.30,286.05 328.55,285.96 328.80,285.87 329.05,285.78 329.30,285.69 329.55,285.61 329.80,285.56 330.05,285.52 330.30,285.49 330.55,285.45 330.80,285.42 331.05,285.38 331.30,285.34 331.55,285.44 331.80,285.54 332.05,285.63 332.30,285.73 332.55,285.82 332.80,285.92 333.05,285.99 333.30,285.96 333.55,285.93 333.80,285.90 334.05,285.87 334.30,285.84 334.55,285.81 334.80,285.78 335.05,285.74 335.30,285.70 335.55,285.66 335.80,285.62 336.05,285.59 336.30,285.55 336.55,285.47 336.80,285.36 337.05,285.25 337.30,285.14 337.55,285.03 337.80,284.92 338.05,284.81 338.30,284.92 338.55,285.08 338.80,285.23 339.05,285.39 339.30,285.55 339.55,285.71 339.80,285.87 340.05,285.60 340.30,285.34" fill="none" stroke="#0d49b2" stroke-width="1.5" stroke-linejoin="round"/>
<polyline clip-path="url(#cd)" points="254.80,287.13 255.05,286.99 255.30,286.85 255.55,286.70 255.80,286.56 256.05,286.42 256.30,286.28 256.55,286.16 256.80,286.15 257.05,286.14 257.30,286.13 257.55,286.12 257.80,286.11 258.05,286.10 258.30,286.05 258.55,285.95 258.80,285.84 259.05,285.74 259.30,285.63 259.55,285.53 259.80,285.42 260.05,285.44 260.30,285.53 260.55,285.63 260.80,285.72 261.05,285.82 261.30,285.91 261.55,286.01 261.80,285.89 262.05,285.71 262.30,285.54 262.55,285.37 262.80,285.19 263.05,285.02 263.30,284.84 263.55,284.88 263.80,284.92 264.05,284.96 264.30,285.00 264.55,285.04 264.80,285.08 265.05,285.11 265.30,285.06 265.55,285.01 265.80,284.96 266.05,284.91 266.30,284.87 266.55,284.82 266.80,284.75 267.05,284.64 267.30,284.54 267.55,284.43 267.80,284.33 268.05,284.23 268.30,284.12 268.55,284.11 268.80,284.17 269.05,284.22 269.30,284.28 269.55,284.33 269.80,284.38 270.05,284.44 270.30,284.32 270.55,284.15 270.80,283.99 271.05,283.82 271.30,283.66 271.55,283.49 271.80,283.33 272.05,283.32 272.30,283.31 272.55,283.29 272.80,283.28 273.05,283.27 273.30,283.26 273.55,283.25 273.80,283.24 274.05,283.22 274.30,283.21 274.55,283.19 274.80,283.17 275.05,283.16 275.30,283.12 275.55,283.05 275.80,282.98 276.05,282.91 276.30,282.84 276.55,282.77 276.80,282.70 277.05,282.66 277.30,282.65 277.55,282.64 277.80,282.62 278.05,282.61 278.30,282.60 278.55,282.59 278.80,282.56 279.05,282.52 279.30,282.48 279.55,282.44 279.80,282.40 280.05,282.36 280.30,282.32 280.55,282.19 280.80,282.06 281.05,281.93 281.30,281.80 281.55,281.67 281.80,281.55 282.05,281.43 282.30,281.35 282.55,281.26 282.80,281.18 283.05,281.10 283.30,281.02 283.55,280.94 283.80,280.86 284.05,280.79 284.30,280.73 284.55,280.66 284.80,280.59 285.05,280.52 285.30,280.45 285.55,280.39 285.80,280.32 286.05,280.26 286.30,280.19 286.55,280.13 286.80,280.07 287.05,280.00 287.30,279.98 287.55,279.95 287.80,279.92 288.05,279.89 288.30,279.87 288.55,279.84 288.80,279.81 289.05,279.66 289.30,279.45 289.55,279.24 289.80,279.04 290.05,278.83 290.30,278.62 290.55,278.44 290.80,278.26 291.05,277.98 291.30,277.69 291.55,277.40 291.80,277.12 292.05,276.83 292.30,276.52 292.55,276.07 292.80,275.49 293.05,274.90 293.30,274.32 293.55,273.73 293.80,273.15 294.05,272.56 294.30,271.89 294.55,271.18 294.80,270.46 295.05,269.74 295.30,269.03 295.55,268.31 295.80,267.70 296.05,267.27 296.30,266.92 296.55,266.58 296.80,266.23 297.05,265.88 297.30,265.53 297.55,265.00 297.80,264.88 298.05,264.88 298.30,264.87 298.55,264.86 298.80,264.86 299.05,264.88 299.30,265.03 299.55,265.55 299.80,266.11 300.05,266.66 300.30,267.22 300.55,267.77 300.80,268.34 301.05,268.92 301.30,269.53 301.55,270.14 301.80,270.75 302.05,271.36 302.30,271.97 302.55,272.45 302.80,272.82 303.05,273.00 303.30,273.19 303.55,273.37 303.80,273.55 304.05,273.74 304.30,274.07 304.55,274.38 304.80,274.54 305.05,274.70 305.30,274.86 305.55,275.03 305.80,275.19 306.05,275.21 306.30,275.20 306.55,275.12 306.80,275.04 307.05,274.96 307.30,274.88 307.55,274.83 307.80,274.89 308.05,274.93 308.30,274.95 308.55,274.97 308.80,274.99 309.05,275.01 309.30,274.99 309.55,274.90 309.80,274.81 310.05,274.72 310.30,274.63 310.55,274.53 310.80,274.44 311.05,274.41 311.30,274.43 311.55,274.44 311.80,274.46 312.05,274.47 312.30,274.49 312.55,274.50 312.80,274.46 313.05,274.41 313.30,274.36 313.55,274.30 313.80,274.25 314.05,274.19 314.30,274.14 314.55,274.13 314.80,274.12 315.05,274.10 315.30,274.09 315.55,274.07 315.80,274.06 316.05,274.06 316.30,274.08 316.55,274.11 316.80,274.13 317.05,274.15 317.30,274.18 317.55,274.20 317.80,274.17 318.05,274.05 318.30,273.93 318.55,273.81 318.80,273.69 319.05,273.57 319.30,273.44 319.55,273.38 319.80,273.34 320.05,273.31 320.30,273.27 320.55,273.23 320.80,273.20 321.05,273.16 321.30,273.08 321.55,272.99 321.80,272.89 322.05,272.80 322.30,272.70 322.55,272.61 322.80,272.52 323.05,272.45 323.30,272.38 323.55,272.31 323.80,272.24 324.05,272.17 324.30,272.11 324.55,272.03 324.80,271.94 325.05,271.85 325.30,271.76 325.55,271.67 325.80,271.58 326.05,271.49 326.30,271.39 326.55,271.28 326.80,271.17 327.05,271.06 327.30,270.94 327.55,270.83 327.80,270.72 328.05,270.69 328.30,270.73 328.55,270.76 328.80,270.79 329.05,270.83 329.30,270.86 329.55,270.89 329.80,270.91 330.05,270.93 330.30,270.94 330.55,270.96 330.80,270.97 331.05,270.99 331.30,271.00 331.55,270.87 331.80,270.75 332.05,270.62 332.30,270.50 332.55,270.37 332.80,270.24 333.05,270.12 333.30,270.00 333.55,269.88 333.80,269.76 334.05,269.64 334.30,269.52 334.55,269.40 334.80,269.34 335.05,269.38 335.30,269.43 335.55,269.47 335.80,269.51 336.05,269.55 336.30,269.59 336.55,269.50 336.80,269.33 337.05,269.15 337.30,268.97 337.55,268.79 337.80,268.61 338.05,268.43 338.30,268.33 338.55,268.25 338.80,268.16 339.05,268.08 339.30,268.00 339.55,267.91 339.80,267.83 340.05,267.73 340.30,267.62" fill="none" stroke="#178b3e" stroke-width="1.5" stroke-linejoin="round"/>
<polyline clip-path="url(#cd)" points="254.80,282.21 255.05,282.30 255.30,282.39 255.55,282.48 255.80,282.57 256.05,282.66 256.30,282.75 256.55,282.80 256.80,282.65 257.05,282.51 257.30,282.37 257.55,282.23 257.80,282.09 258.05,281.94 258.30,281.83 258.55,281.76 258.80,281.68 259.05,281.61 259.30,281.53 259.55,281.46 259.80,281.39 260.05,281.35 260.30,281.34 260.55,281.33 260.80,281.31 261.05,281.30 261.30,281.29 261.55,281.28 261.80,281.26 262.05,281.25 262.30,281.23 262.55,281.21 262.80,281.20 263.05,281.18 263.30,281.16 263.55,281.05 263.80,280.93 264.05,280.82 264.30,280.70 264.55,280.59 264.80,280.47 265.05,280.39 265.30,280.45 265.55,280.50 265.80,280.56 266.05,280.61 266.30,280.66 266.55,280.72 266.80,280.75 267.05,280.73 267.30,280.72 267.55,280.71 267.80,280.69 268.05,280.68 268.30,280.67 268.55,280.63 268.80,280.56 269.05,280.50 269.30,280.43 269.55,280.37 269.80,280.31 270.05,280.24 270.30,280.21 270.55,280.17 270.80,280.14 271.05,280.11 271.30,280.08 271.55,280.05 271.80,280.02 272.05,279.87 272.30,279.73 272.55,279.58 272.80,279.44 273.05,279.30 273.30,279.15 273.55,279.02 273.80,278.95 274.05,278.88 274.30,278.81 274.55,278.74 274.80,278.67 275.05,278.60 275.30,278.60 275.55,278.71 275.80,278.81 276.05,278.91 276.30,279.02 276.55,279.12 276.80,279.22 277.05,279.23 277.30,279.16 277.55,279.09 277.80,279.02 278.05,278.96 278.30,278.89 278.55,278.82 278.80,278.65 279.05,278.46 279.30,278.26 279.55,278.06 279.80,277.86 280.05,277.66 280.30,277.46 280.55,277.49 280.80,277.51 281.05,277.53 281.30,277.55 281.55,277.58 281.80,277.60 282.05,277.60 282.30,277.52 282.55,277.44 282.80,277.36 283.05,277.28 283.30,277.20 283.55,277.12 283.80,277.05 284.05,277.01 284.30,276.96 284.55,276.91 284.80,276.87 285.05,276.82 285.30,276.78 285.55,276.70 285.80,276.61 286.05,276.52 286.30,276.43 286.55,276.34 286.80,276.24 287.05,276.15 287.30,276.04 287.55,275.93 287.80,275.82 288.05,275.71 288.30,275.60 288.55,275.49 288.80,275.38 289.05,275.34 289.30,275.30 289.55,275.27 289.80,275.23 290.05,275.19 290.30,275.16 290.55,275.11 290.80,275.04 291.05,274.97 291.30,274.89 291.55,274.82 291.80,274.75 292.05,274.68 292.30,274.60 292.55,274.52 292.80,274.44 293.05,274.37 293.30,274.29 293.55,274.21 293.80,274.14 294.05,274.01 294.30,273.85 294.55,273.70 294.80,273.54 295.05,273.39 295.30,273.23 295.55,273.08 295.80,272.95 296.05,272.84 296.30,272.72 296.55,272.60 296.80,272.49 297.05,272.37 297.30,272.26 297.55,272.31 297.80,272.37 298.05,272.43 298.30,272.49 298.55,272.55 298.80,272.61 299.05,272.64 299.30,272.55 299.55,272.45 299.80,272.36 300.05,272.26 300.30,272.17 300.55,272.07 300.80,272.04 301.05,272.08 301.30,272.13 301.55,272.18 301.80,272.23 302.05,272.28 302.30,272.33 302.55,272.33 302.80,272.30 303.05,272.28 303.30,272.26 303.55,272.23 303.80,272.21 304.05,272.19 304.30,272.13 304.55,272.06 304.80,271.99 305.05,271.92 305.30,271.85 305.55,271.78 305.80,271.71 306.05,271.63 306.30,271.55 306.55,271.47 306.80,271.39 307.05,271.31 307.30,271.23 307.55,271.16 307.80,271.14 308.05,271.11 308.30,271.09 308.55,271.06 308.80,271.04 309.05,271.01 309.30,271.00 309.55,271.01 309.80,271.02 310.05,271.03 310.30,271.04 310.55,271.04 310.80,271.05 311.05,270.97 311.30,270.82 311.55,270.67 311.80,270.53 312.05,270.38 312.30,270.23 312.55,270.08 312.80,270.08 313.05,270.11 313.30,270.15 313.55,270.18 313.80,270.21 314.05,270.24 314.30,270.27 314.55,270.21 314.80,270.14 315.05,270.08 315.30,270.01 315.55,269.94 315.80,269.87 316.05,269.80 316.30,269.73 316.55,269.65 316.80,269.56 317.05,269.48 317.30,269.40 317.55,269.31 317.80,269.26 318.05,269.26 318.30,269.26 318.55,269.26 318.80,269.26 319.05,269.26 319.30,269.25 319.55,269.15 319.80,268.97 320.05,268.80 320.30,268.62 320.55,268.44 320.80,268.26 321.05,268.08 321.30,268.06 321.55,268.08 321.80,268.10 322.05,268.11 322.30,268.13 322.55,268.15 322.80,268.16 323.05,268.00 323.30,267.83 323.55,267.66 323.80,267.49 324.05,267.33 324.30,267.16 324.55,267.01 324.80,266.95 325.05,266.88 325.30,266.82 325.55,266.75 325.80,266.68 326.05,266.62 326.30,266.54 326.55,266.45 326.80,266.36 327.05,266.27 327.30,266.18 327.55,266.09 327.80,265.99 328.05,265.96 328.30,265.96 328.55,265.96 328.80,265.96 329.05,265.95 329.30,265.95 329.55,265.95 329.80,265.83 330.05,265.68 330.30,265.53 330.55,265.37 330.80,265.22 331.05,265.07 331.30,264.91 331.55,264.88 331.80,264.85 332.05,264.82 332.30,264.79 332.55,264.76 332.80,264.72 333.05,264.67 333.30,264.52 333.55,264.38 333.80,264.23 334.05,264.08 334.30,263.94 334.55,263.79 334.80,263.71 335.05,263.74 335.30,263.77 335.55,263.79 335.80,263.82 336.05,263.84 336.30,263.87 336.55,263.85 336.80,263.80 337.05,263.75 337.30,263.70 337.55,263.65 337.80,263.60 338.05,263.55 338.30,263.40 338.55,263.23 338.80,263.06 339.05,262.89 339.30,262.71 339.55,262.54 339.80,262.36 340.05,262.34 340.30,262.32" fill="none" stroke="#5fbe14" stroke-width="1.5" stroke-linejoin="round"/>
<polyline clip-path="url(#cd)" points="254.80,309.76 255.05,309.64 255.30,309.52 255.55,309.40 255.80,309.28 256.05,309.16 256.30,309.04 256.55,308.92 256.80,308.82 257.05,308.72 257.30,308.62 257.55,308.52 257.80,308.42 258.05,308.32 258.30,308.31 258.55,308.45 258.80,308.60 259.05,308.74 259.30,308.88 259.55,309.02 259.80,309.17 260.05,309.16 260.30,309.06 260.55,308.96 260.80,308.86 261.05,308.77 261.30,308.67 261.55,308.57 261.80,308.50 262.05,308.43 262.30,308.37 262.55,308.31 262.80,308.24 263.05,308.18 263.30,308.11 263.55,308.12 263.80,308.12 264.05,308.12 264.30,308.12 264.55,308.12 264.80,308.13 265.05,308.11 265.30,308.05 265.55,307.98 265.80,307.91 266.05,307.84 266.30,307.78 266.55,307.71 266.80,307.69 267.05,307.75 267.30,307.80 267.55,307.86 267.80,307.91 268.05,307.97 268.30,308.03 268.55,308.01 268.80,307.95 269.05,307.88 269.30,307.81 269.55,307.75 269.80,307.68 270.05,307.62 270.30,307.69 270.55,307.81 270.80,307.92 271.05,308.03 271.30,308.14 271.55,308.25 271.80,308.36 272.05,308.30 272.30,308.24 272.55,308.18 272.80,308.11 273.05,308.05 273.30,307.99 273.55,307.91 273.80,307.77 274.05,307.63 274.30,307.49 274.55,307.35 274.80,307.21 275.05,307.07 275.30,306.98 275.55,306.97 275.80,306.95 276.05,306.94 276.30,306.93 276.55,306.91 276.80,306.90 277.05,306.91 277.30,306.94 277.55,306.97 277.80,306.99 278.05,307.02 278.30,307.05 278.55,307.08 278.80,307.01 279.05,306.92 279.30,306.83 279.55,306.73 279.80,306.64 280.05,306.55 280.30,306.46 280.55,306.53 280.80,306.60 281.05,306.68 281.30,306.75 281.55,306.82 281.80,306.89 282.05,306.94 282.30,306.92 282.55,306.91 282.80,306.89 283.05,306.87 283.30,306.85 283.55,306.83 283.80,306.79 284.05,306.73 284.30,306.67 284.55,306.61 284.80,306.55 285.05,306.49 285.30,306.43 285.55,306.40 285.80,306.38 286.05,306.37 286.30,306.36 286.55,306.35 286.80,306.33 287.05,306.32 287.30,306.34 287.55,306.37 287.80,306.40 288.05,306.43 288.30,306.45 288.55,306.48 288.80,306.51 289.05,306.53 289.30,306.55 289.55,306.57 289.80,306.59 290.05,306.61 290.30,306.63 290.55,306.65 290.80,306.62 291.05,306.60 291.30,306.57 291.55,306.55 291.80,306.52 292.05,306.50 292.30,306.44 292.55,306.34 292.80,306.23 293.05,306.12 293.30,306.02 293.55,305.91 293.80,305.81 294.05,305.77 294.30,305.78 294.55,305.79 294.80,305.80 295.05,305.81 295.30,305.82 295.55,305.83 295.80,305.74 296.05,305.63 296.30,305.51 296.55,305.39 296.80,305.27 297.05,305.16 297.30,305.04 297.55,305.07 297.80,305.09 298.05,305.11 298.30,305.13 298.55,305.15 298.80,305.17 299.05,305.17 299.30,305.06 299.55,304.95 299.80,304.84 300.05,304.72 300.30,304.61 300.55,304.50 300.80,304.45 301.05,304.49 301.30,304.53 301.55,304.57 301.80,304.61 302.05,304.65 302.30,304.69 302.55,304.62 302.80,304.47 303.05,304.32 303.30,304.17 303.55,304.02 303.80,303.87 304.05,303.71 304.30,303.65 304.55,303.62 304.80,303.58 305.05,303.54 305.30,303.50 305.55,303.45 305.80,303.41 306.05,303.41 306.30,303.40 306.55,303.39 306.80,303.39 307.05,303.38 307.30,303.37 307.55,303.36 307.80,303.33 308.05,303.30 308.30,303.26 308.55,303.23 308.80,303.20 309.05,303.17 309.30,303.08 309.55,302.92 309.80,302.75 310.05,302.59 310.30,302.42 310.55,302.25 310.80,302.08 311.05,302.01 311.30,301.99 311.55,301.97 311.80,301.95 312.05,301.93 312.30,301.91 312.55,301.89 312.80,301.86 313.05,301.82 313.30,301.79 313.55,301.75 313.80,301.72 314.05,301.68 314.30,301.65 314.55,301.58 314.80,301.52 315.05,301.45 315.30,301.38 315.55,301.32 315.80,301.25 316.05,301.17 316.30,301.04 316.55,300.92 316.80,300.79 317.05,300.66 317.30,300.53 317.55,300.40 317.80,300.31 318.05,300.29 318.30,300.26 318.55,300.23 318.80,300.20 319.05,300.18 319.30,300.15 319.55,300.08 319.80,299.99 320.05,299.89 320.30,299.79 320.55,299.70 320.80,299.60 321.05,299.51 321.30,299.49 321.55,299.50 321.80,299.51 322.05,299.51 322.30,299.52 322.55,299.53 322.80,299.53 323.05,299.41 323.30,299.28 323.55,299.15 323.80,299.02 324.05,298.89 324.30,298.76 324.55,298.62 324.80,298.44 325.05,298.26 325.30,298.07 325.55,297.88 325.80,297.69 326.05,297.50 326.30,297.33 326.55,297.19 326.80,297.06 327.05,296.92 327.30,296.77 327.55,296.63 327.80,296.49 328.05,296.44 328.30,296.46 328.55,296.48 328.80,296.50 329.05,296.52 329.30,296.53 329.55,296.55 329.80,296.51 330.05,296.47 330.30,296.42 330.55,296.37 330.80,296.32 331.05,296.26 331.30,296.21 331.55,296.05 331.80,295.90 332.05,295.74 332.30,295.57 332.55,295.41 332.80,295.25 333.05,295.10 333.30,295.03 333.55,294.95 333.80,294.88 334.05,294.80 334.30,294.72 334.55,294.64 334.80,294.52 335.05,294.33 335.30,294.15 335.55,293.96 335.80,293.77 336.05,293.59 336.30,293.40 336.55,293.22 336.80,293.06 337.05,292.90 337.30,292.73 337.55,292.57 337.80,292.40 338.05,292.23 338.30,292.19 338.55,292.18 338.80,292.17 339.05,292.15 339.30,292.14 339.55,292.12 339.80,292.11 340.05,291.95 340.30,291.79" fill="none" stroke="#d01a1a" stroke-width="1.5" stroke-linejoin="round"/>
<polyline clip-path="url(#cd)" points="254.80,309.52 255.05,309.59 255.30,309.66 255.55,309.74 255.80,309.81 256.05,309.88 256.30,309.95 256.55,310.00 256.80,309.95 257.05,309.90 257.30,309.85 257.55,309.80 257.80,309.75 258.05,309.70 258.30,309.70 258.55,309.76 258.80,309.83 259.05,309.89 259.30,309.96 259.55,310.02 259.80,310.09 260.05,310.06 260.30,309.98 260.55,309.90 260.80,309.82 261.05,309.74 261.30,309.65 261.55,309.57 261.80,309.55 262.05,309.53 262.30,309.52 262.55,309.51 262.80,309.50 263.05,309.49 263.30,309.47 263.55,309.46 263.80,309.45 264.05,309.44 264.30,309.43 264.55,309.42 264.80,309.41 265.05,309.42 265.30,309.50 265.55,309.58 265.80,309.67 266.05,309.75 266.30,309.83 266.55,309.92 266.80,309.93 267.05,309.86 267.30,309.78 267.55,309.71 267.80,309.63 268.05,309.55 268.30,309.48 268.55,309.41 268.80,309.36 269.05,309.30 269.30,309.25 269.55,309.20 269.80,309.14 270.05,309.09 270.30,309.06 270.55,309.03 270.80,309.00 271.05,308.97 271.30,308.95 271.55,308.92 271.80,308.89 272.05,308.87 272.30,308.86 272.55,308.84 272.80,308.83 273.05,308.81 273.30,308.80 273.55,308.81 273.80,308.92 274.05,309.04 274.30,309.15 274.55,309.26 274.80,309.38 275.05,309.49 275.30,309.49 275.55,309.30 275.80,309.12 276.05,308.93 276.30,308.75 276.55,308.57 276.80,308.38 277.05,308.33 277.30,308.36 277.55,308.40 277.80,308.43 278.05,308.46 278.30,308.50 278.55,308.53 278.80,308.58 279.05,308.64 279.30,308.70 279.55,308.76 279.80,308.82 280.05,308.88 280.30,308.94 280.55,308.95 280.80,308.96 281.05,308.97 281.30,308.98 281.55,308.99 281.80,309.00 282.05,308.99 282.30,308.90 282.55,308.81 282.80,308.73 283.05,308.64 283.30,308.55 283.55,308.46 283.80,308.42 284.05,308.45 284.30,308.48 284.55,308.51 284.80,308.54 285.05,308.56 285.30,308.59 285.55,308.59 285.80,308.57 286.05,308.54 286.30,308.52 286.55,308.50 286.80,308.48 287.05,308.45 287.30,308.44 287.55,308.43 287.80,308.42 288.05,308.41 288.30,308.40 288.55,308.39 288.80,308.38 289.05,308.31 289.30,308.24 289.55,308.17 289.80,308.09 290.05,308.02 290.30,307.95 290.55,307.91 290.80,307.96 291.05,308.02 291.30,308.08 291.55,308.14 291.80,308.20 292.05,308.26 292.30,308.25 292.55,308.15 292.80,308.05 293.05,307.96 293.30,307.86 293.55,307.76 293.80,307.66 294.05,307.64 294.30,307.69 294.55,307.73 294.80,307.77 295.05,307.81 295.30,307.85 295.55,307.90 295.80,307.78 296.05,307.61 296.30,307.45 296.55,307.29 296.80,307.12 297.05,306.96 297.30,306.80 297.55,306.88 297.80,306.95 298.05,307.03 298.30,307.11 298.55,307.18 298.80,307.26 299.05,307.29 299.30,307.15 299.55,307.01 299.80,306.86 300.05,306.72 300.30,306.57 300.55,306.43 300.80,306.33 301.05,306.28 301.30,306.24 301.55,306.19 301.80,306.15 302.05,306.10 302.30,306.06 302.55,306.08 302.80,306.15 303.05,306.22 303.30,306.29 303.55,306.35 303.80,306.42 304.05,306.49 304.30,306.42 304.55,306.32 304.80,306.21 305.05,306.11 305.30,306.00 305.55,305.90 305.80,305.79 306.05,305.82 306.30,305.85 306.55,305.88 306.80,305.90 307.05,305.93 307.30,305.96 307.55,305.95 307.80,305.84 308.05,305.72 308.30,305.60 308.55,305.48 308.80,305.36 309.05,305.24 309.30,305.21 309.55,305.31 309.80,305.40 310.05,305.50 310.30,305.59 310.55,305.69 310.80,305.79 311.05,305.75 311.30,305.62 311.55,305.50 311.80,305.37 312.05,305.24 312.30,305.12 312.55,304.99 312.80,304.88 313.05,304.78 313.30,304.67 313.55,304.57 313.80,304.46 314.05,304.36 314.30,304.25 314.55,304.27 314.80,304.30 315.05,304.31 315.30,304.33 315.55,304.35 315.80,304.37 316.05,304.38 316.30,304.37 316.55,304.36 316.80,304.35 317.05,304.33 317.30,304.32 317.55,304.31 317.80,304.24 318.05,304.11 318.30,303.97 318.55,303.84 318.80,303.70 319.05,303.56 319.30,303.43 319.55,303.38 319.80,303.39 320.05,303.41 320.30,303.42 320.55,303.43 320.80,303.44 321.05,303.45 321.30,303.47 321.55,303.50 321.80,303.52 322.05,303.54 322.30,303.56 322.55,303.58 322.80,303.60 323.05,303.48 323.30,303.36 323.55,303.24 323.80,303.11 324.05,302.99 324.30,302.86 324.55,302.74 324.80,302.64 325.05,302.53 325.30,302.42 325.55,302.30 325.80,302.19 326.05,302.08 326.30,301.97 326.55,301.88 326.80,301.78 327.05,301.68 327.30,301.59 327.55,301.49 327.80,301.39 328.05,301.34 328.30,301.33 328.55,301.32 328.80,301.30 329.05,301.29 329.30,301.27 329.55,301.26 329.80,301.11 330.05,300.93 330.30,300.75 330.55,300.56 330.80,300.38 331.05,300.19 331.30,300.01 331.55,299.85 331.80,299.70 332.05,299.54 332.30,299.38 332.55,299.23 332.80,299.07 333.05,298.95 333.30,298.99 333.55,299.03 333.80,299.08 334.05,299.12 334.30,299.15 334.55,299.19 334.80,299.18 335.05,299.07 335.30,298.97 335.55,298.86 335.80,298.76 336.05,298.65 336.30,298.55 336.55,298.54 336.80,298.60 337.05,298.66 337.30,298.72 337.55,298.78 337.80,298.84 338.05,298.90 338.30,298.77 338.55,298.60 338.80,298.43 339.05,298.26 339.30,298.09 339.55,297.92 339.80,297.75 340.05,297.60 340.30,297.45" fill="none" stroke="#ff8c14" stroke-width="1.5" stroke-linejoin="round"/>
<path d="M40.30,168.00v-4.0M40.30,17.80v4.0M140.30,168.00v-4.0M140.30,17.80v4.0M240.30,168.00v-4.0M240.30,17.80v4.0M340.30,168.00v-4.0M340.30,17.80v4.0M90.30,168.00v-2.5M90.30,17.80v2.5M190.30,168.00v-2.5M190.30,17.80v2.5M290.30,168.00v-2.5M290.30,17.80v2.5M40.30,168.00h4.0M340.30,168.00h-4.0M40.30,130.45h4.0M340.30,130.45h-4.0M40.30,92.90h4.0M340.30,92.90h-4.0M40.30,55.35h4.0M340.30,55.35h-4.0M40.30,17.80h4.0M340.30,17.80h-4.0M40.30,149.22h2.5M340.30,149.22h-2.5M40.30,111.68h2.5M340.30,111.68h-2.5M40.30,74.12h2.5M340.30,74.12h-2.5M40.30,36.58h2.5M340.30,36.58h-2.5" stroke="#5a5a5a" stroke-width="1" fill="none"/>
<path d="M48.90,321.80v-4.0M48.90,194.10v4.0M82.90,321.80v-4.0M82.90,194.10v4.0M116.90,321.80v-4.0M116.90,194.10v4.0M65.90,321.80v-2.5M65.90,194.10v2.5M99.90,321.80v-2.5M99.90,194.10v2.5M40.40,321.80h4.0M125.40,321.80h-4.0M40.40,279.23h4.0M125.40,279.23h-4.0M40.40,236.67h4.0M125.40,236.67h-4.0M40.40,194.10h4.0M125.40,194.10h-4.0M40.40,300.52h2.5M125.40,300.52h-2.5M40.40,257.95h2.5M125.40,257.95h-2.5M40.40,215.38h2.5M125.40,215.38h-2.5" stroke="#5a5a5a" stroke-width="1" fill="none"/>
<path d="M175.87,321.80v-4.0M175.87,194.10v4.0M232.60,321.80v-4.0M232.60,194.10v4.0M147.50,321.80v-2.5M147.50,194.10v2.5M204.23,321.80v-2.5M204.23,194.10v2.5M147.50,321.80h4.0M232.60,321.80h-4.0M147.50,257.95h4.0M232.60,257.95h-4.0M147.50,194.10h4.0M232.60,194.10h-4.0M147.50,289.88h2.5M232.60,289.88h-2.5M147.50,226.03h2.5M232.60,226.03h-2.5" stroke="#5a5a5a" stroke-width="1" fill="none"/>
<path d="M271.90,321.80v-4.0M271.90,194.10v4.0M306.10,321.80v-4.0M306.10,194.10v4.0M340.30,321.80v-4.0M340.30,194.10v4.0M289.00,321.80v-2.5M289.00,194.10v2.5M323.20,321.80v-2.5M323.20,194.10v2.5M254.80,321.80h4.0M340.30,321.80h-4.0M254.80,279.23h4.0M340.30,279.23h-4.0M254.80,236.67h4.0M340.30,236.67h-4.0M254.80,194.10h4.0M340.30,194.10h-4.0M254.80,300.52h2.5M340.30,300.52h-2.5M254.80,257.95h2.5M340.30,257.95h-2.5M254.80,215.38h2.5M340.30,215.38h-2.5" stroke="#5a5a5a" stroke-width="1" fill="none"/>
<rect x="40.30" y="17.80" width="300.00" height="150.20" fill="none" stroke="#5a5a5a" stroke-width="1.3"/>
<rect x="40.40" y="194.10" width="85.00" height="127.70" fill="none" stroke="#5a5a5a" stroke-width="1.3"/>
<rect x="147.50" y="194.10" width="85.10" height="127.70" fill="none" stroke="#5a5a5a" stroke-width="1.3"/>
<rect x="254.80" y="194.10" width="85.50" height="127.70" fill="none" stroke="#5a5a5a" stroke-width="1.3"/>
<g font-size="10.5" fill="#1a1a1a"><text x="37.40" y="171.05" text-anchor="end">0.0</text>
<text x="37.40" y="133.50" text-anchor="end">0.4</text>
<text x="37.40" y="95.95" text-anchor="end">0.8</text>
<text x="37.40" y="58.40" text-anchor="end">1.2</text>
<text x="37.40" y="20.85" text-anchor="end">1.6</text>
<text x="36.90" y="324.85" text-anchor="end">0.02</text>
<text x="36.90" y="282.28" text-anchor="end">0.04</text>
<text x="36.90" y="239.72" text-anchor="end">0.06</text>
<text x="36.90" y="197.15" text-anchor="end">0.08</text>
<text x="144.90" y="324.85" text-anchor="end">0.0</text>
<text x="144.90" y="261.00" text-anchor="end">0.4</text>
<text x="144.90" y="197.15" text-anchor="end">0.8</text>
<text x="252.60" y="324.85" text-anchor="end">0.0</text>
<text x="252.60" y="282.28" text-anchor="end">0.1</text>
<text x="252.60" y="239.72" text-anchor="end">0.2</text>
<text x="252.60" y="197.15" text-anchor="end">0.3</text>
<text x="40.30" y="180.80" text-anchor="middle">5</text>
<text x="140.30" y="180.80" text-anchor="middle">10</text>
<text x="240.30" y="180.80" text-anchor="middle">15</text>
<text x="340.30" y="180.80" text-anchor="middle">20</text>
<text x="48.90" y="335.60" text-anchor="middle">12.0</text>
<text x="82.90" y="335.60" text-anchor="middle">12.4</text>
<text x="116.90" y="335.60" text-anchor="middle">12.8</text>
<text x="175.87" y="335.60" text-anchor="middle">12.9</text>
<text x="232.60" y="335.60" text-anchor="middle">13.0</text>
<text x="271.90" y="335.60" text-anchor="middle">14.1</text>
<text x="306.10" y="335.60" text-anchor="middle">14.2</text>
<text x="340.30" y="335.60" text-anchor="middle">14.3</text></g>
<g font-size="15" fill="#1a1a1a"><text x="44" y="12">a)</text><text x="43.6" y="190">b)</text><text x="150.0" y="190">c)</text><text x="257.0" y="190">d)</text></g>
<text transform="translate(10.8,179.7) rotate(-90)" font-size="13.7" text-anchor="middle" fill="#1a1a1a">Normalized Intensity</text>
<text x="192" y="352.3" font-size="13.8" text-anchor="middle" fill="#1a1a1a">2<tspan font-family="Liberation Serif">θ</tspan>(°), <tspan font-family="Liberation Serif">λ</tspan> = 0.62 Å</text>
<line x1="101.8" y1="27.40" x2="127.2" y2="27.40" stroke="#0d49b2" stroke-width="1.5"/>
<text x="130.6" y="31.40" fill="#0d49b2" font-weight="bold" font-size="10.3"><tspan font-style="italic">T</tspan><tspan dx="-2"> =</tspan><tspan dx="0.5"> 400</tspan><tspan dx="0.5"> °C</tspan><tspan dx="0.3"> </tspan><tspan font-style="italic">t</tspan><tspan dx="0.25"> =</tspan><tspan dx="1.2"> 1</tspan><tspan dx="-0.95"> h</tspan></text>
<line x1="101.8" y1="40.85" x2="127.2" y2="40.85" stroke="#178b3e" stroke-width="1.5"/>
<text x="130.6" y="44.85" fill="#178b3e" font-weight="bold" font-size="10.3"><tspan font-style="italic">T</tspan><tspan dx="-2"> =</tspan><tspan dx="0.5"> 500</tspan><tspan dx="0.5"> °C</tspan><tspan dx="0.3"> </tspan><tspan font-style="italic">t</tspan><tspan dx="0.25"> =</tspan><tspan dx="1.2"> 1</tspan><tspan dx="-0.95"> h</tspan></text>
<line x1="101.8" y1="54.30" x2="127.2" y2="54.30" stroke="#5fbe14" stroke-width="1.5"/>
<text x="130.6" y="58.30" fill="#5fbe14" font-weight="bold" font-size="10.3"><tspan font-style="italic">T</tspan><tspan dx="-2"> =</tspan><tspan dx="0.5"> 500</tspan><tspan dx="0.5"> °C</tspan><tspan dx="0.3"> </tspan><tspan font-style="italic">t</tspan><tspan dx="0.25"> =</tspan><tspan dx="1.2"> 2</tspan><tspan dx="-0.95"> h</tspan></text>
<line x1="101.8" y1="67.75" x2="127.2" y2="67.75" stroke="#d01a1a" stroke-width="1.5"/>
<text x="130.6" y="71.75" fill="#d01a1a" font-weight="bold" font-size="10.3"><tspan font-style="italic">T</tspan><tspan dx="-2"> =</tspan><tspan dx="0.5"> 600</tspan><tspan dx="0.5"> °C</tspan><tspan dx="0.3"> </tspan><tspan font-style="italic">t</tspan><tspan dx="0.25"> =</tspan><tspan dx="1.2"> 1</tspan><tspan dx="-0.95"> h</tspan></text>
<line x1="101.8" y1="81.20" x2="127.2" y2="81.20" stroke="#ff8c14" stroke-width="1.5"/>
<text x="130.6" y="85.20" fill="#ff8c14" font-weight="bold" font-size="10.3"><tspan font-style="italic">T</tspan><tspan dx="-2"> =</tspan><tspan dx="0.5"> 600</tspan><tspan dx="0.5"> °C</tspan><tspan dx="0.3"> </tspan><tspan font-style="italic">t</tspan><tspan dx="0.25"> =</tspan><tspan dx="1.2"> 2</tspan><tspan dx="-0.95"> h</tspan></text>
<circle cx="115.25" cy="93.65" r="2.4" fill="none" stroke="#111" stroke-width="1.1"/>
<path d="M115.05,103.05Q116.37,104.73 117.25,107.05Q116.37,109.37 115.05,111.05Q113.73,109.37 112.85,107.05Q113.73,104.73 115.05,103.05Z" fill="none" stroke="#111" stroke-width="1.0"/>
<text x="130.4" y="97.9" font-size="10.8" fill="#1a1a1a">LiOH</text>
<text x="130.4" y="111.6" font-size="10.8" fill="#1a1a1a">Li<tspan font-size="7.6" dy="2.7">2</tspan><tspan dy="-2.7">CO</tspan><tspan font-size="7.6" dy="2.7">3</tspan></text>
<circle cx="103.9" cy="127.45" r="2.45" fill="none" stroke="#111" stroke-width="1.1"/>
<circle cx="198.9" cy="102.0" r="2.45" fill="none" stroke="#111" stroke-width="1.1"/>
<circle cx="223.8" cy="138.4" r="2.45" fill="none" stroke="#111" stroke-width="1.1"/>
<circle cx="267.9" cy="155.7" r="2.45" fill="none" stroke="#111" stroke-width="1.1"/>
<circle cx="325.8" cy="155.0" r="2.45" fill="none" stroke="#111" stroke-width="1.1"/>
<circle cx="197.9" cy="212.1" r="2.45" fill="none" stroke="#111" stroke-width="1.1"/>
<circle cx="297.8" cy="211.8" r="2.45" fill="none" stroke="#111" stroke-width="1.1"/>
<path d="M64.0,209.9Q65.38,211.58 66.3,213.9Q65.38,216.22 64.0,217.9Q62.62,216.22 61.7,213.9Q62.62,211.58 64.0,209.9Z" fill="none" stroke="#111" stroke-width="1.0"/>
<path d="M101.9,209.9Q103.28,211.58 104.2,213.9Q103.28,216.22 101.9,217.9Q100.52,216.22 99.60000000000001,213.9Q100.52,211.58 101.9,209.9Z" fill="none" stroke="#111" stroke-width="1.0"/>
<text transform="translate(93.55,70.95) rotate(-90)" font-size="10.3" font-weight="bold" fill="#1a1a1a">003<tspan font-size="7" dx="0.7" dy="2.6">R</tspan></text>
<text transform="translate(232.45,133.6) rotate(-90)" font-size="10.3" font-weight="bold" fill="#1a1a1a">101<tspan font-size="7" dx="0.7" dy="2.6">R</tspan></text>
<text transform="translate(324.95,150.95) rotate(-90)" font-size="10.3" font-weight="bold" fill="#1a1a1a">015<tspan font-size="7" dx="0.7" dy="2.6">R</tspan></text>
<text transform="translate(234.65,95.95) rotate(-90)" font-size="10.3" font-weight="bold" fill="#1a1a1a">006<tspan font-size="7" dx="0.7" dy="2.6">R</tspan><tspan dy="-2.6"> / 012</tspan><tspan font-size="7" dx="0.7" dy="2.6">R</tspan></text>
<text transform="translate(250.9,80.6) rotate(-90)" font-size="10.3" font-weight="bold" fill="#1a1a1a">111<tspan font-size="7" dx="0.7" dy="2.6">C</tspan></text>
<text transform="translate(283.75,62.3) rotate(-90)" font-size="10.3" font-weight="bold" fill="#1a1a1a">104<tspan font-size="7" dx="0.7" dy="2.6">R</tspan></text>
<text transform="translate(298.65,62.25) rotate(-90)" font-size="10.3" font-weight="bold" fill="#1a1a1a">200<tspan font-size="7" dx="0.7" dy="2.6">C</tspan></text>
<path d="M238.6,38.2V99.1M287.4,38.2V64.3" stroke="#666" stroke-width="1.1"/>
</svg>
</body></html>
